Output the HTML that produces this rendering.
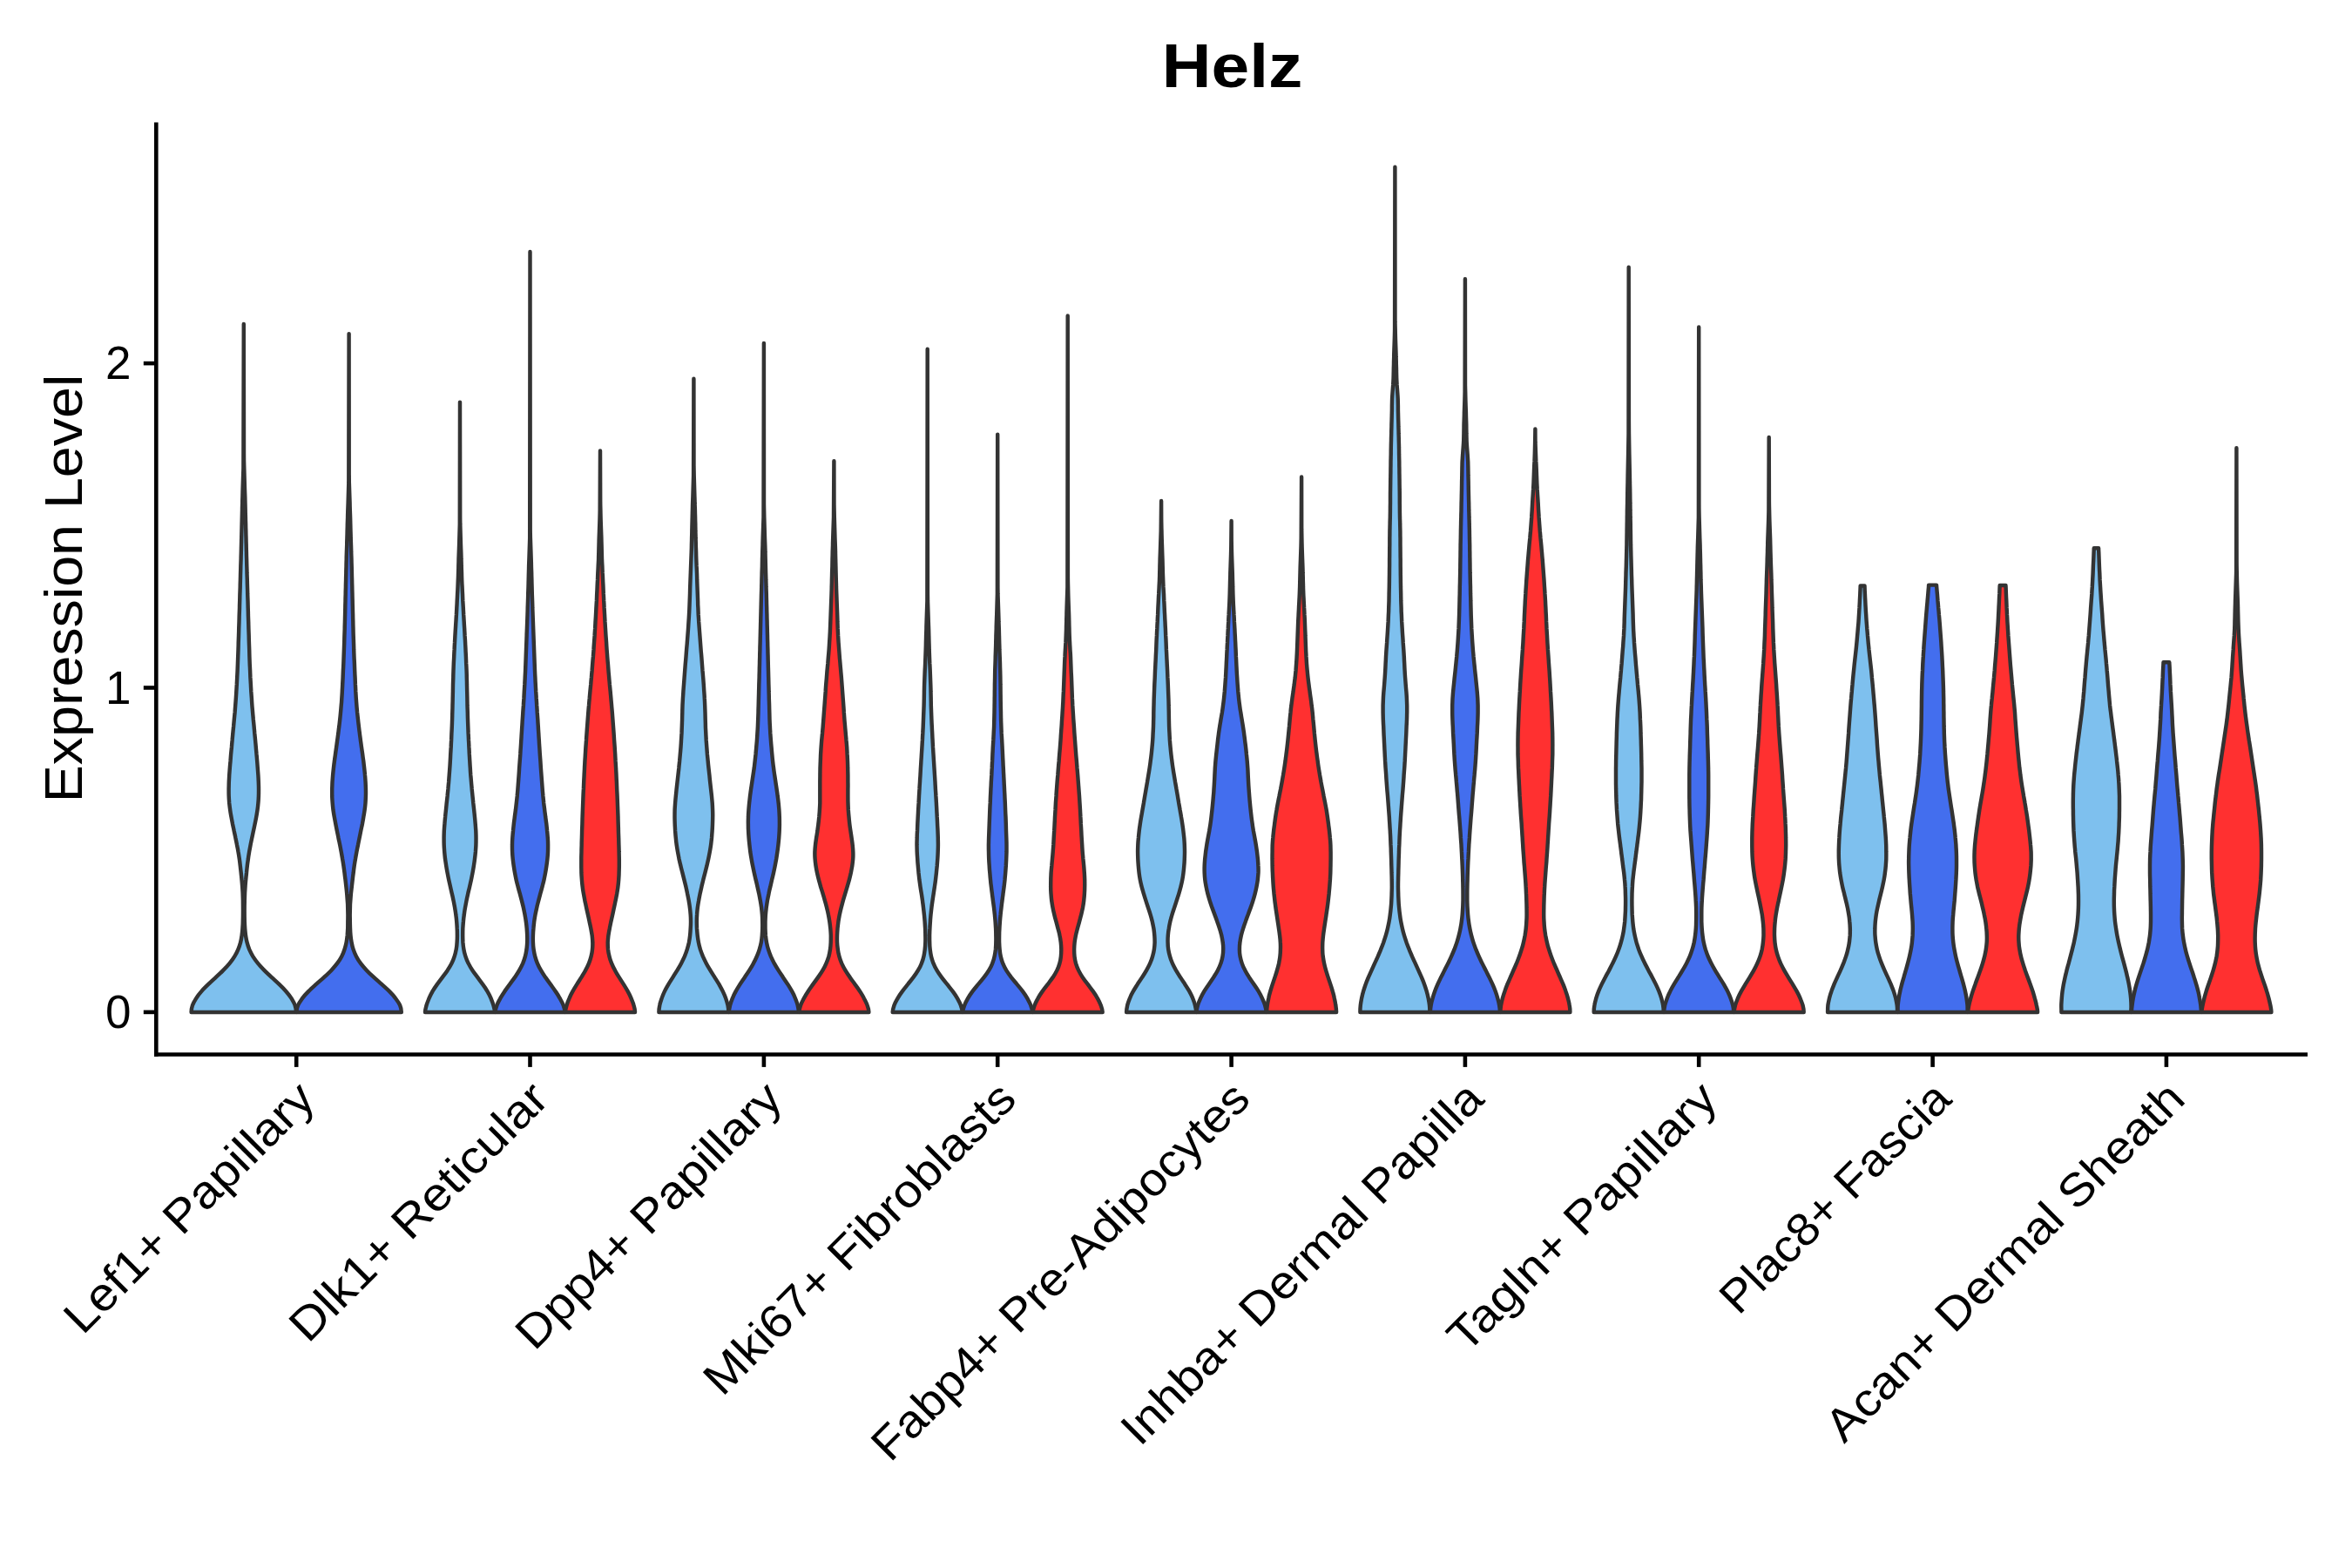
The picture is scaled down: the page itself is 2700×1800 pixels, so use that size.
<!DOCTYPE html>
<html><head><meta charset="utf-8"><title>Helz</title>
<style>
html,body{margin:0;padding:0;background:#fff;}
body{width:2700px;height:1800px;overflow:hidden;}
svg{display:block;}
text{font-family:"Liberation Sans",sans-serif;fill:#000;}
.v{stroke:#333333;stroke-width:4.45;stroke-linejoin:round;stroke-linecap:round;}
.ax{stroke:#000;stroke-width:4.6;fill:none;stroke-linecap:butt;}
</style></head><body>
<svg xmlns="http://www.w3.org/2000/svg" width="2700" height="1800" viewBox="0 0 2700 1800">
<rect width="2700" height="1800" fill="#ffffff"/>

<g>
<path class="v" fill="#7EC0EE" d="M340 1161.9C340 1159.2 339.6 1156.6 338.6 1153.9C337.7 1151.2 336 1148.6 334.4 1145.9C332.7 1143.2 330.7 1140.6 328.3 1137.9C325.9 1135.2 323.3 1132.6 320.5 1129.9C317.7 1127.2 314.7 1124.6 311.8 1121.9C308.9 1119.2 306.1 1116.6 303.4 1113.9C300.8 1111.2 298.3 1108.6 296.1 1105.9C293.9 1103.2 292 1100.6 290.3 1097.9C288.7 1095.2 287.4 1092.6 286.2 1089.9C285.1 1087.2 284.3 1084.6 283.6 1081.9C282.9 1079.2 282.4 1076.6 282 1073.9C281.7 1071.2 281.4 1068.6 281.2 1065.9C281 1063.2 280.9 1060.6 280.8 1057.9C280.6 1049.9 280.6 1041.9 280.8 1033.9C280.9 1025.9 281.4 1017.9 282.2 1009.9C282.4 1007.2 282.7 1004.6 283 1001.9C283.2 999.2 283.5 996.6 283.8 993.9C284.1 991.2 284.5 988.6 284.9 985.9C285.2 983.2 285.7 980.6 286.1 977.9C286.6 975.2 287.1 972.6 287.6 969.9C288.1 967.2 288.7 964.6 289.2 961.9C289.8 959.2 290.4 956.6 290.9 953.9C291.5 951.2 292.1 948.6 292.6 945.9C293.2 943.2 293.7 940.6 294.2 937.9C294.7 935.2 295.1 932.6 295.5 929.9C295.9 927.2 296.2 924.6 296.4 921.9C296.7 919.2 296.8 916.6 296.9 913.9C297 911.2 297 908.6 297 905.9C297 903.2 296.9 900.6 296.8 897.9C296.7 895.2 296.6 892.6 296.4 889.9C296.2 887.2 296 884.6 295.8 881.9C295.6 879.2 295.4 876.6 295.2 873.9C295 871.2 294.8 868.6 294.5 865.9C294.3 863.2 294 860.6 293.8 857.9C293.6 855.2 293.3 852.6 293.1 849.9C292.8 847.2 292.6 844.6 292.3 841.9C292.1 839.2 291.8 836.6 291.6 833.9C291.3 831.2 291.1 828.6 290.8 825.9C290.6 823.2 290.3 820.6 290.1 817.9C289.9 815.2 289.6 812.6 289.4 809.9C289.2 807.2 289 804.6 288.9 801.9C288.7 799.2 288.5 796.6 288.3 793.9C288.2 791.2 288 788.6 287.9 785.9C287.7 783.2 287.6 780.6 287.4 777.9C287.3 775.2 287.2 772.6 287.1 769.9C287 767.2 286.8 764.6 286.7 761.9C286.6 759.2 286.5 756.6 286.4 753.9C286.3 751.2 286.3 748.6 286.2 745.9C286.1 743.2 286 740.6 285.9 737.9C285.8 735.2 285.7 732.6 285.7 729.9C285.6 727.2 285.5 724.6 285.4 721.9C285.3 719.2 285.3 716.6 285.2 713.9C285.1 711.2 285 708.6 284.9 705.9C284.9 703.2 284.8 700.6 284.7 697.9C284.6 695.2 284.6 692.6 284.5 689.9C284.4 687.2 284.3 684.6 284.2 681.9C284.2 679.2 284.1 676.6 284 673.9C283.9 671.2 283.8 668.6 283.8 665.9C283.7 663.2 283.6 660.6 283.5 657.9C283.5 655.2 283.4 652.6 283.3 649.9C283.2 647.2 283.2 644.6 283.1 641.9C283 639.2 282.9 636.6 282.9 633.9C282.8 631.2 282.7 628.6 282.7 625.9C282.6 623.2 282.5 620.6 282.5 617.9C282.4 615.2 282.3 612.6 282.3 609.9C282.2 607.2 282.1 604.6 282.1 601.9C282 599.2 281.9 596.6 281.9 593.9C281.8 591.2 281.7 588.6 281.7 585.9C281.6 583.2 281.6 580.6 281.5 577.9C281.4 575.2 281.4 572.6 281.3 569.9C281.2 567.2 281.1 564.6 281 561.9C280.8 553.9 280.5 545.9 280.3 537.9C280.1 532 280 526.2 280 520.3L279.8 372C279.6 526.2 279.5 532 279.4 537.9C279.2 545.9 278.9 553.9 278.6 561.9C278.5 564.6 278.5 567.2 278.4 569.9C278.3 572.6 278.2 575.2 278.2 577.9C278.1 580.6 278 583.2 278 585.9C277.9 588.6 277.9 591.2 277.8 593.9C277.7 596.6 277.7 599.2 277.6 601.9C277.5 604.6 277.5 607.2 277.4 609.9C277.3 612.6 277.3 615.2 277.2 617.9C277.1 620.6 277.1 623.2 277 625.9C276.9 628.6 276.9 631.2 276.8 633.9C276.7 636.6 276.6 639.2 276.6 641.9C276.5 644.6 276.4 647.2 276.3 649.9C276.3 652.6 276.2 655.2 276.1 657.9C276 660.6 276 663.2 275.9 665.9C275.8 668.6 275.7 671.2 275.7 673.9C275.6 676.6 275.5 679.2 275.4 681.9C275.3 684.6 275.3 687.2 275.2 689.9C275.1 692.6 275 695.2 275 697.9C274.9 700.6 274.8 703.2 274.7 705.9C274.6 708.6 274.6 711.2 274.5 713.9C274.4 716.6 274.3 719.2 274.2 721.9C274.2 724.6 274.1 727.2 274 729.9C273.9 732.6 273.8 735.2 273.7 737.9C273.7 740.6 273.6 743.2 273.5 745.9C273.4 748.6 273.3 751.2 273.2 753.9C273.1 756.6 273 759.2 272.9 761.9C272.8 764.6 272.7 767.2 272.6 769.9C272.5 772.6 272.3 775.2 272.2 777.9C272.1 780.6 271.9 783.2 271.8 785.9C271.6 788.6 271.5 791.2 271.3 793.9C271.2 796.6 271 799.2 270.8 801.9C270.6 804.6 270.4 807.2 270.2 809.9C270 812.6 269.8 815.2 269.6 817.9C269.3 820.6 269.1 823.2 268.8 825.9C268.6 828.6 268.3 831.2 268.1 833.9C267.8 836.6 267.6 839.2 267.3 841.9C267.1 844.6 266.8 847.2 266.6 849.9C266.3 852.6 266.1 855.2 265.9 857.9C265.6 860.6 265.4 863.2 265.1 865.9C264.9 868.6 264.7 871.2 264.5 873.9C264.2 876.6 264 879.2 263.8 881.9C263.6 884.6 263.4 887.2 263.2 889.9C263.1 892.6 262.9 895.2 262.8 897.9C262.7 900.6 262.7 903.2 262.6 905.9C262.6 908.6 262.6 911.2 262.7 913.9C262.8 916.6 263 919.2 263.2 921.9C263.5 924.6 263.8 927.2 264.2 929.9C264.5 932.6 265 935.2 265.5 937.9C266 940.6 266.5 943.2 267 945.9C267.6 948.6 268.2 951.2 268.7 953.9C269.3 956.6 269.9 959.2 270.4 961.9C271 964.6 271.5 967.2 272 969.9C272.6 972.6 273.1 975.2 273.5 977.9C274 980.6 274.4 983.2 274.8 985.9C275.2 988.6 275.5 991.2 275.8 993.9C276.1 996.6 276.4 999.2 276.7 1001.9C277 1004.6 277.2 1007.2 277.5 1009.9C278.3 1017.9 278.8 1025.9 278.9 1033.9C279 1041.9 279.1 1049.9 278.8 1057.9C278.8 1060.6 278.6 1063.2 278.4 1065.9C278.3 1068.6 278 1071.2 277.6 1073.9C277.2 1076.6 276.8 1079.2 276.1 1081.9C275.4 1084.6 274.5 1087.2 273.4 1089.9C272.3 1092.6 271 1095.2 269.3 1097.9C267.7 1100.6 265.8 1103.2 263.6 1105.9C261.4 1108.6 258.9 1111.2 256.2 1113.9C253.6 1116.6 250.7 1119.2 247.8 1121.9C244.9 1124.6 242 1127.2 239.2 1129.9C236.4 1132.6 233.7 1135.2 231.4 1137.9C229 1140.6 226.9 1143.2 225.3 1145.9C223.6 1148.6 222 1151.2 221 1153.9C220.1 1156.6 219.6 1159.2 219.6 1161.9Z"/>
<path class="v" fill="#436EEE" d="M460.8 1161.9C460.8 1159.2 460.3 1156.6 459.1 1153.9C457.9 1151.2 455.9 1148.6 453.9 1145.9C452 1143.2 449.6 1140.6 446.9 1137.9C444.2 1135.2 441.2 1132.6 438.2 1129.9C435.2 1127.2 432.1 1124.6 429.2 1121.9C426.2 1119.2 423.4 1116.6 420.9 1113.9C418.3 1111.2 416 1108.6 414 1105.9C412 1103.2 410.4 1100.6 409 1097.9C407.6 1095.2 406.5 1092.6 405.6 1089.9C404.7 1087.2 404.1 1084.6 403.6 1081.9C403.1 1079.2 402.7 1076.6 402.5 1073.9C402.2 1071.2 402.1 1068.6 402 1065.9C401.9 1063.2 401.8 1060.6 401.8 1057.9C401.8 1055.2 401.7 1052.6 401.7 1049.9C401.7 1041.9 402.1 1033.9 402.9 1025.9C403.2 1023.2 403.5 1020.6 403.8 1017.9C404.1 1015.2 404.4 1012.6 404.7 1009.9C405 1007.2 405.3 1004.6 405.7 1001.9C406 999.2 406.3 996.6 406.7 993.9C407.1 991.2 407.5 988.6 408 985.9C408.4 983.2 408.9 980.6 409.4 977.9C409.9 975.2 410.4 972.6 411 969.9C411.5 967.2 412.1 964.6 412.6 961.9C413.2 959.2 413.7 956.6 414.2 953.9C414.8 951.2 415.3 948.6 415.9 945.9C416.4 943.2 416.9 940.6 417.3 937.9C417.8 935.2 418.2 932.6 418.6 929.9C419 927.2 419.3 924.6 419.5 921.9C419.7 919.2 419.8 916.6 419.9 913.9C420 911.2 420 908.6 419.9 905.9C419.9 903.2 419.7 900.6 419.6 897.9C419.4 895.2 419.3 892.6 419 889.9C418.8 887.2 418.5 884.6 418.2 881.9C417.9 879.2 417.6 876.6 417.3 873.9C416.9 871.2 416.5 868.6 416.2 865.9C415.8 863.2 415.4 860.6 415 857.9C414.7 855.2 414.3 852.6 413.9 849.9C413.6 847.2 413.2 844.6 412.9 841.9C412.5 839.2 412.2 836.6 411.9 833.9C411.6 831.2 411.2 828.6 411 825.9C410.7 823.2 410.4 820.6 410.1 817.9C409.9 815.2 409.6 812.6 409.4 809.9C409.2 807.2 409 804.6 408.8 801.9C408.6 799.2 408.5 796.6 408.3 793.9C408.2 791.2 408.1 788.6 407.9 785.9C407.8 783.2 407.7 780.6 407.6 777.9C407.4 775.2 407.3 772.6 407.2 769.9C407.1 767.2 407 764.6 406.9 761.9C406.8 759.2 406.6 756.6 406.5 753.9C406.4 751.2 406.3 748.6 406.2 745.9C406.2 743.2 406.1 740.6 406 737.9C405.9 735.2 405.8 732.6 405.7 729.9C405.6 727.2 405.5 724.6 405.5 721.9C405.4 719.2 405.3 716.6 405.3 713.9C405.2 711.2 405.1 708.6 405.1 705.9C405 703.2 404.9 700.6 404.9 697.9C404.8 695.2 404.7 692.6 404.7 689.9C404.6 687.2 404.5 684.6 404.5 681.9C404.4 679.2 404.3 676.6 404.3 673.9C404.2 671.2 404.1 668.6 404.1 665.9C404 663.2 403.9 660.6 403.9 657.9C403.8 655.2 403.8 652.6 403.7 649.9C403.6 647.2 403.5 644.6 403.5 641.9C403.4 639.2 403.3 636.6 403.2 633.9C403.2 631.2 403.1 628.6 403 625.9C402.9 623.2 402.8 620.6 402.7 617.9C402.7 615.2 402.6 612.6 402.5 609.9C402.4 607.2 402.4 604.6 402.3 601.9C402.2 599.2 402.2 596.6 402.1 593.9C402 591.2 401.9 588.6 401.8 585.9C401.7 583.2 401.6 580.6 401.6 577.9C401.3 569.9 401 561.9 400.8 553.9C400.8 551.3 400.8 548.8 400.7 546.2L400.6 383.1C400.4 548.8 400.3 551.3 400.3 553.9C400.1 561.9 399.9 569.9 399.6 577.9C399.5 580.6 399.4 583.2 399.3 585.9C399.2 588.6 399.1 591.2 399.1 593.9C399 596.6 398.9 599.2 398.8 601.9C398.8 604.6 398.7 607.2 398.6 609.9C398.6 612.6 398.5 615.2 398.4 617.9C398.3 620.6 398.2 623.2 398.2 625.9C398.1 628.6 398 631.2 397.9 633.9C397.8 636.6 397.7 639.2 397.7 641.9C397.6 644.6 397.5 647.2 397.5 649.9C397.4 652.6 397.3 655.2 397.3 657.9C397.2 660.6 397.1 663.2 397.1 665.9C397 668.6 396.9 671.2 396.9 673.9C396.8 676.6 396.7 679.2 396.7 681.9C396.6 684.6 396.5 687.2 396.5 689.9C396.4 692.6 396.3 695.2 396.3 697.9C396.2 700.6 396.2 703.2 396.1 705.9C396 708.6 396 711.2 395.9 713.9C395.8 716.6 395.7 719.2 395.7 721.9C395.6 724.6 395.5 727.2 395.4 729.9C395.3 732.6 395.3 735.2 395.2 737.9C395.1 740.6 395 743.2 394.9 745.9C394.8 748.6 394.7 751.2 394.6 753.9C394.5 756.6 394.4 759.2 394.3 761.9C394.2 764.6 394.1 767.2 393.9 769.9C393.8 772.6 393.7 775.2 393.6 777.9C393.5 780.6 393.3 783.2 393.2 785.9C393.1 788.6 392.9 791.2 392.8 793.9C392.7 796.6 392.5 799.2 392.3 801.9C392.2 804.6 392 807.2 391.7 809.9C391.5 812.6 391.3 815.2 391 817.9C390.8 820.6 390.5 823.2 390.2 825.9C389.9 828.6 389.6 831.2 389.3 833.9C388.9 836.6 388.6 839.2 388.3 841.9C387.9 844.6 387.6 847.2 387.2 849.9C386.8 852.6 386.5 855.2 386.1 857.9C385.7 860.6 385.3 863.2 385 865.9C384.6 868.6 384.2 871.2 383.9 873.9C383.5 876.6 383.2 879.2 382.9 881.9C382.6 884.6 382.3 887.2 382.1 889.9C381.9 892.6 381.7 895.2 381.5 897.9C381.4 900.6 381.3 903.2 381.2 905.9C381.2 908.6 381.2 911.2 381.2 913.9C381.3 916.6 381.5 919.2 381.7 921.9C381.9 924.6 382.2 927.2 382.5 929.9C382.9 932.6 383.3 935.2 383.8 937.9C384.3 940.6 384.8 943.2 385.3 945.9C385.8 948.6 386.3 951.2 386.9 953.9C387.4 956.6 388 959.2 388.5 961.9C389.1 964.6 389.6 967.2 390.2 969.9C390.7 972.6 391.2 975.2 391.7 977.9C392.2 980.6 392.7 983.2 393.1 985.9C393.6 988.6 394 991.2 394.4 993.9C394.8 996.6 395.1 999.2 395.5 1001.9C395.8 1004.6 396.1 1007.2 396.5 1009.9C396.8 1012.6 397.1 1015.2 397.4 1017.9C397.7 1020.6 398 1023.2 398.2 1025.9C399 1033.9 399.4 1041.9 399.4 1049.9C399.4 1052.6 399.4 1055.2 399.3 1057.9C399.3 1060.6 399.3 1063.2 399.2 1065.9C399.1 1068.6 398.9 1071.2 398.7 1073.9C398.4 1076.6 398.1 1079.2 397.6 1081.9C397.1 1084.6 396.4 1087.2 395.5 1089.9C394.7 1092.6 393.6 1095.2 392.2 1097.9C390.8 1100.6 389.1 1103.2 387.1 1105.9C385.1 1108.6 382.8 1111.2 380.3 1113.9C377.7 1116.6 374.9 1119.2 372 1121.9C369 1124.6 365.9 1127.2 362.9 1129.9C359.9 1132.6 356.9 1135.2 354.3 1137.9C351.6 1140.6 349.2 1143.2 347.2 1145.9C345.3 1148.6 343.3 1151.2 342.1 1153.9C340.9 1156.6 340.4 1159.2 340.4 1161.9Z"/>
<path class="v" fill="#7EC0EE" d="M568 1161.9C568 1159.2 567.2 1156.6 566.4 1153.9C565.7 1151.2 564.6 1148.6 563.5 1145.9C562.4 1143.2 561 1140.6 559.4 1137.9C557.9 1135.2 556.1 1132.6 554.1 1129.9C552.2 1127.2 550.2 1124.6 548.2 1121.9C546.2 1119.2 544.2 1116.6 542.4 1113.9C540.6 1111.2 539 1108.6 537.7 1105.9C536.3 1103.2 535.2 1100.6 534.4 1097.9C533.5 1095.2 532.8 1092.6 532.4 1089.9C531.9 1087.2 531.6 1084.6 531.4 1081.9C531.3 1079.2 531.2 1076.6 531.2 1073.9C531.2 1071.2 531.2 1068.6 531.3 1065.9C531.5 1063.2 531.6 1060.6 531.9 1057.9C532.1 1055.2 532.4 1052.6 532.8 1049.9C533.1 1047.2 533.5 1044.6 534 1041.9C534.5 1039.2 535 1036.6 535.5 1033.9C536 1031.2 536.6 1028.6 537.2 1025.9C537.8 1023.2 538.5 1020.6 539.1 1017.9C539.7 1015.2 540.3 1012.6 540.9 1009.9C541.5 1007.2 542 1004.6 542.5 1001.9C543 999.2 543.5 996.6 543.9 993.9C544.3 991.2 544.7 988.6 545 985.9C545.4 983.2 545.6 980.6 545.9 977.9C546.1 975.2 546.3 972.6 546.4 969.9C546.5 967.2 546.5 964.6 546.5 961.9C546.5 959.2 546.4 956.6 546.3 953.9C546.1 951.2 545.9 948.6 545.7 945.9C545.5 943.2 545.3 940.6 545 937.9C544.7 935.2 544.5 932.6 544.2 929.9C543.9 927.2 543.6 924.6 543.3 921.9C543.1 919.2 542.8 916.6 542.5 913.9C542.2 911.2 542 908.6 541.7 905.9C541.5 903.2 541.2 900.6 541 897.9C540.8 895.2 540.6 892.6 540.3 889.9C540.1 887.2 539.9 884.6 539.8 881.9C539.6 879.2 539.4 876.6 539.3 873.9C539.1 871.2 539 868.6 538.8 865.9C538.7 863.2 538.6 860.6 538.4 857.9C538.3 855.2 538.2 852.6 538 849.9C537.9 847.2 537.8 844.6 537.6 841.9C537.5 839.2 537.4 836.6 537.3 833.9C537.2 831.2 537.1 828.6 537 825.9C536.9 823.2 536.8 820.6 536.8 817.9C536.7 815.2 536.6 812.6 536.5 809.9C536.5 807.2 536.4 804.6 536.4 801.9C536.3 799.2 536.3 796.6 536.2 793.9C536.1 791.2 536.1 788.6 536 785.9C536 783.2 535.9 780.6 535.8 777.9C535.8 775.2 535.7 772.6 535.6 769.9C535.5 767.2 535.4 764.6 535.2 761.9C535.1 759.2 535 756.6 534.9 753.9C534.8 751.2 534.6 748.6 534.5 745.9C534.4 743.2 534.2 740.6 534.1 737.9C534 735.2 533.8 732.6 533.6 729.9C533.5 727.2 533.3 724.6 533.2 721.9C533 719.2 532.8 716.6 532.7 713.9C532.5 711.2 532.4 708.6 532.2 705.9C532.1 703.2 531.9 700.6 531.8 697.9C531.6 695.2 531.5 692.6 531.3 689.9C531.2 687.2 531.1 684.6 531 681.9C530.8 679.2 530.7 676.6 530.6 673.9C530.4 671.2 530.3 668.6 530.2 665.9C530.1 663.2 530 660.6 530 657.9C529.9 655.2 529.8 652.6 529.7 649.9C529.7 647.2 529.6 644.6 529.5 641.9C529.5 639.2 529.4 636.6 529.3 633.9C529.2 631.2 529.1 628.6 529 625.9C528.7 617.9 528.5 609.9 528.3 601.9C528.3 599.4 528.2 596.9 528.2 594.4L528 461.6C527.9 596.9 527.8 599.4 527.8 601.9C527.6 609.9 527.4 617.9 527.1 625.9C527 628.6 526.9 631.2 526.8 633.9C526.7 636.6 526.6 639.2 526.5 641.9C526.5 644.6 526.4 647.2 526.3 649.9C526.3 652.6 526.2 655.2 526.1 657.9C526 660.6 526 663.2 525.8 665.9C525.7 668.6 525.6 671.2 525.5 673.9C525.4 676.6 525.3 679.2 525.1 681.9C525 684.6 524.9 687.2 524.7 689.9C524.6 692.6 524.5 695.2 524.3 697.9C524.2 700.6 524 703.2 523.9 705.9C523.7 708.6 523.6 711.2 523.4 713.9C523.2 716.6 523.1 719.2 522.9 721.9C522.7 724.6 522.6 727.2 522.4 729.9C522.3 732.6 522.1 735.2 522 737.9C521.8 740.6 521.7 743.2 521.6 745.9C521.4 748.6 521.3 751.2 521.2 753.9C521.1 756.6 520.9 759.2 520.8 761.9C520.7 764.6 520.6 767.2 520.5 769.9C520.4 772.6 520.3 775.2 520.3 777.9C520.2 780.6 520.1 783.2 520 785.9C520 788.6 519.9 791.2 519.9 793.9C519.8 796.6 519.8 799.2 519.7 801.9C519.7 804.6 519.6 807.2 519.5 809.9C519.5 812.6 519.4 815.2 519.3 817.9C519.2 820.6 519.2 823.2 519.1 825.9C519 828.6 518.9 831.2 518.8 833.9C518.7 836.6 518.6 839.2 518.4 841.9C518.3 844.6 518.2 847.2 518.1 849.9C517.9 852.6 517.8 855.2 517.7 857.9C517.5 860.6 517.4 863.2 517.2 865.9C517.1 868.6 517 871.2 516.8 873.9C516.7 876.6 516.5 879.2 516.3 881.9C516.1 884.6 515.9 887.2 515.7 889.9C515.5 892.6 515.3 895.2 515.1 897.9C514.8 900.6 514.6 903.2 514.4 905.9C514.1 908.6 513.8 911.2 513.6 913.9C513.3 916.6 513 919.2 512.7 921.9C512.5 924.6 512.2 927.2 511.9 929.9C511.6 932.6 511.3 935.2 511.1 937.9C510.8 940.6 510.6 943.2 510.4 945.9C510.1 948.6 510 951.2 509.8 953.9C509.7 956.6 509.6 959.2 509.6 961.9C509.6 964.6 509.6 967.2 509.7 969.9C509.8 972.6 510 975.2 510.2 977.9C510.4 980.6 510.7 983.2 511 985.9C511.4 988.6 511.8 991.2 512.2 993.9C512.6 996.6 513.1 999.2 513.6 1001.9C514.1 1004.6 514.6 1007.2 515.2 1009.9C515.8 1012.6 516.4 1015.2 517 1017.9C517.6 1020.6 518.2 1023.2 518.8 1025.9C519.5 1028.6 520 1031.2 520.6 1033.9C521.1 1036.6 521.6 1039.2 522.1 1041.9C522.5 1044.6 523 1047.2 523.3 1049.9C523.7 1052.6 524 1055.2 524.2 1057.9C524.4 1060.6 524.6 1063.2 524.7 1065.9C524.9 1068.6 524.9 1071.2 524.9 1073.9C524.9 1076.6 524.8 1079.2 524.6 1081.9C524.5 1084.6 524.2 1087.2 523.7 1089.9C523.2 1092.6 522.6 1095.2 521.7 1097.9C520.9 1100.6 519.8 1103.2 518.4 1105.9C517 1108.6 515.4 1111.2 513.7 1113.9C511.9 1116.6 509.9 1119.2 507.9 1121.9C505.9 1124.6 503.9 1127.2 501.9 1129.9C500 1132.6 498.2 1135.2 496.6 1137.9C495.1 1140.6 493.7 1143.2 492.6 1145.9C491.5 1148.6 490.4 1151.2 489.6 1153.9C488.9 1156.6 488 1159.2 488 1161.9Z"/>
<path class="v" fill="#436EEE" d="M648.5 1161.9C648.5 1159.2 647.7 1156.6 646.7 1153.9C645.6 1151.2 644.1 1148.6 642.6 1145.9C641.2 1143.2 639.5 1140.6 637.6 1137.9C635.8 1135.2 633.8 1132.6 631.9 1129.9C629.9 1127.2 628 1124.6 626.1 1121.9C624.3 1119.2 622.5 1116.6 621 1113.9C619.4 1111.2 618 1108.6 616.9 1105.9C615.8 1103.2 614.9 1100.6 614.2 1097.9C613.5 1095.2 613 1092.6 612.6 1089.9C612.2 1087.2 612 1084.6 611.9 1081.9C611.8 1079.2 611.8 1076.6 611.9 1073.9C612 1071.2 612.1 1068.6 612.4 1065.9C612.6 1063.2 612.9 1060.6 613.2 1057.9C613.6 1055.2 614 1052.6 614.5 1049.9C615 1047.2 615.6 1044.6 616.2 1041.9C616.8 1039.2 617.5 1036.6 618.2 1033.9C618.9 1031.2 619.6 1028.6 620.3 1025.9C621.1 1023.2 621.8 1020.6 622.5 1017.9C623.2 1015.2 623.9 1012.6 624.5 1009.9C625.1 1007.2 625.6 1004.6 626.1 1001.9C626.6 999.2 627 996.6 627.4 993.9C627.8 991.2 628.1 988.6 628.4 985.9C628.7 983.2 628.9 980.6 629 977.9C629.1 975.2 629.1 972.6 629.1 969.9C629.1 967.2 629 964.6 628.8 961.9C628.6 959.2 628.4 956.6 628.1 953.9C627.9 951.2 627.6 948.6 627.3 945.9C626.9 943.2 626.6 940.6 626.2 937.9C625.9 935.2 625.5 932.6 625.2 929.9C624.9 927.2 624.5 924.6 624.2 921.9C624 919.2 623.7 916.6 623.4 913.9C623.2 911.2 622.9 908.6 622.7 905.9C622.5 903.2 622.3 900.6 622.1 897.9C621.9 895.2 621.7 892.6 621.5 889.9C621.3 887.2 621.1 884.6 620.9 881.9C620.7 879.2 620.6 876.6 620.4 873.9C620.2 871.2 620 868.6 619.8 865.9C619.6 863.2 619.5 860.6 619.3 857.9C619.1 855.2 618.9 852.6 618.8 849.9C618.6 847.2 618.4 844.6 618.3 841.9C618.1 839.2 617.9 836.6 617.8 833.9C617.6 831.2 617.4 828.6 617.3 825.9C617.1 823.2 616.9 820.6 616.7 817.9C616.6 815.2 616.4 812.6 616.2 809.9C616.1 807.2 615.9 804.6 615.7 801.9C615.6 799.2 615.4 796.6 615.2 793.9C615.1 791.2 614.9 788.6 614.8 785.9C614.6 783.2 614.5 780.6 614.4 777.9C614.2 775.2 614.1 772.6 614 769.9C613.9 767.2 613.8 764.6 613.7 761.9C613.6 759.2 613.5 756.6 613.4 753.9C613.3 751.2 613.2 748.6 613.1 745.9C613 743.2 612.9 740.6 612.8 737.9C612.7 735.2 612.6 732.6 612.5 729.9C612.4 727.2 612.3 724.6 612.2 721.9C612.1 719.2 612 716.6 611.9 713.9C611.8 711.2 611.7 708.6 611.6 705.9C611.5 703.2 611.4 700.6 611.3 697.9C611.3 695.2 611.2 692.6 611.1 689.9C611 687.2 610.9 684.6 610.8 681.9C610.7 679.2 610.7 676.6 610.6 673.9C610.5 671.2 610.4 668.6 610.4 665.9C610.3 663.2 610.2 660.6 610.2 657.9C610.1 655.2 610 652.6 609.9 649.9C609.9 647.2 609.8 644.6 609.7 641.9C609.4 633.9 609.1 625.9 608.9 617.9C608.8 613.9 608.7 609.9 608.7 605.9L608.5 288.9C608.3 609.9 608.3 613.9 608.2 617.9C608 625.9 607.7 633.9 607.4 641.9C607.3 644.6 607.2 647.2 607.1 649.9C607.1 652.6 607 655.2 606.9 657.9C606.8 660.6 606.8 663.2 606.7 665.9C606.6 668.6 606.6 671.2 606.5 673.9C606.4 676.6 606.3 679.2 606.2 681.9C606.2 684.6 606.1 687.2 606 689.9C605.9 692.6 605.8 695.2 605.7 697.9C605.7 700.6 605.6 703.2 605.5 705.9C605.4 708.6 605.3 711.2 605.2 713.9C605.1 716.6 605 719.2 604.9 721.9C604.8 724.6 604.6 727.2 604.6 729.9C604.5 732.6 604.4 735.2 604.3 737.9C604.2 740.6 604.1 743.2 604 745.9C603.9 748.6 603.8 751.2 603.7 753.9C603.6 756.6 603.5 759.2 603.4 761.9C603.3 764.6 603.2 767.2 603.1 769.9C603 772.6 602.8 775.2 602.7 777.9C602.6 780.6 602.4 783.2 602.3 785.9C602.1 788.6 602 791.2 601.8 793.9C601.7 796.6 601.5 799.2 601.4 801.9C601.2 804.6 601 807.2 600.9 809.9C600.7 812.6 600.5 815.2 600.3 817.9C600.2 820.6 600 823.2 599.8 825.9C599.6 828.6 599.5 831.2 599.3 833.9C599.1 836.6 599 839.2 598.8 841.9C598.6 844.6 598.5 847.2 598.3 849.9C598.1 852.6 598 855.2 597.8 857.9C597.6 860.6 597.4 863.2 597.3 865.9C597.1 868.6 596.9 871.2 596.7 873.9C596.5 876.6 596.3 879.2 596.1 881.9C596 884.6 595.8 887.2 595.6 889.9C595.4 892.6 595.2 895.2 595 897.9C594.8 900.6 594.6 903.2 594.4 905.9C594.2 908.6 593.9 911.2 593.7 913.9C593.4 916.6 593.1 919.2 592.8 921.9C592.5 924.6 592.2 927.2 591.9 929.9C591.5 932.6 591.2 935.2 590.8 937.9C590.5 940.6 590.1 943.2 589.8 945.9C589.5 948.6 589.2 951.2 589 953.9C588.7 956.6 588.5 959.2 588.3 961.9C588.1 964.6 588 967.2 588 969.9C587.9 972.6 588 975.2 588.1 977.9C588.2 980.6 588.4 983.2 588.7 985.9C589 988.6 589.3 991.2 589.7 993.9C590.1 996.6 590.5 999.2 591 1001.9C591.5 1004.6 592 1007.2 592.6 1009.9C593.2 1012.6 593.9 1015.2 594.6 1017.9C595.3 1020.6 596 1023.2 596.8 1025.9C597.5 1028.6 598.2 1031.2 598.9 1033.9C599.6 1036.6 600.2 1039.2 600.9 1041.9C601.5 1044.6 602 1047.2 602.5 1049.9C603 1052.6 603.5 1055.2 603.8 1057.9C604.2 1060.6 604.5 1063.2 604.7 1065.9C604.9 1068.6 605.1 1071.2 605.2 1073.9C605.3 1076.6 605.3 1079.2 605.2 1081.9C605.1 1084.6 604.8 1087.2 604.5 1089.9C604.1 1092.6 603.6 1095.2 602.9 1097.9C602.2 1100.6 601.3 1103.2 600.2 1105.9C599 1108.6 597.7 1111.2 596.1 1113.9C594.6 1116.6 592.8 1119.2 591 1121.9C589.1 1124.6 587.1 1127.2 585.2 1129.9C583.2 1132.6 581.3 1135.2 579.4 1137.9C577.6 1140.6 575.9 1143.2 574.4 1145.9C573 1148.6 571.4 1151.2 570.4 1153.9C569.4 1156.6 568.5 1159.2 568.5 1161.9Z"/>
<path class="v" fill="#FF3030" d="M729 1161.9C729 1159.2 728.3 1156.6 727.5 1153.9C726.8 1151.2 725.6 1148.6 724.5 1145.9C723.4 1143.2 722.1 1140.6 720.6 1137.9C719.1 1135.2 717.5 1132.6 715.8 1129.9C714.1 1127.2 712.4 1124.6 710.7 1121.9C709 1119.2 707.4 1116.6 706 1113.9C704.5 1111.2 703.2 1108.6 702.1 1105.9C701 1103.2 700.1 1100.6 699.5 1097.9C698.8 1095.2 698.3 1092.6 698 1089.9C697.8 1087.2 697.7 1084.6 697.7 1081.9C697.8 1079.2 698.1 1076.6 698.4 1073.9C698.8 1071.2 699.2 1068.6 699.8 1065.9C700.3 1063.2 700.9 1060.6 701.4 1057.9C702 1055.2 702.6 1052.6 703.2 1049.9C703.8 1047.2 704.4 1044.6 704.9 1041.9C705.5 1039.2 706.1 1036.6 706.6 1033.9C707.2 1031.2 707.7 1028.6 708.2 1025.9C708.6 1023.2 709.1 1020.6 709.4 1017.9C709.8 1015.2 710 1012.6 710.2 1009.9C710.4 1007.2 710.6 1004.6 710.6 1001.9C710.7 999.2 710.8 996.6 710.8 993.9C710.8 991.2 710.8 988.6 710.8 985.9C710.7 983.2 710.7 980.6 710.6 977.9C710.6 975.2 710.5 972.6 710.4 969.9C710.3 967.2 710.3 964.6 710.2 961.9C710.1 959.2 710 956.6 709.9 953.9C709.9 951.2 709.8 948.6 709.7 945.9C709.6 943.2 709.5 940.6 709.5 937.9C709.4 935.2 709.3 932.6 709.2 929.9C709.1 927.2 709 924.6 708.9 921.9C708.8 919.2 708.7 916.6 708.6 913.9C708.5 911.2 708.3 908.6 708.2 905.9C708.1 903.2 708 900.6 707.9 897.9C707.7 895.2 707.6 892.6 707.5 889.9C707.4 887.2 707.2 884.6 707.1 881.9C706.9 879.2 706.8 876.6 706.6 873.9C706.5 871.2 706.3 868.6 706.2 865.9C706 863.2 705.8 860.6 705.7 857.9C705.5 855.2 705.3 852.6 705.1 849.9C704.9 847.2 704.8 844.6 704.6 841.9C704.4 839.2 704.2 836.6 704 833.9C703.8 831.2 703.6 828.6 703.4 825.9C703.2 823.2 703 820.6 702.8 817.9C702.6 815.2 702.3 812.6 702.1 809.9C701.9 807.2 701.6 804.6 701.4 801.9C701.2 799.2 700.9 796.6 700.7 793.9C700.4 791.2 700.2 788.6 699.9 785.9C699.7 783.2 699.4 780.6 699.2 777.9C699 775.2 698.7 772.6 698.5 769.9C698.3 767.2 698.1 764.6 697.9 761.9C697.6 759.2 697.4 756.6 697.2 753.9C697 751.2 696.8 748.6 696.6 745.9C696.4 743.2 696.2 740.6 696.1 737.9C695.9 735.2 695.7 732.6 695.5 729.9C695.3 727.2 695.2 724.6 695 721.9C694.8 719.2 694.7 716.6 694.5 713.9C694.4 711.2 694.2 708.6 694.1 705.9C693.9 703.2 693.8 700.6 693.6 697.9C693.5 695.2 693.4 692.6 693.2 689.9C693.1 687.2 693 684.6 692.8 681.9C692.7 679.2 692.6 676.6 692.5 673.9C692.4 671.2 692.2 668.6 692.1 665.9C692 663.2 691.9 660.6 691.7 657.9C691.6 655.2 691.5 652.6 691.4 649.9C691.2 647.2 691.1 644.6 691 641.9C690.9 639.2 690.9 636.6 690.8 633.9C690.7 631.2 690.7 628.6 690.6 625.9C690.5 623.2 690.4 620.6 690.4 617.9C690.3 615.2 690.2 612.6 690.1 609.9C689.8 601.9 689.5 593.9 689.4 585.9C689.3 582.6 689.2 579.4 689.2 576.1L689 517.4C688.8 579.4 688.8 582.6 688.7 585.9C688.6 593.9 688.3 601.9 688 609.9C687.9 612.6 687.8 615.2 687.7 617.9C687.6 620.6 687.6 623.2 687.5 625.9C687.4 628.6 687.4 631.2 687.3 633.9C687.2 636.6 687.1 639.2 687.1 641.9C687 644.6 686.8 647.2 686.7 649.9C686.6 652.6 686.5 655.2 686.3 657.9C686.2 660.6 686.1 663.2 686 665.9C685.8 668.6 685.7 671.2 685.6 673.9C685.5 676.6 685.4 679.2 685.2 681.9C685.1 684.6 685 687.2 684.9 689.9C684.7 692.6 684.6 695.2 684.4 697.9C684.3 700.6 684.2 703.2 684 705.9C683.9 708.6 683.7 711.2 683.5 713.9C683.4 716.6 683.2 719.2 683.1 721.9C682.9 724.6 682.7 727.2 682.6 729.9C682.4 732.6 682.2 735.2 682 737.9C681.8 740.6 681.6 743.2 681.5 745.9C681.3 748.6 681.1 751.2 680.9 753.9C680.6 756.6 680.4 759.2 680.2 761.9C680 764.6 679.8 767.2 679.6 769.9C679.3 772.6 679.1 775.2 678.9 777.9C678.6 780.6 678.4 783.2 678.2 785.9C677.9 788.6 677.7 791.2 677.4 793.9C677.2 796.6 676.9 799.2 676.7 801.9C676.4 804.6 676.2 807.2 676 809.9C675.7 812.6 675.5 815.2 675.3 817.9C675.1 820.6 674.9 823.2 674.7 825.9C674.5 828.6 674.3 831.2 674.1 833.9C673.9 836.6 673.7 839.2 673.5 841.9C673.3 844.6 673.1 847.2 673 849.9C672.8 852.6 672.6 855.2 672.4 857.9C672.2 860.6 672.1 863.2 671.9 865.9C671.8 868.6 671.6 871.2 671.4 873.9C671.3 876.6 671.1 879.2 671 881.9C670.9 884.6 670.7 887.2 670.6 889.9C670.5 892.6 670.3 895.2 670.2 897.9C670.1 900.6 670 903.2 669.9 905.9C669.7 908.6 669.6 911.2 669.5 913.9C669.4 916.6 669.3 919.2 669.2 921.9C669.1 924.6 669 927.2 668.9 929.9C668.8 932.6 668.7 935.2 668.6 937.9C668.5 940.6 668.5 943.2 668.4 945.9C668.3 948.6 668.2 951.2 668.1 953.9C668.1 956.6 668 959.2 667.9 961.9C667.8 964.6 667.7 967.2 667.7 969.9C667.6 972.6 667.5 975.2 667.5 977.9C667.4 980.6 667.3 983.2 667.3 985.9C667.3 988.6 667.3 991.2 667.3 993.9C667.3 996.6 667.4 999.2 667.4 1001.9C667.5 1004.6 667.7 1007.2 667.9 1009.9C668.1 1012.6 668.3 1015.2 668.7 1017.9C669 1020.6 669.4 1023.2 669.9 1025.9C670.4 1028.6 670.9 1031.2 671.4 1033.9C672 1036.6 672.5 1039.2 673.1 1041.9C673.7 1044.6 674.3 1047.2 674.9 1049.9C675.5 1052.6 676.1 1055.2 676.6 1057.9C677.2 1060.6 677.8 1063.2 678.3 1065.9C678.8 1068.6 679.3 1071.2 679.7 1073.9C680 1076.6 680.3 1079.2 680.3 1081.9C680.4 1084.6 680.3 1087.2 680 1089.9C679.8 1092.6 679.3 1095.2 678.6 1097.9C677.9 1100.6 677.1 1103.2 676 1105.9C674.9 1108.6 673.6 1111.2 672.1 1113.9C670.7 1116.6 669 1119.2 667.4 1121.9C665.7 1124.6 663.9 1127.2 662.3 1129.9C660.6 1132.6 658.9 1135.2 657.5 1137.9C656 1140.6 654.7 1143.2 653.6 1145.9C652.4 1148.6 651.3 1151.2 650.6 1153.9C649.8 1156.6 649 1159.2 649 1161.9Z"/>
<path class="v" fill="#7EC0EE" d="M836.4 1161.9C836.4 1159.2 836 1156.6 835.5 1153.9C834.9 1151.2 834 1148.6 833.1 1145.9C832.2 1143.2 831 1140.6 829.7 1137.9C828.4 1135.2 826.9 1132.6 825.4 1129.9C823.8 1127.2 822.1 1124.6 820.4 1121.9C818.7 1119.2 817 1116.6 815.4 1113.9C813.8 1111.2 812.2 1108.6 810.8 1105.9C809.4 1103.2 808.1 1100.6 806.9 1097.9C805.8 1095.2 804.8 1092.6 803.9 1089.9C803.1 1087.2 802.4 1084.6 801.9 1081.9C801.4 1079.2 801 1076.6 800.7 1073.9C800.4 1071.2 800.2 1068.6 800 1065.9C799.9 1063.2 799.8 1060.6 799.8 1057.9C799.8 1055.2 799.9 1052.6 800.1 1049.9C800.2 1047.2 800.5 1044.6 800.8 1041.9C801.2 1039.2 801.6 1036.6 802.1 1033.9C802.5 1031.2 803.1 1028.6 803.6 1025.9C804.2 1023.2 804.8 1020.6 805.4 1017.9C806 1015.2 806.7 1012.6 807.3 1009.9C808 1007.2 808.7 1004.6 809.4 1001.9C810.1 999.2 810.7 996.6 811.4 993.9C812 991.2 812.6 988.6 813.2 985.9C813.8 983.2 814.3 980.6 814.8 977.9C815.3 975.2 815.7 972.6 816.1 969.9C816.4 967.2 816.7 964.6 817 961.9C817.2 959.2 817.4 956.6 817.6 953.9C817.8 951.2 817.9 948.6 818 945.9C818.1 943.2 818.2 940.6 818.2 937.9C818.3 935.2 818.2 932.6 818.1 929.9C818 927.2 817.9 924.6 817.7 921.9C817.5 919.2 817.2 916.6 817 913.9C816.7 911.2 816.4 908.6 816.1 905.9C815.8 903.2 815.5 900.6 815.2 897.9C814.9 895.2 814.6 892.6 814.4 889.9C814.1 887.2 813.8 884.6 813.5 881.9C813.2 879.2 812.9 876.6 812.7 873.9C812.4 871.2 812.2 868.6 811.9 865.9C811.7 863.2 811.5 860.6 811.3 857.9C811.1 855.2 810.9 852.6 810.7 849.9C810.6 847.2 810.4 844.6 810.3 841.9C810.2 839.2 810 836.6 809.9 833.9C809.9 831.2 809.8 828.6 809.7 825.9C809.6 823.2 809.6 820.6 809.5 817.9C809.4 815.2 809.3 812.6 809.2 809.9C809.1 807.2 809 804.6 808.8 801.9C808.7 799.2 808.5 796.6 808.3 793.9C808.1 791.2 808 788.6 807.8 785.9C807.6 783.2 807.4 780.6 807.2 777.9C807 775.2 806.8 772.6 806.5 769.9C806.3 767.2 806.1 764.6 805.9 761.9C805.7 759.2 805.5 756.6 805.3 753.9C805.1 751.2 804.8 748.6 804.6 745.9C804.4 743.2 804.2 740.6 804 737.9C803.8 735.2 803.6 732.6 803.4 729.9C803.2 727.2 803 724.6 802.8 721.9C802.6 719.2 802.4 716.6 802.2 713.9C802.1 711.2 801.9 708.6 801.7 705.9C801.6 703.2 801.5 700.6 801.4 697.9C801.2 695.2 801.1 692.6 801.1 689.9C801 687.2 800.9 684.6 800.8 681.9C800.7 679.2 800.6 676.6 800.5 673.9C800.4 671.2 800.3 668.6 800.2 665.9C800.2 663.2 800.1 660.6 800 657.9C799.9 655.2 799.8 652.6 799.6 649.9C799.5 647.2 799.4 644.6 799.3 641.9C799.2 639.2 799.1 636.6 799.1 633.9C799 631.2 798.9 628.6 798.8 625.9C798.8 623.2 798.7 620.6 798.6 617.9C798.6 615.2 798.5 612.6 798.4 609.9C798.4 607.2 798.3 604.6 798.3 601.9C798.2 599.2 798.1 596.6 798.1 593.9C798 591.2 797.9 588.6 797.9 585.9C797.8 583.2 797.7 580.6 797.6 577.9C797.6 575.2 797.5 572.6 797.4 569.9C797.1 561.9 796.9 553.9 796.7 545.9C796.6 542.2 796.6 538.4 796.5 534.7L796.4 434.7C796.2 538.4 796.1 542.2 796.1 545.9C795.9 553.9 795.7 561.9 795.4 569.9C795.3 572.6 795.2 575.2 795.1 577.9C795 580.6 795 583.2 794.9 585.9C794.8 588.6 794.8 591.2 794.7 593.9C794.6 596.6 794.6 599.2 794.5 601.9C794.4 604.6 794.4 607.2 794.3 609.9C794.3 612.6 794.2 615.2 794.1 617.9C794.1 620.6 794 623.2 793.9 625.9C793.9 628.6 793.8 631.2 793.7 633.9C793.6 636.6 793.5 639.2 793.4 641.9C793.3 644.6 793.2 647.2 793.1 649.9C793 652.6 792.9 655.2 792.8 657.9C792.7 660.6 792.6 663.2 792.5 665.9C792.4 668.6 792.3 671.2 792.2 673.9C792.1 676.6 792.1 679.2 792 681.9C791.9 684.6 791.8 687.2 791.7 689.9C791.6 692.6 791.5 695.2 791.4 697.9C791.3 700.6 791.2 703.2 791 705.9C790.9 708.6 790.7 711.2 790.5 713.9C790.3 716.6 790.2 719.2 790 721.9C789.8 724.6 789.6 727.2 789.4 729.9C789.2 732.6 789 735.2 788.8 737.9C788.6 740.6 788.3 743.2 788.1 745.9C787.9 748.6 787.7 751.2 787.5 753.9C787.3 756.6 787.1 759.2 786.8 761.9C786.6 764.6 786.4 767.2 786.2 769.9C786 772.6 785.8 775.2 785.6 777.9C785.4 780.6 785.2 783.2 785 785.9C784.8 788.6 784.6 791.2 784.4 793.9C784.3 796.6 784.1 799.2 783.9 801.9C783.8 804.6 783.6 807.2 783.5 809.9C783.4 812.6 783.3 815.2 783.3 817.9C783.2 820.6 783.1 823.2 783.1 825.9C783 828.6 782.9 831.2 782.8 833.9C782.7 836.6 782.6 839.2 782.5 841.9C782.3 844.6 782.2 847.2 782 849.9C781.9 852.6 781.7 855.2 781.5 857.9C781.3 860.6 781.1 863.2 780.8 865.9C780.6 868.6 780.3 871.2 780.1 873.9C779.8 876.6 779.5 879.2 779.3 881.9C779 884.6 778.7 887.2 778.4 889.9C778.1 892.6 777.8 895.2 777.5 897.9C777.2 900.6 776.9 903.2 776.6 905.9C776.4 908.6 776.1 911.2 775.8 913.9C775.5 916.6 775.3 919.2 775.1 921.9C774.9 924.6 774.7 927.2 774.6 929.9C774.5 932.6 774.5 935.2 774.5 937.9C774.5 940.6 774.6 943.2 774.7 945.9C774.8 948.6 775 951.2 775.1 953.9C775.3 956.6 775.5 959.2 775.8 961.9C776 964.6 776.3 967.2 776.7 969.9C777.1 972.6 777.5 975.2 778 977.9C778.5 980.6 779 983.2 779.5 985.9C780.1 988.6 780.7 991.2 781.4 993.9C782 996.6 782.7 999.2 783.4 1001.9C784.1 1004.6 784.7 1007.2 785.4 1009.9C786.1 1012.6 786.7 1015.2 787.4 1017.9C788 1020.6 788.6 1023.2 789.1 1025.9C789.7 1028.6 790.2 1031.2 790.7 1033.9C791.1 1036.6 791.6 1039.2 791.9 1041.9C792.3 1044.6 792.5 1047.2 792.7 1049.9C792.9 1052.6 793 1055.2 793 1057.9C793 1060.6 792.9 1063.2 792.7 1065.9C792.6 1068.6 792.4 1071.2 792.1 1073.9C791.8 1076.6 791.4 1079.2 790.9 1081.9C790.3 1084.6 789.6 1087.2 788.8 1089.9C788 1092.6 787 1095.2 785.9 1097.9C784.7 1100.6 783.4 1103.2 782 1105.9C780.6 1108.6 779 1111.2 777.4 1113.9C775.7 1116.6 774 1119.2 772.4 1121.9C770.7 1124.6 769 1127.2 767.4 1129.9C765.8 1132.6 764.3 1135.2 763 1137.9C761.7 1140.6 760.6 1143.2 759.7 1145.9C758.8 1148.6 757.8 1151.2 757.3 1153.9C756.7 1156.6 756.4 1159.2 756.4 1161.9Z"/>
<path class="v" fill="#436EEE" d="M916.9 1161.9C916.9 1159.2 916.3 1156.6 915.7 1153.9C915 1151.2 913.9 1148.6 912.9 1145.9C911.9 1143.2 910.6 1140.6 909.1 1137.9C907.6 1135.2 906 1132.6 904.3 1129.9C902.5 1127.2 900.7 1124.6 898.9 1121.9C897.1 1119.2 895.3 1116.6 893.6 1113.9C891.9 1111.2 890.3 1108.6 888.8 1105.9C887.4 1103.2 886.1 1100.6 884.9 1097.9C883.8 1095.2 882.8 1092.6 882 1089.9C881.1 1087.2 880.5 1084.6 880 1081.9C879.5 1079.2 879.2 1076.6 878.9 1073.9C878.7 1071.2 878.6 1068.6 878.5 1065.9C878.5 1063.2 878.5 1060.6 878.5 1057.9C878.6 1055.2 878.7 1052.6 878.9 1049.9C879.1 1047.2 879.4 1044.6 879.7 1041.9C880.1 1039.2 880.5 1036.6 880.9 1033.9C881.4 1031.2 881.9 1028.6 882.5 1025.9C883 1023.2 883.6 1020.6 884.3 1017.9C884.9 1015.2 885.5 1012.6 886.1 1009.9C886.8 1007.2 887.4 1004.6 888 1001.9C888.6 999.2 889.2 996.6 889.7 993.9C890.2 991.2 890.7 988.6 891.2 985.9C891.6 983.2 892 980.6 892.4 977.9C892.8 975.2 893.1 972.6 893.4 969.9C893.7 967.2 894 964.6 894.2 961.9C894.4 959.2 894.6 956.6 894.7 953.9C894.8 951.2 894.9 948.6 894.9 945.9C894.9 943.2 894.9 940.6 894.8 937.9C894.7 935.2 894.6 932.6 894.4 929.9C894.2 927.2 894 924.6 893.7 921.9C893.4 919.2 893.1 916.6 892.7 913.9C892.4 911.2 892 908.6 891.6 905.9C891.2 903.2 890.8 900.6 890.4 897.9C890 895.2 889.6 892.6 889.2 889.9C888.8 887.2 888.4 884.6 888.1 881.9C887.7 879.2 887.4 876.6 887.1 873.9C886.8 871.2 886.5 868.6 886.3 865.9C886 863.2 885.8 860.6 885.6 857.9C885.3 855.2 885.1 852.6 884.9 849.9C884.7 847.2 884.5 844.6 884.3 841.9C884.2 839.2 884 836.6 883.9 833.9C883.7 831.2 883.6 828.6 883.5 825.9C883.4 823.2 883.4 820.6 883.3 817.9C883.2 815.2 883.1 812.6 883.1 809.9C883 807.2 882.9 804.6 882.8 801.9C882.8 799.2 882.7 796.6 882.6 793.9C882.6 791.2 882.5 788.6 882.4 785.9C882.3 783.2 882.3 780.6 882.2 777.9C882.1 775.2 882.1 772.6 882 769.9C881.9 767.2 881.8 764.6 881.8 761.9C881.7 759.2 881.6 756.6 881.6 753.9C881.5 751.2 881.4 748.6 881.4 745.9C881.3 743.2 881.2 740.6 881.2 737.9C881.1 735.2 881 732.6 881 729.9C880.9 727.2 880.8 724.6 880.8 721.9C880.7 719.2 880.6 716.6 880.6 713.9C880.5 711.2 880.4 708.6 880.4 705.9C880.3 703.2 880.2 700.6 880.2 697.9C880.1 695.2 880 692.6 880 689.9C879.9 687.2 879.8 684.6 879.8 681.9C879.7 679.2 879.6 676.6 879.5 673.9C879.5 671.2 879.4 668.6 879.3 665.9C879.3 663.2 879.2 660.6 879.1 657.9C879 655.2 879 652.6 878.9 649.9C878.8 647.2 878.8 644.6 878.7 641.9C878.6 639.2 878.6 636.6 878.5 633.9C878.5 631.2 878.4 628.6 878.3 625.9C878.2 623.2 878.1 620.6 878 617.9C877.8 609.9 877.5 601.9 877.3 593.9C877.2 588.9 877.1 584 877 579L876.9 393.9C876.7 584 876.6 588.9 876.5 593.9C876.3 601.9 876 609.9 875.7 617.9C875.6 620.6 875.5 623.2 875.5 625.9C875.4 628.6 875.3 631.2 875.2 633.9C875.2 636.6 875.1 639.2 875 641.9C875 644.6 874.9 647.2 874.9 649.9C874.8 652.6 874.7 655.2 874.6 657.9C874.6 660.6 874.5 663.2 874.4 665.9C874.4 668.6 874.3 671.2 874.2 673.9C874.2 676.6 874.1 679.2 874 681.9C873.9 684.6 873.9 687.2 873.8 689.9C873.7 692.6 873.7 695.2 873.6 697.9C873.5 700.6 873.5 703.2 873.4 705.9C873.3 708.6 873.3 711.2 873.2 713.9C873.1 716.6 873.1 719.2 873 721.9C872.9 724.6 872.9 727.2 872.8 729.9C872.7 732.6 872.7 735.2 872.6 737.9C872.5 740.6 872.4 743.2 872.4 745.9C872.3 748.6 872.2 751.2 872.2 753.9C872.1 756.6 872 759.2 872 761.9C871.9 764.6 871.8 767.2 871.8 769.9C871.7 772.6 871.6 775.2 871.6 777.9C871.5 780.6 871.4 783.2 871.3 785.9C871.3 788.6 871.2 791.2 871.1 793.9C871.1 796.6 871 799.2 870.9 801.9C870.8 804.6 870.8 807.2 870.7 809.9C870.6 812.6 870.5 815.2 870.5 817.9C870.4 820.6 870.3 823.2 870.2 825.9C870.1 828.6 870 831.2 869.9 833.9C869.8 836.6 869.6 839.2 869.4 841.9C869.3 844.6 869.1 847.2 868.9 849.9C868.7 852.6 868.4 855.2 868.2 857.9C868 860.6 867.7 863.2 867.5 865.9C867.2 868.6 866.9 871.2 866.6 873.9C866.3 876.6 866 879.2 865.7 881.9C865.3 884.6 864.9 887.2 864.5 889.9C864.1 892.6 863.7 895.2 863.3 897.9C862.9 900.6 862.5 903.2 862.1 905.9C861.7 908.6 861.4 911.2 861 913.9C860.7 916.6 860.4 919.2 860.1 921.9C859.8 924.6 859.6 927.2 859.4 929.9C859.2 932.6 859 935.2 859 937.9C858.9 940.6 858.8 943.2 858.9 945.9C858.9 948.6 858.9 951.2 859.1 953.9C859.2 956.6 859.4 959.2 859.6 961.9C859.8 964.6 860.1 967.2 860.4 969.9C860.7 972.6 861 975.2 861.3 977.9C861.7 980.6 862.1 983.2 862.6 985.9C863 988.6 863.5 991.2 864.1 993.9C864.6 996.6 865.2 999.2 865.8 1001.9C866.4 1004.6 867 1007.2 867.6 1009.9C868.3 1012.6 868.9 1015.2 869.5 1017.9C870.1 1020.6 870.7 1023.2 871.3 1025.9C871.8 1028.6 872.3 1031.2 872.8 1033.9C873.3 1036.6 873.7 1039.2 874.1 1041.9C874.4 1044.6 874.7 1047.2 874.9 1049.9C875.1 1052.6 875.2 1055.2 875.2 1057.9C875.3 1060.6 875.3 1063.2 875.2 1065.9C875.2 1068.6 875 1071.2 874.8 1073.9C874.6 1076.6 874.3 1079.2 873.8 1081.9C873.3 1084.6 872.6 1087.2 871.8 1089.9C871 1092.6 870 1095.2 868.8 1097.9C867.7 1100.6 866.4 1103.2 864.9 1105.9C863.5 1108.6 861.9 1111.2 860.2 1113.9C858.5 1116.6 856.7 1119.2 854.9 1121.9C853.1 1124.6 851.2 1127.2 849.5 1129.9C847.8 1132.6 846.1 1135.2 844.7 1137.9C843.2 1140.6 841.9 1143.2 840.9 1145.9C839.8 1148.6 838.8 1151.2 838.1 1153.9C837.4 1156.6 836.9 1159.2 836.9 1161.9Z"/>
<path class="v" fill="#FF3030" d="M997.4 1161.9C997.4 1159.2 996.6 1156.6 995.6 1153.9C994.7 1151.2 993.2 1148.6 991.8 1145.9C990.5 1143.2 988.8 1140.6 987.1 1137.9C985.3 1135.2 983.4 1132.6 981.4 1129.9C979.5 1127.2 977.5 1124.6 975.7 1121.9C973.8 1119.2 972 1116.6 970.4 1113.9C968.8 1111.2 967.4 1108.6 966.2 1105.9C965.1 1103.2 964.1 1100.6 963.4 1097.9C962.7 1095.2 962.1 1092.6 961.8 1089.9C961.4 1087.2 961.1 1084.6 961 1081.9C960.9 1079.2 960.9 1076.6 961 1073.9C961.1 1071.2 961.3 1068.6 961.5 1065.9C961.7 1063.2 962.1 1060.6 962.4 1057.9C962.8 1055.2 963.3 1052.6 963.8 1049.9C964.4 1047.2 965 1044.6 965.7 1041.9C966.4 1039.2 967.1 1036.6 967.8 1033.9C968.6 1031.2 969.4 1028.6 970.2 1025.9C971 1023.2 971.8 1020.6 972.6 1017.9C973.4 1015.2 974.2 1012.6 974.9 1009.9C975.6 1007.2 976.2 1004.6 976.8 1001.9C977.3 999.2 977.9 996.6 978.3 993.9C978.7 991.2 979 988.6 979.2 985.9C979.4 983.2 979.4 980.6 979.3 977.9C979.2 975.2 979 972.6 978.7 969.9C978.4 967.2 978 964.6 977.6 961.9C977.2 959.2 976.8 956.6 976.4 953.9C976 951.2 975.6 948.6 975.3 945.9C975 943.2 974.7 940.6 974.5 937.9C974.2 935.2 974 932.6 973.8 929.9C973.7 927.2 973.6 924.6 973.5 921.9C973.4 919.2 973.4 916.6 973.4 913.9C973.4 911.2 973.4 908.6 973.4 905.9C973.5 903.2 973.5 900.6 973.4 897.9C973.4 895.2 973.4 892.6 973.4 889.9C973.3 887.2 973.3 884.6 973.2 881.9C973.2 879.2 973.1 876.6 973 873.9C972.9 871.2 972.8 868.6 972.6 865.9C972.5 863.2 972.3 860.6 972.2 857.9C972 855.2 971.8 852.6 971.5 849.9C971.3 847.2 971 844.6 970.8 841.9C970.6 839.2 970.3 836.6 970.1 833.9C969.9 831.2 969.6 828.6 969.4 825.9C969.2 823.2 969 820.6 968.8 817.9C968.7 815.2 968.5 812.6 968.3 809.9C968.1 807.2 967.9 804.6 967.7 801.9C967.5 799.2 967.3 796.6 967.1 793.9C966.9 791.2 966.7 788.6 966.5 785.9C966.3 783.2 966.1 780.6 965.9 777.9C965.7 775.2 965.4 772.6 965.2 769.9C965 767.2 964.7 764.6 964.5 761.9C964.3 759.2 964 756.6 963.8 753.9C963.6 751.2 963.4 748.6 963.2 745.9C963 743.2 962.8 740.6 962.6 737.9C962.4 735.2 962.3 732.6 962.1 729.9C962 727.2 961.9 724.6 961.7 721.9C961.6 719.2 961.5 716.6 961.4 713.9C961.4 711.2 961.3 708.6 961.2 705.9C961.1 703.2 961 700.6 960.9 697.9C960.8 695.2 960.7 692.6 960.6 689.9C960.5 687.2 960.4 684.6 960.3 681.9C960.2 679.2 960.1 676.6 960 673.9C960 671.2 959.9 668.6 959.8 665.9C959.7 663.2 959.7 660.6 959.6 657.9C959.5 655.2 959.5 652.6 959.4 649.9C959.3 647.2 959.3 644.6 959.2 641.9C959.1 639.2 959.1 636.6 959 633.9C959 631.2 958.9 628.6 958.8 625.9C958.7 623.2 958.6 620.6 958.5 617.9C958.3 609.9 958 601.9 957.8 593.9C957.7 588.9 957.6 584 957.5 579L957.4 529.3C957.2 584 957.1 588.9 957 593.9C956.8 601.9 956.5 609.9 956.2 617.9C956.1 620.6 956 623.2 956 625.9C955.9 628.6 955.8 631.2 955.7 633.9C955.7 636.6 955.6 639.2 955.5 641.9C955.5 644.6 955.4 647.2 955.4 649.9C955.3 652.6 955.2 655.2 955.1 657.9C955.1 660.6 955 663.2 954.9 665.9C954.9 668.6 954.8 671.2 954.7 673.9C954.7 676.6 954.6 679.2 954.5 681.9C954.4 684.6 954.3 687.2 954.2 689.9C954.1 692.6 954 695.2 953.9 697.9C953.8 700.6 953.7 703.2 953.6 705.9C953.5 708.6 953.4 711.2 953.3 713.9C953.2 716.6 953.1 719.2 953 721.9C952.9 724.6 952.8 727.2 952.6 729.9C952.5 732.6 952.3 735.2 952.1 737.9C952 740.6 951.8 743.2 951.6 745.9C951.4 748.6 951.2 751.2 950.9 753.9C950.7 756.6 950.5 759.2 950.3 761.9C950 764.6 949.8 767.2 949.5 769.9C949.3 772.6 949.1 775.2 948.9 777.9C948.7 780.6 948.4 783.2 948.2 785.9C948 788.6 947.8 791.2 947.7 793.9C947.5 796.6 947.3 799.2 947.1 801.9C946.9 804.6 946.7 807.2 946.5 809.9C946.3 812.6 946.1 815.2 945.9 817.9C945.7 820.6 945.5 823.2 945.3 825.9C945.1 828.6 944.9 831.2 944.7 833.9C944.5 836.6 944.2 839.2 944 841.9C943.7 844.6 943.5 847.2 943.2 849.9C943 852.6 942.8 855.2 942.6 857.9C942.4 860.6 942.3 863.2 942.1 865.9C942 868.6 941.9 871.2 941.8 873.9C941.7 876.6 941.6 879.2 941.5 881.9C941.5 884.6 941.4 887.2 941.4 889.9C941.4 892.6 941.3 895.2 941.3 897.9C941.3 900.6 941.3 903.2 941.3 905.9C941.3 908.6 941.3 911.2 941.3 913.9C941.3 916.6 941.3 919.2 941.3 921.9C941.2 924.6 941.1 927.2 940.9 929.9C940.8 932.6 940.5 935.2 940.3 937.9C940 940.6 939.8 943.2 939.4 945.9C939.1 948.6 938.7 951.2 938.4 953.9C938 956.6 937.5 959.2 937.1 961.9C936.7 964.6 936.3 967.2 936 969.9C935.7 972.6 935.5 975.2 935.4 977.9C935.3 980.6 935.4 983.2 935.6 985.9C935.8 988.6 936.1 991.2 936.5 993.9C936.9 996.6 937.4 999.2 938 1001.9C938.6 1004.6 939.2 1007.2 939.9 1009.9C940.6 1012.6 941.4 1015.2 942.1 1017.9C942.9 1020.6 943.8 1023.2 944.6 1025.9C945.4 1028.6 946.2 1031.2 946.9 1033.9C947.7 1036.6 948.4 1039.2 949.1 1041.9C949.7 1044.6 950.4 1047.2 950.9 1049.9C951.5 1052.6 951.9 1055.2 952.3 1057.9C952.7 1060.6 953 1063.2 953.3 1065.9C953.5 1068.6 953.7 1071.2 953.8 1073.9C953.8 1076.6 953.8 1079.2 953.7 1081.9C953.6 1084.6 953.4 1087.2 953 1089.9C952.6 1092.6 952.1 1095.2 951.4 1097.9C950.6 1100.6 949.7 1103.2 948.5 1105.9C947.4 1108.6 946 1111.2 944.4 1113.9C942.8 1116.6 941 1119.2 939.1 1121.9C937.2 1124.6 935.3 1127.2 933.3 1129.9C931.4 1132.6 929.5 1135.2 927.7 1137.9C925.9 1140.6 924.3 1143.2 922.9 1145.9C921.5 1148.6 920.1 1151.2 919.1 1153.9C918.2 1156.6 917.4 1159.2 917.4 1161.9Z"/>
<path class="v" fill="#7EC0EE" d="M1104.7 1161.9C1104.7 1159.2 1103.9 1156.6 1102.9 1153.9C1101.9 1151.2 1100.4 1148.6 1098.9 1145.9C1097.4 1143.2 1095.6 1140.6 1093.6 1137.9C1091.6 1135.2 1089.4 1132.6 1087.3 1129.9C1085.1 1127.2 1082.9 1124.6 1080.9 1121.9C1078.9 1119.2 1077.1 1116.6 1075.5 1113.9C1073.9 1111.2 1072.6 1108.6 1071.5 1105.9C1070.5 1103.2 1069.6 1100.6 1069 1097.9C1068.4 1095.2 1068 1092.6 1067.7 1089.9C1067.4 1087.2 1067.2 1084.6 1067.2 1081.9C1067.1 1079.2 1067.1 1076.6 1067.1 1073.9C1067.2 1071.2 1067.2 1068.6 1067.4 1065.9C1067.5 1063.2 1067.7 1060.6 1067.9 1057.9C1068 1055.2 1068.3 1052.6 1068.5 1049.9C1068.8 1047.2 1069.1 1044.6 1069.4 1041.9C1069.7 1039.2 1070.1 1036.6 1070.5 1033.9C1070.9 1031.2 1071.3 1028.6 1071.7 1025.9C1072.1 1023.2 1072.5 1020.6 1072.9 1017.9C1073.3 1015.2 1073.7 1012.6 1074 1009.9C1074.3 1007.2 1074.6 1004.6 1074.9 1001.9C1075.2 999.2 1075.4 996.6 1075.7 993.9C1075.9 991.2 1076.1 988.6 1076.3 985.9C1076.5 983.2 1076.6 980.6 1076.7 977.9C1076.8 975.2 1076.9 972.6 1076.9 969.9C1076.9 967.2 1076.8 964.6 1076.8 961.9C1076.7 959.2 1076.6 956.6 1076.5 953.9C1076.4 951.2 1076.2 948.6 1076.1 945.9C1076 943.2 1075.9 940.6 1075.7 937.9C1075.6 935.2 1075.4 932.6 1075.3 929.9C1075.2 927.2 1075 924.6 1074.9 921.9C1074.7 919.2 1074.6 916.6 1074.4 913.9C1074.3 911.2 1074.1 908.6 1073.9 905.9C1073.8 903.2 1073.6 900.6 1073.5 897.9C1073.3 895.2 1073.2 892.6 1073 889.9C1072.8 887.2 1072.7 884.6 1072.5 881.9C1072.3 879.2 1072.2 876.6 1072 873.9C1071.8 871.2 1071.7 868.6 1071.5 865.9C1071.3 863.2 1071.2 860.6 1071 857.9C1070.9 855.2 1070.7 852.6 1070.6 849.9C1070.4 847.2 1070.3 844.6 1070.2 841.9C1070 839.2 1069.9 836.6 1069.8 833.9C1069.6 831.2 1069.5 828.6 1069.4 825.9C1069.3 823.2 1069.2 820.6 1069.1 817.9C1069 815.2 1068.9 812.6 1068.8 809.9C1068.8 807.2 1068.7 804.6 1068.7 801.9C1068.6 799.2 1068.6 796.6 1068.5 793.9C1068.5 791.2 1068.4 788.6 1068.3 785.9C1068.2 783.2 1068.1 780.6 1068 777.9C1067.9 775.2 1067.8 772.6 1067.7 769.9C1067.6 767.2 1067.5 764.6 1067.3 761.9C1067.2 759.2 1067.1 756.6 1067 753.9C1066.9 751.2 1066.8 748.6 1066.7 745.9C1066.7 743.2 1066.6 740.6 1066.5 737.9C1066.4 735.2 1066.4 732.6 1066.3 729.9C1066.2 727.2 1066.2 724.6 1066.1 721.9C1066 719.2 1065.9 716.6 1065.8 713.9C1065.5 705.9 1065.2 697.9 1065 689.9C1065 686.4 1064.9 682.9 1064.9 679.4L1064.7 400.7C1064.5 682.9 1064.5 686.4 1064.4 689.9C1064.2 697.9 1063.9 705.9 1063.6 713.9C1063.5 716.6 1063.4 719.2 1063.4 721.9C1063.3 724.6 1063.2 727.2 1063.1 729.9C1063.1 732.6 1063 735.2 1062.9 737.9C1062.9 740.6 1062.8 743.2 1062.7 745.9C1062.6 748.6 1062.5 751.2 1062.4 753.9C1062.3 756.6 1062.2 759.2 1062.1 761.9C1062 764.6 1061.9 767.2 1061.7 769.9C1061.6 772.6 1061.5 775.2 1061.4 777.9C1061.3 780.6 1061.2 783.2 1061.1 785.9C1061 788.6 1061 791.2 1060.9 793.9C1060.9 796.6 1060.8 799.2 1060.8 801.9C1060.7 804.6 1060.7 807.2 1060.6 809.9C1060.5 812.6 1060.4 815.2 1060.3 817.9C1060.2 820.6 1060.1 823.2 1060 825.9C1059.9 828.6 1059.8 831.2 1059.7 833.9C1059.6 836.6 1059.4 839.2 1059.3 841.9C1059.1 844.6 1059 847.2 1058.9 849.9C1058.7 852.6 1058.6 855.2 1058.4 857.9C1058.3 860.6 1058.1 863.2 1057.9 865.9C1057.8 868.6 1057.6 871.2 1057.4 873.9C1057.3 876.6 1057.1 879.2 1056.9 881.9C1056.8 884.6 1056.6 887.2 1056.5 889.9C1056.3 892.6 1056.1 895.2 1056 897.9C1055.8 900.6 1055.6 903.2 1055.5 905.9C1055.3 908.6 1055.2 911.2 1055 913.9C1054.9 916.6 1054.7 919.2 1054.6 921.9C1054.4 924.6 1054.3 927.2 1054.1 929.9C1054 932.6 1053.9 935.2 1053.7 937.9C1053.6 940.6 1053.4 943.2 1053.3 945.9C1053.2 948.6 1053.1 951.2 1053 953.9C1052.8 956.6 1052.7 959.2 1052.7 961.9C1052.6 964.6 1052.5 967.2 1052.5 969.9C1052.6 972.6 1052.6 975.2 1052.7 977.9C1052.8 980.6 1053 983.2 1053.2 985.9C1053.3 988.6 1053.5 991.2 1053.8 993.9C1054 996.6 1054.3 999.2 1054.5 1001.9C1054.8 1004.6 1055.1 1007.2 1055.4 1009.9C1055.8 1012.6 1056.1 1015.2 1056.5 1017.9C1056.9 1020.6 1057.3 1023.2 1057.8 1025.9C1058.2 1028.6 1058.6 1031.2 1059 1033.9C1059.3 1036.6 1059.7 1039.2 1060 1041.9C1060.3 1044.6 1060.6 1047.2 1060.9 1049.9C1061.2 1052.6 1061.4 1055.2 1061.6 1057.9C1061.8 1060.6 1061.9 1063.2 1062.1 1065.9C1062.2 1068.6 1062.3 1071.2 1062.3 1073.9C1062.4 1076.6 1062.4 1079.2 1062.3 1081.9C1062.2 1084.6 1062 1087.2 1061.7 1089.9C1061.4 1092.6 1061 1095.2 1060.4 1097.9C1059.8 1100.6 1059 1103.2 1057.9 1105.9C1056.9 1108.6 1055.5 1111.2 1053.9 1113.9C1052.4 1116.6 1050.5 1119.2 1048.5 1121.9C1046.5 1124.6 1044.3 1127.2 1042.2 1129.9C1040 1132.6 1037.8 1135.2 1035.9 1137.9C1033.9 1140.6 1032.1 1143.2 1030.6 1145.9C1029.1 1148.6 1027.5 1151.2 1026.5 1153.9C1025.6 1156.6 1024.7 1159.2 1024.7 1161.9Z"/>
<path class="v" fill="#436EEE" d="M1185.2 1161.9C1185.2 1159.2 1184.2 1156.6 1183.2 1153.9C1182.3 1151.2 1180.7 1148.6 1179.2 1145.9C1177.7 1143.2 1175.9 1140.6 1173.9 1137.9C1171.9 1135.2 1169.7 1132.6 1167.4 1129.9C1165.2 1127.2 1162.9 1124.6 1160.8 1121.9C1158.8 1119.2 1156.9 1116.6 1155.2 1113.9C1153.6 1111.2 1152.3 1108.6 1151.2 1105.9C1150.2 1103.2 1149.4 1100.6 1148.8 1097.9C1148.2 1095.2 1147.8 1092.6 1147.6 1089.9C1147.3 1087.2 1147.2 1084.6 1147.1 1081.9C1147 1079.2 1147.1 1076.6 1147.1 1073.9C1147.1 1071.2 1147.2 1068.6 1147.4 1065.9C1147.5 1063.2 1147.7 1060.6 1147.9 1057.9C1148.1 1055.2 1148.3 1052.6 1148.6 1049.9C1148.8 1047.2 1149.2 1044.6 1149.5 1041.9C1149.8 1039.2 1150.1 1036.6 1150.5 1033.9C1150.8 1031.2 1151.2 1028.6 1151.5 1025.9C1151.9 1023.2 1152.2 1020.6 1152.6 1017.9C1152.9 1015.2 1153.2 1012.6 1153.5 1009.9C1153.7 1007.2 1154 1004.6 1154.2 1001.9C1154.4 999.2 1154.6 996.6 1154.8 993.9C1154.9 991.2 1155.1 988.6 1155.2 985.9C1155.3 983.2 1155.4 980.6 1155.5 977.9C1155.5 975.2 1155.5 972.6 1155.5 969.9C1155.5 967.2 1155.4 964.6 1155.3 961.9C1155.2 959.2 1155.1 956.6 1155 953.9C1154.9 951.2 1154.9 948.6 1154.8 945.9C1154.7 943.2 1154.6 940.6 1154.5 937.9C1154.3 935.2 1154.2 932.6 1154.1 929.9C1154 927.2 1153.9 924.6 1153.8 921.9C1153.7 919.2 1153.5 916.6 1153.4 913.9C1153.3 911.2 1153.1 908.6 1153 905.9C1152.9 903.2 1152.7 900.6 1152.6 897.9C1152.5 895.2 1152.3 892.6 1152.2 889.9C1152 887.2 1151.9 884.6 1151.8 881.9C1151.6 879.2 1151.5 876.6 1151.4 873.9C1151.2 871.2 1151.1 868.6 1151 865.9C1150.9 863.2 1150.7 860.6 1150.6 857.9C1150.5 855.2 1150.3 852.6 1150.2 849.9C1150 847.2 1149.9 844.6 1149.7 841.9C1149.6 839.2 1149.5 836.6 1149.4 833.9C1149.3 831.2 1149.2 828.6 1149.1 825.9C1149.1 823.2 1149 820.6 1149 817.9C1148.9 815.2 1148.9 812.6 1148.8 809.9C1148.8 807.2 1148.7 804.6 1148.7 801.9C1148.7 799.2 1148.6 796.6 1148.6 793.9C1148.6 791.2 1148.6 788.6 1148.5 785.9C1148.5 783.2 1148.4 780.6 1148.4 777.9C1148.3 775.2 1148.3 772.6 1148.2 769.9C1148.1 767.2 1148 764.6 1148 761.9C1147.9 759.2 1147.8 756.6 1147.7 753.9C1147.6 751.2 1147.5 748.6 1147.4 745.9C1147.4 743.2 1147.3 740.6 1147.2 737.9C1147.1 735.2 1147.1 732.6 1147 729.9C1146.9 727.2 1146.9 724.6 1146.8 721.9C1146.7 719.2 1146.6 716.6 1146.5 713.9C1146.5 711.2 1146.4 708.6 1146.3 705.9C1146 697.9 1145.7 689.9 1145.5 681.9C1145.5 678.8 1145.4 675.6 1145.4 672.5L1145.2 498.6C1145 675.6 1145 678.8 1144.9 681.9C1144.7 689.9 1144.5 697.9 1144.2 705.9C1144.1 708.6 1144 711.2 1143.9 713.9C1143.8 716.6 1143.7 719.2 1143.7 721.9C1143.6 724.6 1143.5 727.2 1143.4 729.9C1143.4 732.6 1143.3 735.2 1143.2 737.9C1143.2 740.6 1143.1 743.2 1143 745.9C1142.9 748.6 1142.8 751.2 1142.7 753.9C1142.7 756.6 1142.6 759.2 1142.5 761.9C1142.4 764.6 1142.3 767.2 1142.2 769.9C1142.2 772.6 1142.1 775.2 1142.1 777.9C1142 780.6 1142 783.2 1141.9 785.9C1141.9 788.6 1141.9 791.2 1141.8 793.9C1141.8 796.6 1141.8 799.2 1141.7 801.9C1141.7 804.6 1141.7 807.2 1141.6 809.9C1141.6 812.6 1141.5 815.2 1141.5 817.9C1141.4 820.6 1141.4 823.2 1141.3 825.9C1141.2 828.6 1141.2 831.2 1141.1 833.9C1141 836.6 1140.8 839.2 1140.7 841.9C1140.6 844.6 1140.4 847.2 1140.3 849.9C1140.1 852.6 1140 855.2 1139.8 857.9C1139.7 860.6 1139.6 863.2 1139.4 865.9C1139.3 868.6 1139.2 871.2 1139.1 873.9C1138.9 876.6 1138.8 879.2 1138.7 881.9C1138.5 884.6 1138.4 887.2 1138.3 889.9C1138.1 892.6 1138 895.2 1137.8 897.9C1137.7 900.6 1137.6 903.2 1137.4 905.9C1137.3 908.6 1137.2 911.2 1137 913.9C1136.9 916.6 1136.8 919.2 1136.7 921.9C1136.5 924.6 1136.4 927.2 1136.3 929.9C1136.2 932.6 1136.1 935.2 1136 937.9C1135.9 940.6 1135.8 943.2 1135.7 945.9C1135.6 948.6 1135.5 951.2 1135.4 953.9C1135.3 956.6 1135.2 959.2 1135.1 961.9C1135 964.6 1135 967.2 1134.9 969.9C1134.9 972.6 1134.9 975.2 1135 977.9C1135 980.6 1135.1 983.2 1135.2 985.9C1135.3 988.6 1135.5 991.2 1135.7 993.9C1135.8 996.6 1136 999.2 1136.3 1001.9C1136.5 1004.6 1136.7 1007.2 1137 1009.9C1137.2 1012.6 1137.5 1015.2 1137.9 1017.9C1138.2 1020.6 1138.5 1023.2 1138.9 1025.9C1139.2 1028.6 1139.6 1031.2 1139.9 1033.9C1140.3 1036.6 1140.6 1039.2 1141 1041.9C1141.3 1044.6 1141.6 1047.2 1141.9 1049.9C1142.1 1052.6 1142.4 1055.2 1142.6 1057.9C1142.8 1060.6 1142.9 1063.2 1143.1 1065.9C1143.2 1068.6 1143.3 1071.2 1143.3 1073.9C1143.4 1076.6 1143.4 1079.2 1143.3 1081.9C1143.3 1084.6 1143.1 1087.2 1142.9 1089.9C1142.6 1092.6 1142.2 1095.2 1141.6 1097.9C1141.1 1100.6 1140.3 1103.2 1139.2 1105.9C1138.2 1108.6 1136.8 1111.2 1135.2 1113.9C1133.6 1116.6 1131.7 1119.2 1129.6 1121.9C1127.5 1124.6 1125.3 1127.2 1123 1129.9C1120.8 1132.6 1118.5 1135.2 1116.5 1137.9C1114.5 1140.6 1112.7 1143.2 1111.2 1145.9C1109.7 1148.6 1108.2 1151.2 1107.2 1153.9C1106.2 1156.6 1105.2 1159.2 1105.2 1161.9Z"/>
<path class="v" fill="#FF3030" d="M1265.7 1161.9C1265.7 1159.2 1264.7 1156.6 1263.7 1153.9C1262.7 1151.2 1261.3 1148.6 1259.8 1145.9C1258.4 1143.2 1256.6 1140.6 1254.7 1137.9C1252.8 1135.2 1250.7 1132.6 1248.7 1129.9C1246.6 1127.2 1244.6 1124.6 1242.8 1121.9C1241 1119.2 1239.4 1116.6 1238.1 1113.9C1236.8 1111.2 1235.8 1108.6 1235 1105.9C1234.3 1103.2 1233.8 1100.6 1233.5 1097.9C1233.2 1095.2 1233.1 1092.6 1233.1 1089.9C1233.2 1087.2 1233.3 1084.6 1233.6 1081.9C1233.9 1079.2 1234.4 1076.6 1234.9 1073.9C1235.5 1071.2 1236.2 1068.6 1236.9 1065.9C1237.6 1063.2 1238.4 1060.6 1239.1 1057.9C1239.8 1055.2 1240.5 1052.6 1241.2 1049.9C1241.8 1047.2 1242.4 1044.6 1243 1041.9C1243.5 1039.2 1243.9 1036.6 1244.2 1033.9C1244.5 1031.2 1244.8 1028.6 1244.9 1025.9C1245.1 1023.2 1245.2 1020.6 1245.2 1017.9C1245.3 1015.2 1245.2 1012.6 1245.2 1009.9C1245.1 1007.2 1245 1004.6 1244.8 1001.9C1244.6 999.2 1244.4 996.6 1244.2 993.9C1243.9 991.2 1243.7 988.6 1243.4 985.9C1243.2 983.2 1242.9 980.6 1242.7 977.9C1242.5 975.2 1242.3 972.6 1242.2 969.9C1242 967.2 1241.9 964.6 1241.7 961.9C1241.5 959.2 1241.4 956.6 1241.3 953.9C1241.1 951.2 1241 948.6 1240.8 945.9C1240.7 943.2 1240.6 940.6 1240.4 937.9C1240.3 935.2 1240.1 932.6 1240 929.9C1239.8 927.2 1239.7 924.6 1239.5 921.9C1239.3 919.2 1239.2 916.6 1239 913.9C1238.8 911.2 1238.6 908.6 1238.4 905.9C1238.2 903.2 1238 900.6 1237.8 897.9C1237.6 895.2 1237.4 892.6 1237.2 889.9C1237 887.2 1236.8 884.6 1236.5 881.9C1236.3 879.2 1236.1 876.6 1235.9 873.9C1235.7 871.2 1235.4 868.6 1235.2 865.9C1235 863.2 1234.8 860.6 1234.6 857.9C1234.4 855.2 1234.2 852.6 1234 849.9C1233.8 847.2 1233.6 844.6 1233.4 841.9C1233.2 839.2 1233.1 836.6 1232.9 833.9C1232.7 831.2 1232.5 828.6 1232.3 825.9C1232.1 823.2 1232 820.6 1231.8 817.9C1231.6 815.2 1231.5 812.6 1231.3 809.9C1231.2 807.2 1231.1 804.6 1230.9 801.9C1230.8 799.2 1230.7 796.6 1230.6 793.9C1230.5 791.2 1230.4 788.6 1230.3 785.9C1230.2 783.2 1230.1 780.6 1230 777.9C1229.9 775.2 1229.7 772.6 1229.6 769.9C1229.5 767.2 1229.4 764.6 1229.3 761.9C1229.2 759.2 1229.1 756.6 1229 753.9C1228.9 751.2 1228.7 748.6 1228.5 745.9C1228.4 743.2 1228.2 740.6 1228.1 737.9C1227.9 735.2 1227.8 732.6 1227.7 729.9C1227.6 727.2 1227.5 724.6 1227.5 721.9C1227.4 719.2 1227.3 716.6 1227.3 713.9C1227.2 711.2 1227.2 708.6 1227.1 705.9C1227 703.2 1226.9 700.6 1226.8 697.9C1226.5 689.9 1226.2 681.9 1226.1 673.9C1226 670.3 1225.9 666.6 1225.9 663L1225.7 362.4C1225.5 666.6 1225.5 670.3 1225.4 673.9C1225.2 681.9 1224.9 689.9 1224.6 697.9C1224.5 700.6 1224.4 703.2 1224.4 705.9C1224.3 708.6 1224.2 711.2 1224.2 713.9C1224.1 716.6 1224 719.2 1224 721.9C1223.9 724.6 1223.8 727.2 1223.7 729.9C1223.6 732.6 1223.5 735.2 1223.4 737.9C1223.2 740.6 1223.1 743.2 1222.9 745.9C1222.7 748.6 1222.6 751.2 1222.5 753.9C1222.3 756.6 1222.2 759.2 1222.1 761.9C1222 764.6 1221.9 767.2 1221.8 769.9C1221.7 772.6 1221.6 775.2 1221.5 777.9C1221.4 780.6 1221.3 783.2 1221.2 785.9C1221.1 788.6 1221 791.2 1220.9 793.9C1220.7 796.6 1220.6 799.2 1220.5 801.9C1220.4 804.6 1220.3 807.2 1220.1 809.9C1220 812.6 1219.8 815.2 1219.6 817.9C1219.5 820.6 1219.3 823.2 1219.1 825.9C1218.9 828.6 1218.8 831.2 1218.6 833.9C1218.4 836.6 1218.2 839.2 1218 841.9C1217.8 844.6 1217.7 847.2 1217.5 849.9C1217.3 852.6 1217.1 855.2 1216.9 857.9C1216.7 860.6 1216.4 863.2 1216.2 865.9C1216 868.6 1215.8 871.2 1215.6 873.9C1215.3 876.6 1215.1 879.2 1214.9 881.9C1214.7 884.6 1214.5 887.2 1214.3 889.9C1214 892.6 1213.8 895.2 1213.6 897.9C1213.4 900.6 1213.2 903.2 1213 905.9C1212.8 908.6 1212.6 911.2 1212.5 913.9C1212.3 916.6 1212.1 919.2 1211.9 921.9C1211.8 924.6 1211.6 927.2 1211.5 929.9C1211.3 932.6 1211.2 935.2 1211 937.9C1210.9 940.6 1210.8 943.2 1210.6 945.9C1210.5 948.6 1210.3 951.2 1210.2 953.9C1210 956.6 1209.9 959.2 1209.7 961.9C1209.6 964.6 1209.4 967.2 1209.3 969.9C1209.1 972.6 1208.9 975.2 1208.7 977.9C1208.5 980.6 1208.3 983.2 1208 985.9C1207.8 988.6 1207.5 991.2 1207.3 993.9C1207 996.6 1206.8 999.2 1206.6 1001.9C1206.5 1004.6 1206.3 1007.2 1206.3 1009.9C1206.2 1012.6 1206.2 1015.2 1206.2 1017.9C1206.2 1020.6 1206.3 1023.2 1206.5 1025.9C1206.7 1028.6 1206.9 1031.2 1207.2 1033.9C1207.6 1036.6 1208 1039.2 1208.5 1041.9C1209 1044.6 1209.6 1047.2 1210.3 1049.9C1210.9 1052.6 1211.6 1055.2 1212.4 1057.9C1213.1 1060.6 1213.8 1063.2 1214.5 1065.9C1215.3 1068.6 1216 1071.2 1216.5 1073.9C1217.1 1076.6 1217.5 1079.2 1217.8 1081.9C1218.1 1084.6 1218.3 1087.2 1218.3 1089.9C1218.3 1092.6 1218.2 1095.2 1217.9 1097.9C1217.6 1100.6 1217.2 1103.2 1216.4 1105.9C1215.7 1108.6 1214.7 1111.2 1213.4 1113.9C1212.1 1116.6 1210.5 1119.2 1208.7 1121.9C1206.8 1124.6 1204.8 1127.2 1202.8 1129.9C1200.7 1132.6 1198.6 1135.2 1196.7 1137.9C1194.8 1140.6 1193.1 1143.2 1191.6 1145.9C1190.2 1148.6 1188.7 1151.2 1187.7 1153.9C1186.7 1156.6 1185.7 1159.2 1185.7 1161.9Z"/>
<path class="v" fill="#7EC0EE" d="M1373.1 1161.9C1373.1 1159.2 1372.6 1156.6 1371.9 1153.9C1371.3 1151.2 1370.2 1148.6 1369.2 1145.9C1368.1 1143.2 1366.8 1140.6 1365.3 1137.9C1363.8 1135.2 1362.1 1132.6 1360.3 1129.9C1358.5 1127.2 1356.7 1124.6 1355 1121.9C1353.2 1119.2 1351.6 1116.6 1350 1113.9C1348.5 1111.2 1347.1 1108.6 1345.9 1105.9C1344.7 1103.2 1343.7 1100.6 1343 1097.9C1342.2 1095.2 1341.6 1092.6 1341.2 1089.9C1340.8 1087.2 1340.6 1084.6 1340.6 1081.9C1340.5 1079.2 1340.6 1076.6 1340.8 1073.9C1341 1071.2 1341.3 1068.6 1341.8 1065.9C1342.2 1063.2 1342.7 1060.6 1343.3 1057.9C1344 1055.2 1344.7 1052.6 1345.5 1049.9C1346.3 1047.2 1347.2 1044.6 1348.1 1041.9C1349 1039.2 1349.9 1036.6 1350.7 1033.9C1351.6 1031.2 1352.5 1028.6 1353.3 1025.9C1354.1 1023.2 1354.8 1020.6 1355.5 1017.9C1356.2 1015.2 1356.8 1012.6 1357.3 1009.9C1357.8 1007.2 1358.2 1004.6 1358.5 1001.9C1358.9 999.2 1359.1 996.6 1359.3 993.9C1359.6 991.2 1359.7 988.6 1359.8 985.9C1359.9 983.2 1360 980.6 1360 977.9C1360 975.2 1359.9 972.6 1359.8 969.9C1359.7 967.2 1359.5 964.6 1359.3 961.9C1359 959.2 1358.7 956.6 1358.4 953.9C1358.1 951.2 1357.7 948.6 1357.3 945.9C1356.9 943.2 1356.5 940.6 1356 937.9C1355.6 935.2 1355.1 932.6 1354.6 929.9C1354.2 927.2 1353.7 924.6 1353.2 921.9C1352.8 919.2 1352.3 916.6 1351.9 913.9C1351.4 911.2 1351 908.6 1350.5 905.9C1350.1 903.2 1349.6 900.6 1349.1 897.9C1348.7 895.2 1348.2 892.6 1347.8 889.9C1347.3 887.2 1346.9 884.6 1346.5 881.9C1346.1 879.2 1345.7 876.6 1345.4 873.9C1345 871.2 1344.7 868.6 1344.4 865.9C1344.1 863.2 1343.8 860.6 1343.6 857.9C1343.3 855.2 1343.1 852.6 1342.9 849.9C1342.8 847.2 1342.6 844.6 1342.5 841.9C1342.3 839.2 1342.2 836.6 1342.1 833.9C1342 831.2 1342 828.6 1341.9 825.9C1341.9 823.2 1341.8 820.6 1341.8 817.9C1341.7 815.2 1341.7 812.6 1341.6 809.9C1341.6 807.2 1341.5 804.6 1341.4 801.9C1341.3 799.2 1341.2 796.6 1341.1 793.9C1341 791.2 1340.9 788.6 1340.8 785.9C1340.7 783.2 1340.6 780.6 1340.4 777.9C1340.3 775.2 1340.2 772.6 1340.1 769.9C1340 767.2 1339.8 764.6 1339.7 761.9C1339.6 759.2 1339.4 756.6 1339.3 753.9C1339.2 751.2 1339.1 748.6 1338.9 745.9C1338.8 743.2 1338.7 740.6 1338.6 737.9C1338.5 735.2 1338.4 732.6 1338.2 729.9C1338.1 727.2 1338 724.6 1337.9 721.9C1337.7 719.2 1337.6 716.6 1337.5 713.9C1337.3 711.2 1337.2 708.6 1337.1 705.9C1336.9 703.2 1336.8 700.6 1336.7 697.9C1336.6 695.2 1336.5 692.6 1336.3 689.9C1336.2 687.2 1336.1 684.6 1336 681.9C1335.8 679.2 1335.7 676.6 1335.5 673.9C1335.4 671.2 1335.3 668.6 1335.2 665.9C1335.1 663.2 1335 660.6 1334.9 657.9C1334.8 655.2 1334.8 652.6 1334.7 649.9C1334.6 647.2 1334.6 644.6 1334.5 641.9C1334.4 639.2 1334.3 636.6 1334.2 633.9C1334 625.9 1333.6 617.9 1333.5 609.9C1333.3 605.4 1333.3 600.9 1333.2 596.4L1333.1 575C1332.9 600.9 1332.8 605.4 1332.7 609.9C1332.5 617.9 1332.2 625.9 1331.9 633.9C1331.8 636.6 1331.7 639.2 1331.6 641.9C1331.6 644.6 1331.5 647.2 1331.4 649.9C1331.4 652.6 1331.3 655.2 1331.2 657.9C1331.2 660.6 1331.1 663.2 1331 665.9C1330.9 668.6 1330.7 671.2 1330.6 673.9C1330.5 676.6 1330.3 679.2 1330.2 681.9C1330 684.6 1329.9 687.2 1329.8 689.9C1329.7 692.6 1329.5 695.2 1329.4 697.9C1329.3 700.6 1329.2 703.2 1329.1 705.9C1328.9 708.6 1328.8 711.2 1328.7 713.9C1328.5 716.6 1328.4 719.2 1328.3 721.9C1328.1 724.6 1328 727.2 1327.9 729.9C1327.7 732.6 1327.6 735.2 1327.5 737.9C1327.4 740.6 1327.3 743.2 1327.2 745.9C1327.1 748.6 1326.9 751.2 1326.8 753.9C1326.7 756.6 1326.6 759.2 1326.4 761.9C1326.3 764.6 1326.2 767.2 1326 769.9C1325.9 772.6 1325.8 775.2 1325.7 777.9C1325.6 780.6 1325.4 783.2 1325.3 785.9C1325.2 788.6 1325.1 791.2 1325 793.9C1324.9 796.6 1324.8 799.2 1324.7 801.9C1324.6 804.6 1324.6 807.2 1324.5 809.9C1324.4 812.6 1324.4 815.2 1324.3 817.9C1324.3 820.6 1324.3 823.2 1324.2 825.9C1324.1 828.6 1324.1 831.2 1324 833.9C1323.9 836.6 1323.8 839.2 1323.6 841.9C1323.5 844.6 1323.4 847.2 1323.2 849.9C1323 852.6 1322.8 855.2 1322.5 857.9C1322.3 860.6 1322 863.2 1321.7 865.9C1321.4 868.6 1321.1 871.2 1320.7 873.9C1320.4 876.6 1320 879.2 1319.6 881.9C1319.2 884.6 1318.8 887.2 1318.3 889.9C1317.9 892.6 1317.4 895.2 1317 897.9C1316.5 900.6 1316.1 903.2 1315.6 905.9C1315.2 908.6 1314.7 911.2 1314.2 913.9C1313.8 916.6 1313.3 919.2 1312.9 921.9C1312.4 924.6 1312 927.2 1311.5 929.9C1311 932.6 1310.6 935.2 1310.1 937.9C1309.6 940.6 1309.2 943.2 1308.8 945.9C1308.4 948.6 1308 951.2 1307.7 953.9C1307.4 956.6 1307.1 959.2 1306.9 961.9C1306.6 964.6 1306.4 967.2 1306.3 969.9C1306.2 972.6 1306.1 975.2 1306.1 977.9C1306.1 980.6 1306.2 983.2 1306.3 985.9C1306.4 988.6 1306.6 991.2 1306.8 993.9C1307 996.6 1307.3 999.2 1307.6 1001.9C1307.9 1004.6 1308.3 1007.2 1308.8 1009.9C1309.3 1012.6 1309.9 1015.2 1310.6 1017.9C1311.3 1020.6 1312.1 1023.2 1312.9 1025.9C1313.7 1028.6 1314.5 1031.2 1315.4 1033.9C1316.2 1036.6 1317.1 1039.2 1318 1041.9C1318.9 1044.6 1319.8 1047.2 1320.6 1049.9C1321.4 1052.6 1322.1 1055.2 1322.8 1057.9C1323.4 1060.6 1323.9 1063.2 1324.4 1065.9C1324.8 1068.6 1325.1 1071.2 1325.3 1073.9C1325.5 1076.6 1325.6 1079.2 1325.6 1081.9C1325.5 1084.6 1325.3 1087.2 1324.9 1089.9C1324.5 1092.6 1323.9 1095.2 1323.1 1097.9C1322.4 1100.6 1321.4 1103.2 1320.2 1105.9C1319 1108.6 1317.6 1111.2 1316.1 1113.9C1314.6 1116.6 1312.9 1119.2 1311.1 1121.9C1309.4 1124.6 1307.6 1127.2 1305.8 1129.9C1304.1 1132.6 1302.4 1135.2 1300.9 1137.9C1299.3 1140.6 1298 1143.2 1297 1145.9C1295.9 1148.6 1294.9 1151.2 1294.2 1153.9C1293.6 1156.6 1293.1 1159.2 1293.1 1161.9Z"/>
<path class="v" fill="#436EEE" d="M1453.6 1161.9C1453.6 1159.2 1452.9 1156.6 1452.1 1153.9C1451.3 1151.2 1450.1 1148.6 1448.9 1145.9C1447.7 1143.2 1446.3 1140.6 1444.7 1137.9C1443.1 1135.2 1441.3 1132.6 1439.4 1129.9C1437.6 1127.2 1435.8 1124.6 1434 1121.9C1432.3 1119.2 1430.7 1116.6 1429.3 1113.9C1427.8 1111.2 1426.6 1108.6 1425.7 1105.9C1424.8 1103.2 1424.1 1100.6 1423.6 1097.9C1423.1 1095.2 1422.9 1092.6 1422.9 1089.9C1422.9 1087.2 1423 1084.6 1423.4 1081.9C1423.7 1079.2 1424.2 1076.6 1424.8 1073.9C1425.5 1071.2 1426.2 1068.6 1427.1 1065.9C1427.9 1063.2 1428.8 1060.6 1429.8 1057.9C1430.7 1055.2 1431.7 1052.6 1432.7 1049.9C1433.7 1047.2 1434.7 1044.6 1435.7 1041.9C1436.7 1039.2 1437.6 1036.6 1438.4 1033.9C1439.3 1031.2 1440 1028.6 1440.7 1025.9C1441.4 1023.2 1442 1020.6 1442.5 1017.9C1443 1015.2 1443.5 1012.6 1443.8 1009.9C1444.1 1007.2 1444.3 1004.6 1444.5 1001.9C1444.6 999.2 1444.6 996.6 1444.4 993.9C1444.3 991.2 1444.1 988.6 1443.9 985.9C1443.6 983.2 1443.3 980.6 1443 977.9C1442.6 975.2 1442.2 972.6 1441.8 969.9C1441.4 967.2 1440.9 964.6 1440.4 961.9C1439.9 959.2 1439.4 956.6 1438.9 953.9C1438.5 951.2 1438 948.6 1437.7 945.9C1437.3 943.2 1436.9 940.6 1436.6 937.9C1436.3 935.2 1436 932.6 1435.7 929.9C1435.4 927.2 1435.1 924.6 1434.9 921.9C1434.6 919.2 1434.4 916.6 1434.2 913.9C1434 911.2 1433.8 908.6 1433.6 905.9C1433.4 903.2 1433.2 900.6 1433.1 897.9C1433 895.2 1432.8 892.6 1432.7 889.9C1432.6 887.2 1432.5 884.6 1432.3 881.9C1432.1 879.2 1431.9 876.6 1431.7 873.9C1431.5 871.2 1431.2 868.6 1430.9 865.9C1430.7 863.2 1430.4 860.6 1430.1 857.9C1429.8 855.2 1429.4 852.6 1429.1 849.9C1428.8 847.2 1428.4 844.6 1428.1 841.9C1427.7 839.2 1427.3 836.6 1426.9 833.9C1426.5 831.2 1426 828.6 1425.6 825.9C1425.1 823.2 1424.7 820.6 1424.3 817.9C1423.8 815.2 1423.4 812.6 1423.1 809.9C1422.7 807.2 1422.4 804.6 1422.1 801.9C1421.8 799.2 1421.6 796.6 1421.3 793.9C1421.1 791.2 1420.9 788.6 1420.7 785.9C1420.5 783.2 1420.3 780.6 1420.2 777.9C1420 775.2 1419.8 772.6 1419.7 769.9C1419.6 767.2 1419.4 764.6 1419.3 761.9C1419.2 759.2 1419.1 756.6 1418.9 753.9C1418.8 751.2 1418.7 748.6 1418.6 745.9C1418.4 743.2 1418.3 740.6 1418.2 737.9C1418 735.2 1417.9 732.6 1417.8 729.9C1417.6 727.2 1417.5 724.6 1417.4 721.9C1417.2 719.2 1417.1 716.6 1416.9 713.9C1416.8 711.2 1416.7 708.6 1416.5 705.9C1416.4 703.2 1416.2 700.6 1416.1 697.9C1415.9 695.2 1415.8 692.6 1415.7 689.9C1415.6 687.2 1415.5 684.6 1415.4 681.9C1415.3 679.2 1415.3 676.6 1415.2 673.9C1415.2 671.2 1415.1 668.6 1415 665.9C1414.9 663.2 1414.9 660.6 1414.8 657.9C1414.7 655.2 1414.6 652.6 1414.5 649.9C1414.2 641.9 1413.9 633.9 1413.8 625.9C1413.8 623.7 1413.7 621.6 1413.7 619.4L1413.6 598C1413.4 621.6 1413.4 623.7 1413.3 625.9C1413.2 633.9 1412.9 641.9 1412.6 649.9C1412.5 652.6 1412.4 655.2 1412.3 657.9C1412.3 660.6 1412.2 663.2 1412.1 665.9C1412 668.6 1412 671.2 1411.9 673.9C1411.8 676.6 1411.8 679.2 1411.7 681.9C1411.6 684.6 1411.5 687.2 1411.4 689.9C1411.3 692.6 1411.2 695.2 1411 697.9C1410.9 700.6 1410.7 703.2 1410.6 705.9C1410.4 708.6 1410.3 711.2 1410.2 713.9C1410 716.6 1409.9 719.2 1409.8 721.9C1409.6 724.6 1409.5 727.2 1409.4 729.9C1409.2 732.6 1409.1 735.2 1409 737.9C1408.8 740.6 1408.7 743.2 1408.6 745.9C1408.4 748.6 1408.3 751.2 1408.2 753.9C1408.1 756.6 1407.9 759.2 1407.8 761.9C1407.7 764.6 1407.6 767.2 1407.4 769.9C1407.3 772.6 1407.1 775.2 1407 777.9C1406.8 780.6 1406.6 783.2 1406.4 785.9C1406.2 788.6 1406 791.2 1405.8 793.9C1405.5 796.6 1405.3 799.2 1405 801.9C1404.7 804.6 1404.4 807.2 1404 809.9C1403.7 812.6 1403.3 815.2 1402.9 817.9C1402.4 820.6 1402 823.2 1401.5 825.9C1401.1 828.6 1400.6 831.2 1400.2 833.9C1399.8 836.6 1399.4 839.2 1399 841.9C1398.7 844.6 1398.3 847.2 1398 849.9C1397.7 852.6 1397.4 855.2 1397.1 857.9C1396.8 860.6 1396.5 863.2 1396.2 865.9C1395.9 868.6 1395.7 871.2 1395.4 873.9C1395.2 876.6 1395 879.2 1394.8 881.9C1394.7 884.6 1394.5 887.2 1394.4 889.9C1394.3 892.6 1394.2 895.2 1394 897.9C1393.9 900.6 1393.7 903.2 1393.5 905.9C1393.4 908.6 1393.2 911.2 1392.9 913.9C1392.7 916.6 1392.5 919.2 1392.2 921.9C1392 924.6 1391.7 927.2 1391.4 929.9C1391.1 932.6 1390.8 935.2 1390.5 937.9C1390.2 940.6 1389.9 943.2 1389.5 945.9C1389.1 948.6 1388.6 951.2 1388.2 953.9C1387.7 956.6 1387.2 959.2 1386.7 961.9C1386.2 964.6 1385.7 967.2 1385.3 969.9C1384.9 972.6 1384.5 975.2 1384.1 977.9C1383.8 980.6 1383.5 983.2 1383.2 985.9C1383 988.6 1382.8 991.2 1382.7 993.9C1382.6 996.6 1382.6 999.2 1382.7 1001.9C1382.8 1004.6 1383 1007.2 1383.3 1009.9C1383.6 1012.6 1384.1 1015.2 1384.6 1017.9C1385.1 1020.6 1385.7 1023.2 1386.4 1025.9C1387.1 1028.6 1387.9 1031.2 1388.7 1033.9C1389.5 1036.6 1390.5 1039.2 1391.4 1041.9C1392.4 1044.6 1393.4 1047.2 1394.4 1049.9C1395.4 1052.6 1396.4 1055.2 1397.3 1057.9C1398.3 1060.6 1399.2 1063.2 1400 1065.9C1400.9 1068.6 1401.6 1071.2 1402.3 1073.9C1402.9 1076.6 1403.4 1079.2 1403.7 1081.9C1404.1 1084.6 1404.3 1087.2 1404.2 1089.9C1404.2 1092.6 1404 1095.2 1403.5 1097.9C1403.1 1100.6 1402.4 1103.2 1401.4 1105.9C1400.5 1108.6 1399.3 1111.2 1397.9 1113.9C1396.5 1116.6 1394.8 1119.2 1393.1 1121.9C1391.3 1124.6 1389.5 1127.2 1387.7 1129.9C1385.9 1132.6 1384.1 1135.2 1382.4 1137.9C1380.8 1140.6 1379.4 1143.2 1378.2 1145.9C1377 1148.6 1375.8 1151.2 1375 1153.9C1374.2 1156.6 1373.6 1159.2 1373.6 1161.9Z"/>
<path class="v" fill="#FF3030" d="M1534.1 1161.9C1534.1 1159.2 1533.7 1156.6 1533.3 1153.9C1533 1151.2 1532.4 1148.6 1531.8 1145.9C1531.3 1143.2 1530.6 1140.6 1529.8 1137.9C1529.1 1135.2 1528.2 1132.6 1527.3 1129.9C1526.4 1127.2 1525.5 1124.6 1524.6 1121.9C1523.7 1119.2 1522.9 1116.6 1522.1 1113.9C1521.3 1111.2 1520.6 1108.6 1520.1 1105.9C1519.5 1103.2 1519.1 1100.6 1518.7 1097.9C1518.4 1095.2 1518.2 1092.6 1518.2 1089.9C1518.1 1087.2 1518.2 1084.6 1518.3 1081.9C1518.5 1079.2 1518.7 1076.6 1519 1073.9C1519.3 1071.2 1519.7 1068.6 1520.1 1065.9C1520.5 1063.2 1520.9 1060.6 1521.3 1057.9C1521.7 1055.2 1522.2 1052.6 1522.5 1049.9C1522.9 1047.2 1523.3 1044.6 1523.7 1041.9C1524.1 1039.2 1524.4 1036.6 1524.7 1033.9C1525 1031.2 1525.3 1028.6 1525.6 1025.9C1525.8 1023.2 1526.1 1020.6 1526.3 1017.9C1526.5 1015.2 1526.7 1012.6 1526.9 1009.9C1527 1007.2 1527.2 1004.6 1527.3 1001.9C1527.4 999.2 1527.4 996.6 1527.5 993.9C1527.5 991.2 1527.6 988.6 1527.6 985.9C1527.6 983.2 1527.6 980.6 1527.6 977.9C1527.5 975.2 1527.5 972.6 1527.4 969.9C1527.3 967.2 1527.1 964.6 1526.8 961.9C1526.6 959.2 1526.3 956.6 1526 953.9C1525.7 951.2 1525.3 948.6 1525 945.9C1524.6 943.2 1524.3 940.6 1523.9 937.9C1523.5 935.2 1523.1 932.6 1522.7 929.9C1522.2 927.2 1521.7 924.6 1521.2 921.9C1520.7 919.2 1520.2 916.6 1519.6 913.9C1519.1 911.2 1518.6 908.6 1518.1 905.9C1517.5 903.2 1517 900.6 1516.5 897.9C1516.1 895.2 1515.6 892.6 1515.1 889.9C1514.7 887.2 1514.2 884.6 1513.8 881.9C1513.4 879.2 1513 876.6 1512.7 873.9C1512.3 871.2 1511.9 868.6 1511.6 865.9C1511.2 863.2 1510.9 860.6 1510.6 857.9C1510.3 855.2 1510 852.6 1509.7 849.9C1509.4 847.2 1509.2 844.6 1508.9 841.9C1508.7 839.2 1508.4 836.6 1508.2 833.9C1507.9 831.2 1507.7 828.6 1507.4 825.9C1507.2 823.2 1506.9 820.6 1506.7 817.9C1506.4 815.2 1506.1 812.6 1505.7 809.9C1505.4 807.2 1505.1 804.6 1504.7 801.9C1504.3 799.2 1503.9 796.6 1503.6 793.9C1503.2 791.2 1502.8 788.6 1502.5 785.9C1502.1 783.2 1501.8 780.6 1501.5 777.9C1501.2 775.2 1500.9 772.6 1500.7 769.9C1500.4 767.2 1500.2 764.6 1500 761.9C1499.8 759.2 1499.7 756.6 1499.5 753.9C1499.4 751.2 1499.2 748.6 1499.1 745.9C1499 743.2 1498.9 740.6 1498.8 737.9C1498.7 735.2 1498.6 732.6 1498.5 729.9C1498.5 727.2 1498.3 724.6 1498.2 721.9C1498.1 719.2 1498 716.6 1497.9 713.9C1497.8 711.2 1497.7 708.6 1497.5 705.9C1497.4 703.2 1497.3 700.6 1497.1 697.9C1497 695.2 1496.8 692.6 1496.7 689.9C1496.6 687.2 1496.4 684.6 1496.3 681.9C1496.2 679.2 1496.1 676.6 1496 673.9C1496 671.2 1495.9 668.6 1495.8 665.9C1495.8 663.2 1495.7 660.6 1495.6 657.9C1495.6 655.2 1495.5 652.6 1495.4 649.9C1495.3 647.2 1495.2 644.6 1495.1 641.9C1494.8 633.9 1494.5 625.9 1494.4 617.9C1494.3 614.6 1494.3 611.2 1494.2 607.9L1494.1 547.5C1493.9 611.2 1493.8 614.6 1493.7 617.9C1493.6 625.9 1493.3 633.9 1493 641.9C1492.9 644.6 1492.8 647.2 1492.7 649.9C1492.6 652.6 1492.6 655.2 1492.5 657.9C1492.4 660.6 1492.4 663.2 1492.3 665.9C1492.2 668.6 1492.2 671.2 1492.1 673.9C1492 676.6 1491.9 679.2 1491.8 681.9C1491.7 684.6 1491.6 687.2 1491.4 689.9C1491.3 692.6 1491.1 695.2 1491 697.9C1490.9 700.6 1490.7 703.2 1490.6 705.9C1490.5 708.6 1490.3 711.2 1490.2 713.9C1490.1 716.6 1490 719.2 1489.9 721.9C1489.8 724.6 1489.7 727.2 1489.6 729.9C1489.5 732.6 1489.4 735.2 1489.3 737.9C1489.2 740.6 1489.1 743.2 1489 745.9C1488.9 748.6 1488.8 751.2 1488.6 753.9C1488.5 756.6 1488.3 759.2 1488.1 761.9C1487.9 764.6 1487.7 767.2 1487.5 769.9C1487.2 772.6 1487 775.2 1486.7 777.9C1486.3 780.6 1486 783.2 1485.7 785.9C1485.3 788.6 1484.9 791.2 1484.6 793.9C1484.2 796.6 1483.8 799.2 1483.4 801.9C1483.1 804.6 1482.7 807.2 1482.4 809.9C1482 812.6 1481.7 815.2 1481.5 817.9C1481.2 820.6 1480.9 823.2 1480.7 825.9C1480.5 828.6 1480.2 831.2 1480 833.9C1479.7 836.6 1479.5 839.2 1479.2 841.9C1478.9 844.6 1478.7 847.2 1478.4 849.9C1478.1 852.6 1477.8 855.2 1477.5 857.9C1477.2 860.6 1476.9 863.2 1476.5 865.9C1476.2 868.6 1475.8 871.2 1475.5 873.9C1475.1 876.6 1474.7 879.2 1474.3 881.9C1473.9 884.6 1473.4 887.2 1473 889.9C1472.5 892.6 1472.1 895.2 1471.6 897.9C1471.1 900.6 1470.6 903.2 1470.1 905.9C1469.5 908.6 1469 911.2 1468.5 913.9C1467.9 916.6 1467.4 919.2 1466.9 921.9C1466.4 924.6 1465.9 927.2 1465.5 929.9C1465 932.6 1464.6 935.2 1464.2 937.9C1463.8 940.6 1463.5 943.2 1463.1 945.9C1462.8 948.6 1462.4 951.2 1462.1 953.9C1461.8 956.6 1461.5 959.2 1461.3 961.9C1461 964.6 1460.9 967.2 1460.7 969.9C1460.6 972.6 1460.6 975.2 1460.6 977.9C1460.5 980.6 1460.5 983.2 1460.5 985.9C1460.6 988.6 1460.6 991.2 1460.6 993.9C1460.7 996.6 1460.7 999.2 1460.9 1001.9C1461 1004.6 1461.1 1007.2 1461.3 1009.9C1461.4 1012.6 1461.6 1015.2 1461.8 1017.9C1462 1020.6 1462.3 1023.2 1462.5 1025.9C1462.8 1028.6 1463.1 1031.2 1463.4 1033.9C1463.7 1036.6 1464.1 1039.2 1464.4 1041.9C1464.8 1044.6 1465.2 1047.2 1465.6 1049.9C1466 1052.6 1466.4 1055.2 1466.8 1057.9C1467.2 1060.6 1467.6 1063.2 1468 1065.9C1468.4 1068.6 1468.8 1071.2 1469.1 1073.9C1469.4 1076.6 1469.7 1079.2 1469.8 1081.9C1470 1084.6 1470 1087.2 1469.9 1089.9C1469.9 1092.6 1469.7 1095.2 1469.4 1097.9C1469.1 1100.6 1468.6 1103.2 1468.1 1105.9C1467.5 1108.6 1466.8 1111.2 1466 1113.9C1465.3 1116.6 1464.4 1119.2 1463.5 1121.9C1462.6 1124.6 1461.7 1127.2 1460.8 1129.9C1459.9 1132.6 1459.1 1135.2 1458.3 1137.9C1457.5 1140.6 1456.8 1143.2 1456.3 1145.9C1455.7 1148.6 1455.2 1151.2 1454.8 1153.9C1454.4 1156.6 1454.1 1159.2 1454.1 1161.9Z"/>
<path class="v" fill="#7EC0EE" d="M1641.4 1161.9C1641.4 1159.2 1641.3 1156.6 1641 1153.9C1640.7 1151.2 1640.2 1148.6 1639.7 1145.9C1639.1 1143.2 1638.5 1140.6 1637.7 1137.9C1636.9 1135.2 1636 1132.6 1635.1 1129.9C1634.1 1127.2 1633 1124.6 1631.9 1121.9C1630.7 1119.2 1629.5 1116.6 1628.3 1113.9C1627.1 1111.2 1625.9 1108.6 1624.7 1105.9C1623.4 1103.2 1622.2 1100.6 1621 1097.9C1619.9 1095.2 1618.7 1092.6 1617.7 1089.9C1616.6 1087.2 1615.6 1084.6 1614.6 1081.9C1613.7 1079.2 1612.8 1076.6 1612 1073.9C1611.2 1071.2 1610.5 1068.6 1609.9 1065.9C1609.3 1063.2 1608.7 1060.6 1608.2 1057.9C1607.7 1055.2 1607.3 1052.6 1607 1049.9C1606.6 1047.2 1606.3 1044.6 1606.1 1041.9C1605.8 1039.2 1605.6 1036.6 1605.5 1033.9C1605.4 1031.2 1605.2 1028.6 1605.2 1025.9C1605.1 1023.2 1605 1020.6 1605 1017.9C1605 1015.2 1605 1012.6 1605.1 1009.9C1605.1 1007.2 1605.2 1004.6 1605.3 1001.9C1605.3 999.2 1605.4 996.6 1605.5 993.9C1605.6 991.2 1605.6 988.6 1605.7 985.9C1605.8 983.2 1605.9 980.6 1606 977.9C1606 975.2 1606.1 972.6 1606.3 969.9C1606.4 967.2 1606.5 964.6 1606.6 961.9C1606.7 959.2 1606.9 956.6 1607 953.9C1607.2 951.2 1607.4 948.6 1607.5 945.9C1607.7 943.2 1607.9 940.6 1608 937.9C1608.2 935.2 1608.4 932.6 1608.6 929.9C1608.8 927.2 1609 924.6 1609.2 921.9C1609.4 919.2 1609.6 916.6 1609.8 913.9C1610 911.2 1610.3 908.6 1610.5 905.9C1610.7 903.2 1610.9 900.6 1611.1 897.9C1611.3 895.2 1611.5 892.6 1611.6 889.9C1611.8 887.2 1612 884.6 1612.2 881.9C1612.4 879.2 1612.5 876.6 1612.7 873.9C1612.8 871.2 1613 868.6 1613.1 865.9C1613.2 863.2 1613.4 860.6 1613.5 857.9C1613.6 855.2 1613.8 852.6 1613.9 849.9C1614 847.2 1614.2 844.6 1614.3 841.9C1614.4 839.2 1614.5 836.6 1614.6 833.9C1614.8 831.2 1614.9 828.6 1615 825.9C1615.1 823.2 1615.1 820.6 1615.2 817.9C1615.2 815.2 1615.2 812.6 1615.2 809.9C1615.1 807.2 1615 804.6 1614.9 801.9C1614.8 799.2 1614.6 796.6 1614.4 793.9C1614.1 791.2 1613.9 788.6 1613.7 785.9C1613.5 783.2 1613.3 780.6 1613.1 777.9C1612.9 775.2 1612.7 772.6 1612.6 769.9C1612.4 767.2 1612.3 764.6 1612.2 761.9C1612 759.2 1611.9 756.6 1611.8 753.9C1611.6 751.2 1611.5 748.6 1611.3 745.9C1611.1 743.2 1610.9 740.6 1610.7 737.9C1610.6 735.2 1610.4 732.6 1610.2 729.9C1610 727.2 1609.8 724.6 1609.7 721.9C1609.5 719.2 1609.4 716.6 1609.2 713.9C1609.1 711.2 1609 708.6 1608.9 705.9C1608.7 703.2 1608.6 700.6 1608.6 697.9C1608.5 695.2 1608.4 692.6 1608.3 689.9C1608.3 687.2 1608.2 684.6 1608.2 681.9C1608.1 679.2 1608.1 676.6 1608 673.9C1608 671.2 1607.9 668.6 1607.9 665.9C1607.9 663.2 1607.8 660.6 1607.8 657.9C1607.8 655.2 1607.8 652.6 1607.7 649.9C1607.7 647.2 1607.7 644.6 1607.7 641.9C1607.6 639.2 1607.6 636.6 1607.6 633.9C1607.6 631.2 1607.6 628.6 1607.5 625.9C1607.5 623.2 1607.5 620.6 1607.5 617.9C1607.4 615.2 1607.4 612.6 1607.4 609.9C1607.3 607.2 1607.3 604.6 1607.2 601.9C1607.2 599.2 1607.1 596.6 1607 593.9C1607 591.2 1606.9 588.6 1606.9 585.9C1606.9 583.2 1606.9 580.6 1606.8 577.9C1606.8 575.2 1606.8 572.6 1606.8 569.9C1606.8 567.2 1606.8 564.6 1606.7 561.9C1606.7 559.2 1606.6 556.6 1606.6 553.9C1606.6 551.2 1606.5 548.6 1606.5 545.9C1606.4 543.2 1606.4 540.6 1606.4 537.9C1606.3 535.2 1606.3 532.6 1606.3 529.9C1606.2 527.2 1606.2 524.6 1606.1 521.9C1606.1 519.2 1606.1 516.6 1606 513.9C1606 511.2 1605.9 508.6 1605.8 505.9C1605.8 503.2 1605.7 500.6 1605.6 497.9C1605.6 495.2 1605.5 492.6 1605.4 489.9C1605.4 487.2 1605.3 484.6 1605.2 481.9C1605.1 479.2 1605.1 476.6 1605 473.9C1604.9 471.2 1604.9 468.6 1604.9 465.9C1604.8 463.2 1604.8 460.6 1604.7 457.9C1604.6 455.2 1604.4 452.6 1604.2 449.9C1604 447.2 1603.8 444.6 1603.6 441.9C1603.5 439.2 1603.3 436.6 1603.2 433.9C1603.1 431.2 1603.1 428.6 1603 425.9C1603 423.2 1602.9 420.6 1602.8 417.9C1602.8 415.2 1602.7 412.6 1602.6 409.9C1602.6 407.2 1602.5 404.6 1602.4 401.9C1602.1 393.9 1601.8 385.9 1601.7 377.9C1601.6 375.2 1601.6 372.6 1601.5 369.9L1601.4 191.7C1601.2 372.6 1601.2 375.2 1601.1 377.9C1601 385.9 1600.7 393.9 1600.4 401.9C1600.3 404.6 1600.2 407.2 1600.2 409.9C1600.1 412.6 1600 415.2 1600 417.9C1599.9 420.6 1599.8 423.2 1599.8 425.9C1599.7 428.6 1599.7 431.2 1599.6 433.9C1599.5 436.6 1599.3 439.2 1599.2 441.9C1599 444.6 1598.8 447.2 1598.6 449.9C1598.4 452.6 1598.2 455.2 1598.1 457.9C1598 460.6 1598 463.2 1597.9 465.9C1597.9 468.6 1597.9 471.2 1597.8 473.9C1597.7 476.6 1597.7 479.2 1597.6 481.9C1597.5 484.6 1597.4 487.2 1597.4 489.9C1597.3 492.6 1597.2 495.2 1597.2 497.9C1597.1 500.6 1597 503.2 1597 505.9C1596.9 508.6 1596.8 511.2 1596.8 513.9C1596.7 516.6 1596.7 519.2 1596.7 521.9C1596.6 524.6 1596.6 527.2 1596.5 529.9C1596.5 532.6 1596.5 535.2 1596.4 537.9C1596.4 540.6 1596.4 543.2 1596.3 545.9C1596.3 548.6 1596.2 551.2 1596.2 553.9C1596.2 556.6 1596.1 559.2 1596.1 561.9C1596 564.6 1596 567.2 1596 569.9C1596 572.6 1596 575.2 1596 577.9C1595.9 580.6 1595.9 583.2 1595.9 585.9C1595.9 588.6 1595.8 591.2 1595.8 593.9C1595.7 596.6 1595.6 599.2 1595.6 601.9C1595.5 604.6 1595.5 607.2 1595.4 609.9C1595.4 612.6 1595.4 615.2 1595.3 617.9C1595.3 620.6 1595.3 623.2 1595.3 625.9C1595.2 628.6 1595.2 631.2 1595.2 633.9C1595.2 636.6 1595.2 639.2 1595.1 641.9C1595.1 644.6 1595.1 647.2 1595.1 649.9C1595 652.6 1595 655.2 1595 657.9C1595 660.6 1594.9 663.2 1594.9 665.9C1594.9 668.6 1594.8 671.2 1594.8 673.9C1594.7 676.6 1594.7 679.2 1594.6 681.9C1594.6 684.6 1594.5 687.2 1594.5 689.9C1594.4 692.6 1594.3 695.2 1594.2 697.9C1594.2 700.6 1594.1 703.2 1593.9 705.9C1593.8 708.6 1593.7 711.2 1593.6 713.9C1593.4 716.6 1593.3 719.2 1593.1 721.9C1593 724.6 1592.8 727.2 1592.6 729.9C1592.4 732.6 1592.2 735.2 1592.1 737.9C1591.9 740.6 1591.7 743.2 1591.5 745.9C1591.3 748.6 1591.2 751.2 1591 753.9C1590.9 756.6 1590.8 759.2 1590.6 761.9C1590.5 764.6 1590.4 767.2 1590.2 769.9C1590.1 772.6 1589.9 775.2 1589.7 777.9C1589.5 780.6 1589.3 783.2 1589.1 785.9C1588.9 788.6 1588.7 791.2 1588.4 793.9C1588.2 796.6 1588 799.2 1587.9 801.9C1587.8 804.6 1587.7 807.2 1587.6 809.9C1587.6 812.6 1587.6 815.2 1587.6 817.9C1587.7 820.6 1587.7 823.2 1587.8 825.9C1587.9 828.6 1588 831.2 1588.2 833.9C1588.3 836.6 1588.4 839.2 1588.5 841.9C1588.6 844.6 1588.8 847.2 1588.9 849.9C1589 852.6 1589.2 855.2 1589.3 857.9C1589.4 860.6 1589.6 863.2 1589.7 865.9C1589.8 868.6 1590 871.2 1590.1 873.9C1590.3 876.6 1590.4 879.2 1590.6 881.9C1590.8 884.6 1591 887.2 1591.2 889.9C1591.3 892.6 1591.5 895.2 1591.7 897.9C1591.9 900.6 1592.1 903.2 1592.3 905.9C1592.5 908.6 1592.8 911.2 1593 913.9C1593.2 916.6 1593.4 919.2 1593.6 921.9C1593.8 924.6 1594 927.2 1594.2 929.9C1594.4 932.6 1594.6 935.2 1594.8 937.9C1594.9 940.6 1595.1 943.2 1595.3 945.9C1595.4 948.6 1595.6 951.2 1595.8 953.9C1595.9 956.6 1596.1 959.2 1596.2 961.9C1596.3 964.6 1596.4 967.2 1596.5 969.9C1596.7 972.6 1596.8 975.2 1596.8 977.9C1596.9 980.6 1597 983.2 1597.1 985.9C1597.2 988.6 1597.2 991.2 1597.3 993.9C1597.4 996.6 1597.5 999.2 1597.5 1001.9C1597.6 1004.6 1597.7 1007.2 1597.7 1009.9C1597.8 1012.6 1597.8 1015.2 1597.8 1017.9C1597.8 1020.6 1597.7 1023.2 1597.6 1025.9C1597.6 1028.6 1597.4 1031.2 1597.3 1033.9C1597.2 1036.6 1597 1039.2 1596.7 1041.9C1596.5 1044.6 1596.2 1047.2 1595.8 1049.9C1595.5 1052.6 1595.1 1055.2 1594.6 1057.9C1594.1 1060.6 1593.5 1063.2 1592.9 1065.9C1592.3 1068.6 1591.6 1071.2 1590.8 1073.9C1590 1076.6 1589.1 1079.2 1588.2 1081.9C1587.2 1084.6 1586.2 1087.2 1585.1 1089.9C1584.1 1092.6 1582.9 1095.2 1581.8 1097.9C1580.6 1100.6 1579.4 1103.2 1578.1 1105.9C1576.9 1108.6 1575.7 1111.2 1574.5 1113.9C1573.3 1116.6 1572.1 1119.2 1570.9 1121.9C1569.8 1124.6 1568.7 1127.2 1567.7 1129.9C1566.8 1132.6 1565.9 1135.2 1565.1 1137.9C1564.3 1140.6 1563.7 1143.2 1563.1 1145.9C1562.6 1148.6 1562.1 1151.2 1561.8 1153.9C1561.5 1156.6 1561.4 1159.2 1561.4 1161.9Z"/>
<path class="v" fill="#436EEE" d="M1721.9 1161.9C1721.9 1159.2 1721.6 1156.6 1721.1 1153.9C1720.7 1151.2 1720 1148.6 1719.2 1145.9C1718.5 1143.2 1717.7 1140.6 1716.7 1137.9C1715.7 1135.2 1714.6 1132.6 1713.4 1129.9C1712.2 1127.2 1710.9 1124.6 1709.6 1121.9C1708.3 1119.2 1706.9 1116.6 1705.6 1113.9C1704.2 1111.2 1702.8 1108.6 1701.5 1105.9C1700.2 1103.2 1698.9 1100.6 1697.7 1097.9C1696.5 1095.2 1695.4 1092.6 1694.3 1089.9C1693.3 1087.2 1692.3 1084.6 1691.4 1081.9C1690.5 1079.2 1689.8 1076.6 1689.1 1073.9C1688.4 1071.2 1687.8 1068.6 1687.3 1065.9C1686.8 1063.2 1686.3 1060.6 1686 1057.9C1685.6 1055.2 1685.3 1052.6 1685.1 1049.9C1684.9 1047.2 1684.7 1044.6 1684.6 1041.9C1684.4 1039.2 1684.4 1036.6 1684.3 1033.9C1684.3 1031.2 1684.3 1028.6 1684.3 1025.9C1684.3 1023.2 1684.3 1020.6 1684.4 1017.9C1684.4 1015.2 1684.5 1012.6 1684.6 1009.9C1684.6 1007.2 1684.7 1004.6 1684.8 1001.9C1684.9 999.2 1685 996.6 1685.1 993.9C1685.2 991.2 1685.3 988.6 1685.5 985.9C1685.6 983.2 1685.7 980.6 1685.9 977.9C1686 975.2 1686.2 972.6 1686.3 969.9C1686.5 967.2 1686.7 964.6 1686.9 961.9C1687 959.2 1687.2 956.6 1687.4 953.9C1687.6 951.2 1687.8 948.6 1688 945.9C1688.2 943.2 1688.4 940.6 1688.6 937.9C1688.9 935.2 1689.1 932.6 1689.3 929.9C1689.5 927.2 1689.7 924.6 1689.9 921.9C1690.1 919.2 1690.3 916.6 1690.5 913.9C1690.7 911.2 1691 908.6 1691.2 905.9C1691.4 903.2 1691.6 900.6 1691.9 897.9C1692.1 895.2 1692.3 892.6 1692.6 889.9C1692.8 887.2 1693.1 884.6 1693.3 881.9C1693.5 879.2 1693.7 876.6 1693.9 873.9C1694.1 871.2 1694.2 868.6 1694.4 865.9C1694.5 863.2 1694.7 860.6 1694.8 857.9C1694.9 855.2 1695.1 852.6 1695.2 849.9C1695.4 847.2 1695.5 844.6 1695.7 841.9C1695.8 839.2 1695.9 836.6 1696 833.9C1696.2 831.2 1696.3 828.6 1696.4 825.9C1696.5 823.2 1696.6 820.6 1696.6 817.9C1696.6 815.2 1696.6 812.6 1696.6 809.9C1696.5 807.2 1696.4 804.6 1696.3 801.9C1696.1 799.2 1695.9 796.6 1695.7 793.9C1695.4 791.2 1695.2 788.6 1694.9 785.9C1694.6 783.2 1694.3 780.6 1694.1 777.9C1693.8 775.2 1693.5 772.6 1693.2 769.9C1692.9 767.2 1692.7 764.6 1692.4 761.9C1692.1 759.2 1691.9 756.6 1691.6 753.9C1691.4 751.2 1691.1 748.6 1690.9 745.9C1690.7 743.2 1690.5 740.6 1690.3 737.9C1690.1 735.2 1689.9 732.6 1689.8 729.9C1689.6 727.2 1689.5 724.6 1689.3 721.9C1689.2 719.2 1689.1 716.6 1689 713.9C1688.9 711.2 1688.8 708.6 1688.7 705.9C1688.6 703.2 1688.6 700.6 1688.5 697.9C1688.4 695.2 1688.4 692.6 1688.3 689.9C1688.3 687.2 1688.2 684.6 1688.1 681.9C1688.1 679.2 1688 676.6 1688 673.9C1687.9 671.2 1687.8 668.6 1687.8 665.9C1687.7 663.2 1687.7 660.6 1687.6 657.9C1687.6 655.2 1687.5 652.6 1687.5 649.9C1687.5 647.2 1687.4 644.6 1687.4 641.9C1687.3 639.2 1687.3 636.6 1687.3 633.9C1687.2 631.2 1687.2 628.6 1687.2 625.9C1687.1 623.2 1687.1 620.6 1687 617.9C1687 615.2 1686.9 612.6 1686.9 609.9C1686.8 607.2 1686.8 604.6 1686.7 601.9C1686.7 599.2 1686.6 596.6 1686.5 593.9C1686.5 591.2 1686.4 588.6 1686.3 585.9C1686.3 583.2 1686.2 580.6 1686.2 577.9C1686.1 575.2 1686 572.6 1686 569.9C1685.9 567.2 1685.9 564.6 1685.8 561.9C1685.8 559.2 1685.7 556.6 1685.7 553.9C1685.6 551.2 1685.6 548.6 1685.5 545.9C1685.5 543.2 1685.4 540.6 1685.4 537.9C1685.3 535.2 1685.3 532.6 1685.2 529.9C1685 527.2 1684.9 524.6 1684.7 521.9C1684.5 519.2 1684.3 516.6 1684.1 513.9C1683.9 511.2 1683.7 508.6 1683.6 505.9C1683.5 503.2 1683.5 500.6 1683.4 497.9C1683.4 495.2 1683.3 492.6 1683.3 489.9C1683.3 487.2 1683.2 484.6 1683.1 481.9C1683 479.2 1682.9 476.6 1682.9 473.9C1682.6 465.9 1682.3 457.9 1682.2 449.9C1682.1 447.5 1682.1 445 1682 442.6L1681.9 320.3C1681.7 445 1681.7 447.5 1681.6 449.9C1681.5 457.9 1681.2 465.9 1680.9 473.9C1680.9 476.6 1680.8 479.2 1680.7 481.9C1680.6 484.6 1680.5 487.2 1680.5 489.9C1680.5 492.6 1680.4 495.2 1680.4 497.9C1680.3 500.6 1680.3 503.2 1680.2 505.9C1680.1 508.6 1679.9 511.2 1679.7 513.9C1679.5 516.6 1679.3 519.2 1679.1 521.9C1678.9 524.6 1678.8 527.2 1678.6 529.9C1678.5 532.6 1678.5 535.2 1678.4 537.9C1678.4 540.6 1678.3 543.2 1678.3 545.9C1678.2 548.6 1678.2 551.2 1678.1 553.9C1678.1 556.6 1678 559.2 1678 561.9C1677.9 564.6 1677.9 567.2 1677.8 569.9C1677.8 572.6 1677.7 575.2 1677.6 577.9C1677.6 580.6 1677.5 583.2 1677.5 585.9C1677.4 588.6 1677.3 591.2 1677.3 593.9C1677.2 596.6 1677.1 599.2 1677.1 601.9C1677 604.6 1677 607.2 1676.9 609.9C1676.9 612.6 1676.8 615.2 1676.8 617.9C1676.7 620.6 1676.7 623.2 1676.6 625.9C1676.6 628.6 1676.6 631.2 1676.5 633.9C1676.5 636.6 1676.5 639.2 1676.4 641.9C1676.4 644.6 1676.3 647.2 1676.3 649.9C1676.3 652.6 1676.2 655.2 1676.2 657.9C1676.1 660.6 1676.1 663.2 1676 665.9C1676 668.6 1675.9 671.2 1675.8 673.9C1675.8 676.6 1675.7 679.2 1675.7 681.9C1675.6 684.6 1675.5 687.2 1675.5 689.9C1675.4 692.6 1675.4 695.2 1675.3 697.9C1675.2 700.6 1675.2 703.2 1675.1 705.9C1675 708.6 1674.9 711.2 1674.8 713.9C1674.7 716.6 1674.6 719.2 1674.5 721.9C1674.3 724.6 1674.2 727.2 1674 729.9C1673.9 732.6 1673.7 735.2 1673.5 737.9C1673.3 740.6 1673.1 743.2 1672.9 745.9C1672.7 748.6 1672.4 751.2 1672.2 753.9C1671.9 756.6 1671.7 759.2 1671.4 761.9C1671.1 764.6 1670.9 767.2 1670.6 769.9C1670.3 772.6 1670 775.2 1669.7 777.9C1669.5 780.6 1669.2 783.2 1668.9 785.9C1668.6 788.6 1668.4 791.2 1668.1 793.9C1667.9 796.6 1667.7 799.2 1667.5 801.9C1667.4 804.6 1667.3 807.2 1667.2 809.9C1667.2 812.6 1667.2 815.2 1667.2 817.9C1667.2 820.6 1667.3 823.2 1667.4 825.9C1667.5 828.6 1667.6 831.2 1667.8 833.9C1667.9 836.6 1668 839.2 1668.1 841.9C1668.3 844.6 1668.4 847.2 1668.6 849.9C1668.7 852.6 1668.9 855.2 1669 857.9C1669.1 860.6 1669.3 863.2 1669.4 865.9C1669.6 868.6 1669.7 871.2 1669.9 873.9C1670.1 876.6 1670.3 879.2 1670.5 881.9C1670.7 884.6 1671 887.2 1671.2 889.9C1671.5 892.6 1671.7 895.2 1671.9 897.9C1672.2 900.6 1672.4 903.2 1672.6 905.9C1672.8 908.6 1673.1 911.2 1673.3 913.9C1673.5 916.6 1673.7 919.2 1673.9 921.9C1674.1 924.6 1674.3 927.2 1674.5 929.9C1674.7 932.6 1674.9 935.2 1675.2 937.9C1675.4 940.6 1675.6 943.2 1675.8 945.9C1676 948.6 1676.2 951.2 1676.4 953.9C1676.6 956.6 1676.8 959.2 1676.9 961.9C1677.1 964.6 1677.3 967.2 1677.5 969.9C1677.6 972.6 1677.8 975.2 1677.9 977.9C1678.1 980.6 1678.2 983.2 1678.3 985.9C1678.5 988.6 1678.6 991.2 1678.7 993.9C1678.8 996.6 1678.9 999.2 1679 1001.9C1679.1 1004.6 1679.2 1007.2 1679.2 1009.9C1679.3 1012.6 1679.4 1015.2 1679.4 1017.9C1679.5 1020.6 1679.5 1023.2 1679.5 1025.9C1679.5 1028.6 1679.5 1031.2 1679.5 1033.9C1679.4 1036.6 1679.4 1039.2 1679.2 1041.9C1679.1 1044.6 1678.9 1047.2 1678.7 1049.9C1678.5 1052.6 1678.2 1055.2 1677.8 1057.9C1677.5 1060.6 1677 1063.2 1676.5 1065.9C1676 1068.6 1675.4 1071.2 1674.7 1073.9C1674 1076.6 1673.3 1079.2 1672.4 1081.9C1671.5 1084.6 1670.5 1087.2 1669.5 1089.9C1668.4 1092.6 1667.3 1095.2 1666.1 1097.9C1664.9 1100.6 1663.6 1103.2 1662.3 1105.9C1661 1108.6 1659.6 1111.2 1658.2 1113.9C1656.9 1116.6 1655.5 1119.2 1654.2 1121.9C1652.9 1124.6 1651.6 1127.2 1650.4 1129.9C1649.2 1132.6 1648.1 1135.2 1647.1 1137.9C1646.1 1140.6 1645.3 1143.2 1644.6 1145.9C1643.8 1148.6 1643.1 1151.2 1642.7 1153.9C1642.2 1156.6 1641.9 1159.2 1641.9 1161.9Z"/>
<path class="v" fill="#FF3030" d="M1802.4 1161.9C1802.4 1159.2 1802.2 1156.6 1801.7 1153.9C1801.3 1151.2 1800.6 1148.6 1799.9 1145.9C1799.2 1143.2 1798.4 1140.6 1797.4 1137.9C1796.5 1135.2 1795.5 1132.6 1794.4 1129.9C1793.3 1127.2 1792.1 1124.6 1790.9 1121.9C1789.7 1119.2 1788.5 1116.6 1787.4 1113.9C1786.2 1111.2 1785 1108.6 1783.9 1105.9C1782.8 1103.2 1781.7 1100.6 1780.8 1097.9C1779.8 1095.2 1778.9 1092.6 1778.1 1089.9C1777.2 1087.2 1776.5 1084.6 1775.9 1081.9C1775.2 1079.2 1774.7 1076.6 1774.2 1073.9C1773.8 1071.2 1773.4 1068.6 1773.1 1065.9C1772.8 1063.2 1772.6 1060.6 1772.5 1057.9C1772.3 1055.2 1772.2 1052.6 1772.2 1049.9C1772.2 1047.2 1772.2 1044.6 1772.3 1041.9C1772.3 1039.2 1772.4 1036.6 1772.5 1033.9C1772.6 1031.2 1772.6 1028.6 1772.8 1025.9C1772.9 1023.2 1773 1020.6 1773.2 1017.9C1773.3 1015.2 1773.5 1012.6 1773.7 1009.9C1773.9 1007.2 1774.1 1004.6 1774.3 1001.9C1774.5 999.2 1774.7 996.6 1774.9 993.9C1775.2 991.2 1775.4 988.6 1775.5 985.9C1775.7 983.2 1775.9 980.6 1776.1 977.9C1776.3 975.2 1776.5 972.6 1776.6 969.9C1776.8 967.2 1777 964.6 1777.1 961.9C1777.3 959.2 1777.5 956.6 1777.6 953.9C1777.8 951.2 1778 948.6 1778.1 945.9C1778.3 943.2 1778.5 940.6 1778.7 937.9C1778.9 935.2 1779.1 932.6 1779.2 929.9C1779.4 927.2 1779.6 924.6 1779.7 921.9C1779.9 919.2 1780 916.6 1780.2 913.9C1780.3 911.2 1780.5 908.6 1780.6 905.9C1780.7 903.2 1780.9 900.6 1781 897.9C1781.1 895.2 1781.3 892.6 1781.4 889.9C1781.5 887.2 1781.6 884.6 1781.8 881.9C1781.9 879.2 1782 876.6 1782 873.9C1782.1 871.2 1782.2 868.6 1782.3 865.9C1782.3 863.2 1782.3 860.6 1782.3 857.9C1782.4 855.2 1782.3 852.6 1782.3 849.9C1782.3 847.2 1782.2 844.6 1782.2 841.9C1782.1 839.2 1782 836.6 1781.9 833.9C1781.8 831.2 1781.7 828.6 1781.6 825.9C1781.5 823.2 1781.4 820.6 1781.3 817.9C1781.1 815.2 1781 812.6 1780.9 809.9C1780.8 807.2 1780.6 804.6 1780.5 801.9C1780.3 799.2 1780.2 796.6 1780 793.9C1779.9 791.2 1779.7 788.6 1779.6 785.9C1779.4 783.2 1779.3 780.6 1779.1 777.9C1778.9 775.2 1778.8 772.6 1778.6 769.9C1778.4 767.2 1778.2 764.6 1778 761.9C1777.8 759.2 1777.7 756.6 1777.5 753.9C1777.3 751.2 1777.1 748.6 1776.9 745.9C1776.8 743.2 1776.6 740.6 1776.4 737.9C1776.3 735.2 1776.1 732.6 1776 729.9C1775.8 727.2 1775.7 724.6 1775.5 721.9C1775.4 719.2 1775.3 716.6 1775.1 713.9C1775 711.2 1774.9 708.6 1774.8 705.9C1774.6 703.2 1774.5 700.6 1774.4 697.9C1774.2 695.2 1774.1 692.6 1774 689.9C1773.8 687.2 1773.7 684.6 1773.5 681.9C1773.4 679.2 1773.2 676.6 1773 673.9C1772.8 671.2 1772.7 668.6 1772.5 665.9C1772.3 663.2 1772.1 660.6 1771.9 657.9C1771.7 655.2 1771.5 652.6 1771.3 649.9C1771.1 647.2 1770.9 644.6 1770.7 641.9C1770.4 639.2 1770.2 636.6 1770 633.9C1769.7 631.2 1769.5 628.6 1769.3 625.9C1769 623.2 1768.8 620.6 1768.5 617.9C1768.3 615.2 1768.1 612.6 1767.8 609.9C1767.6 607.2 1767.4 604.6 1767.2 601.9C1767 599.2 1766.8 596.6 1766.6 593.9C1766.5 591.2 1766.3 588.6 1766.1 585.9C1766 583.2 1765.8 580.6 1765.7 577.9C1765.5 575.2 1765.4 572.6 1765.2 569.9C1765 567.2 1764.9 564.6 1764.7 561.9C1764.6 559.2 1764.4 556.6 1764.3 553.9C1764.2 551.2 1764.1 548.6 1764 545.9C1763.9 543.2 1763.8 540.6 1763.7 537.9C1763.6 535.2 1763.5 532.6 1763.3 529.9C1763 522.4 1762.7 514.9 1762.5 507.4L1762.4 492.4C1762.1 514.9 1761.8 522.4 1761.5 529.9C1761.3 532.6 1761.2 535.2 1761.1 537.9C1761 540.6 1760.9 543.2 1760.8 545.9C1760.7 548.6 1760.6 551.2 1760.5 553.9C1760.4 556.6 1760.2 559.2 1760.1 561.9C1759.9 564.6 1759.8 567.2 1759.6 569.9C1759.4 572.6 1759.3 575.2 1759.1 577.9C1759 580.6 1758.8 583.2 1758.7 585.9C1758.5 588.6 1758.3 591.2 1758.2 593.9C1758 596.6 1757.8 599.2 1757.6 601.9C1757.4 604.6 1757.2 607.2 1757 609.9C1756.7 612.6 1756.5 615.2 1756.3 617.9C1756 620.6 1755.8 623.2 1755.5 625.9C1755.3 628.6 1755.1 631.2 1754.8 633.9C1754.6 636.6 1754.4 639.2 1754.1 641.9C1753.9 644.6 1753.7 647.2 1753.5 649.9C1753.3 652.6 1753.1 655.2 1752.9 657.9C1752.7 660.6 1752.5 663.2 1752.3 665.9C1752.1 668.6 1752 671.2 1751.8 673.9C1751.6 676.6 1751.4 679.2 1751.3 681.9C1751.1 684.6 1751 687.2 1750.8 689.9C1750.7 692.6 1750.6 695.2 1750.4 697.9C1750.3 700.6 1750.2 703.2 1750 705.9C1749.9 708.6 1749.8 711.2 1749.7 713.9C1749.5 716.6 1749.4 719.2 1749.3 721.9C1749.1 724.6 1749 727.2 1748.8 729.9C1748.7 732.6 1748.5 735.2 1748.4 737.9C1748.2 740.6 1748 743.2 1747.9 745.9C1747.7 748.6 1747.5 751.2 1747.3 753.9C1747.1 756.6 1747 759.2 1746.8 761.9C1746.6 764.6 1746.4 767.2 1746.2 769.9C1746 772.6 1745.9 775.2 1745.7 777.9C1745.5 780.6 1745.4 783.2 1745.2 785.9C1745.1 788.6 1744.9 791.2 1744.8 793.9C1744.6 796.6 1744.5 799.2 1744.3 801.9C1744.2 804.6 1744 807.2 1743.9 809.9C1743.8 812.6 1743.7 815.2 1743.5 817.9C1743.4 820.6 1743.3 823.2 1743.2 825.9C1743.1 828.6 1743 831.2 1742.9 833.9C1742.8 836.6 1742.7 839.2 1742.6 841.9C1742.6 844.6 1742.5 847.2 1742.5 849.9C1742.5 852.6 1742.4 855.2 1742.5 857.9C1742.5 860.6 1742.5 863.2 1742.5 865.9C1742.6 868.6 1742.7 871.2 1742.8 873.9C1742.8 876.6 1742.9 879.2 1743 881.9C1743.2 884.6 1743.3 887.2 1743.4 889.9C1743.5 892.6 1743.7 895.2 1743.8 897.9C1743.9 900.6 1744.1 903.2 1744.2 905.9C1744.3 908.6 1744.5 911.2 1744.6 913.9C1744.8 916.6 1744.9 919.2 1745.1 921.9C1745.2 924.6 1745.4 927.2 1745.6 929.9C1745.7 932.6 1745.9 935.2 1746.1 937.9C1746.3 940.6 1746.5 943.2 1746.7 945.9C1746.8 948.6 1747 951.2 1747.2 953.9C1747.3 956.6 1747.5 959.2 1747.7 961.9C1747.8 964.6 1748 967.2 1748.2 969.9C1748.3 972.6 1748.5 975.2 1748.7 977.9C1748.9 980.6 1749.1 983.2 1749.3 985.9C1749.4 988.6 1749.6 991.2 1749.9 993.9C1750.1 996.6 1750.3 999.2 1750.5 1001.9C1750.7 1004.6 1750.9 1007.2 1751.1 1009.9C1751.3 1012.6 1751.5 1015.2 1751.6 1017.9C1751.8 1020.6 1751.9 1023.2 1752 1025.9C1752.2 1028.6 1752.2 1031.2 1752.3 1033.9C1752.4 1036.6 1752.5 1039.2 1752.5 1041.9C1752.6 1044.6 1752.6 1047.2 1752.6 1049.9C1752.6 1052.6 1752.5 1055.2 1752.3 1057.9C1752.2 1060.6 1752 1063.2 1751.7 1065.9C1751.4 1068.6 1751 1071.2 1750.6 1073.9C1750.1 1076.6 1749.6 1079.2 1748.9 1081.9C1748.3 1084.6 1747.6 1087.2 1746.7 1089.9C1745.9 1092.6 1745 1095.2 1744 1097.9C1743.1 1100.6 1742 1103.2 1740.9 1105.9C1739.8 1108.6 1738.6 1111.2 1737.4 1113.9C1736.3 1116.6 1735.1 1119.2 1733.9 1121.9C1732.7 1124.6 1731.5 1127.2 1730.4 1129.9C1729.3 1132.6 1728.3 1135.2 1727.4 1137.9C1726.4 1140.6 1725.6 1143.2 1724.9 1145.9C1724.2 1148.6 1723.5 1151.2 1723.1 1153.9C1722.6 1156.6 1722.4 1159.2 1722.4 1161.9Z"/>
<path class="v" fill="#7EC0EE" d="M1909.7 1161.9C1909.7 1159.2 1909.6 1156.6 1909.1 1153.9C1908.7 1151.2 1907.9 1148.6 1907.2 1145.9C1906.4 1143.2 1905.5 1140.6 1904.4 1137.9C1903.3 1135.2 1902.1 1132.6 1900.8 1129.9C1899.5 1127.2 1898.1 1124.6 1896.7 1121.9C1895.3 1119.2 1893.8 1116.6 1892.4 1113.9C1891 1111.2 1889.6 1108.6 1888.2 1105.9C1886.9 1103.2 1885.6 1100.6 1884.5 1097.9C1883.3 1095.2 1882.2 1092.6 1881.2 1089.9C1880.3 1087.2 1879.4 1084.6 1878.6 1081.9C1877.9 1079.2 1877.2 1076.6 1876.7 1073.9C1876.1 1071.2 1875.6 1068.6 1875.2 1065.9C1874.9 1063.2 1874.5 1060.6 1874.3 1057.9C1874.1 1055.2 1873.9 1052.6 1873.7 1049.9C1873.6 1047.2 1873.5 1044.6 1873.5 1041.9C1873.4 1039.2 1873.4 1036.6 1873.4 1033.9C1873.4 1031.2 1873.5 1028.6 1873.5 1025.9C1873.6 1023.2 1873.7 1020.6 1873.9 1017.9C1874 1015.2 1874.2 1012.6 1874.4 1009.9C1874.7 1007.2 1875 1004.6 1875.3 1001.9C1875.6 999.2 1876 996.6 1876.3 993.9C1876.7 991.2 1877 988.6 1877.4 985.9C1877.7 983.2 1878 980.6 1878.4 977.9C1878.7 975.2 1879.1 972.6 1879.4 969.9C1879.8 967.2 1880.1 964.6 1880.4 961.9C1880.8 959.2 1881.1 956.6 1881.4 953.9C1881.7 951.2 1882 948.6 1882.2 945.9C1882.5 943.2 1882.7 940.6 1882.9 937.9C1883.1 935.2 1883.3 932.6 1883.4 929.9C1883.6 927.2 1883.7 924.6 1883.8 921.9C1884 919.2 1884.1 916.6 1884.1 913.9C1884.2 911.2 1884.3 908.6 1884.3 905.9C1884.4 903.2 1884.4 900.6 1884.5 897.9C1884.5 895.2 1884.5 892.6 1884.5 889.9C1884.5 887.2 1884.5 884.6 1884.5 881.9C1884.4 879.2 1884.4 876.6 1884.3 873.9C1884.3 871.2 1884.2 868.6 1884.2 865.9C1884.1 863.2 1884.1 860.6 1884 857.9C1883.9 855.2 1883.8 852.6 1883.8 849.9C1883.7 847.2 1883.6 844.6 1883.5 841.9C1883.5 839.2 1883.4 836.6 1883.3 833.9C1883.2 831.2 1883.1 828.6 1882.9 825.9C1882.8 823.2 1882.7 820.6 1882.6 817.9C1882.4 815.2 1882.3 812.6 1882.1 809.9C1881.9 807.2 1881.7 804.6 1881.5 801.9C1881.3 799.2 1881 796.6 1880.8 793.9C1880.5 791.2 1880.3 788.6 1880 785.9C1879.8 783.2 1879.6 780.6 1879.3 777.9C1879.1 775.2 1878.8 772.6 1878.6 769.9C1878.4 767.2 1878.1 764.6 1877.9 761.9C1877.7 759.2 1877.5 756.6 1877.3 753.9C1877 751.2 1876.8 748.6 1876.6 745.9C1876.4 743.2 1876.2 740.6 1876 737.9C1875.9 735.2 1875.7 732.6 1875.5 729.9C1875.4 727.2 1875.2 724.6 1875.1 721.9C1875 719.2 1874.9 716.6 1874.8 713.9C1874.7 711.2 1874.6 708.6 1874.6 705.9C1874.5 703.2 1874.4 700.6 1874.3 697.9C1874.2 695.2 1874.1 692.6 1874 689.9C1873.9 687.2 1873.8 684.6 1873.7 681.9C1873.6 679.2 1873.5 676.6 1873.4 673.9C1873.3 671.2 1873.2 668.6 1873.2 665.9C1873.1 663.2 1873 660.6 1872.9 657.9C1872.9 655.2 1872.8 652.6 1872.7 649.9C1872.6 647.2 1872.6 644.6 1872.5 641.9C1872.4 639.2 1872.3 636.6 1872.3 633.9C1872.2 631.2 1872.2 628.6 1872.1 625.9C1872.1 623.2 1872 620.6 1872 617.9C1872 615.2 1871.9 612.6 1871.9 609.9C1871.8 607.2 1871.8 604.6 1871.8 601.9C1871.7 599.2 1871.7 596.6 1871.6 593.9C1871.6 591.2 1871.6 588.6 1871.5 585.9C1871.5 583.2 1871.5 580.6 1871.4 577.9C1871.4 575.2 1871.3 572.6 1871.3 569.9C1871.3 567.2 1871.2 564.6 1871.2 561.9C1871.1 559.2 1871.1 556.6 1871 553.9C1871 551.2 1870.9 548.6 1870.9 545.9C1870.7 537.9 1870.5 529.9 1870.4 521.9C1870.2 513.9 1870.1 505.9 1870 497.9C1870 493.4 1869.9 488.9 1869.9 484.5L1869.7 306.8C1869.6 488.9 1869.5 493.4 1869.5 497.9C1869.4 505.9 1869.3 513.9 1869.1 521.9C1869 529.9 1868.8 537.9 1868.6 545.9C1868.6 548.6 1868.5 551.2 1868.5 553.9C1868.4 556.6 1868.4 559.2 1868.3 561.9C1868.3 564.6 1868.2 567.2 1868.2 569.9C1868.1 572.6 1868.1 575.2 1868.1 577.9C1868 580.6 1868 583.2 1867.9 585.9C1867.9 588.6 1867.9 591.2 1867.8 593.9C1867.8 596.6 1867.8 599.2 1867.7 601.9C1867.7 604.6 1867.6 607.2 1867.6 609.9C1867.6 612.6 1867.5 615.2 1867.5 617.9C1867.4 620.6 1867.4 623.2 1867.4 625.9C1867.3 628.6 1867.3 631.2 1867.2 633.9C1867.1 636.6 1867.1 639.2 1867 641.9C1866.9 644.6 1866.9 647.2 1866.8 649.9C1866.7 652.6 1866.6 655.2 1866.5 657.9C1866.5 660.6 1866.4 663.2 1866.3 665.9C1866.2 668.6 1866.2 671.2 1866.1 673.9C1866 676.6 1865.9 679.2 1865.8 681.9C1865.7 684.6 1865.6 687.2 1865.5 689.9C1865.4 692.6 1865.3 695.2 1865.2 697.9C1865.1 700.6 1865 703.2 1864.9 705.9C1864.8 708.6 1864.7 711.2 1864.7 713.9C1864.6 716.6 1864.5 719.2 1864.4 721.9C1864.2 724.6 1864.1 727.2 1864 729.9C1863.8 732.6 1863.6 735.2 1863.4 737.9C1863.3 740.6 1863.1 743.2 1862.8 745.9C1862.6 748.6 1862.4 751.2 1862.2 753.9C1862 756.6 1861.8 759.2 1861.6 761.9C1861.3 764.6 1861.1 767.2 1860.9 769.9C1860.6 772.6 1860.4 775.2 1860.2 777.9C1859.9 780.6 1859.7 783.2 1859.4 785.9C1859.2 788.6 1858.9 791.2 1858.7 793.9C1858.5 796.6 1858.2 799.2 1858 801.9C1857.8 804.6 1857.6 807.2 1857.4 809.9C1857.2 812.6 1857.1 815.2 1856.9 817.9C1856.8 820.6 1856.7 823.2 1856.5 825.9C1856.4 828.6 1856.3 831.2 1856.2 833.9C1856.1 836.6 1856 839.2 1855.9 841.9C1855.9 844.6 1855.8 847.2 1855.7 849.9C1855.6 852.6 1855.6 855.2 1855.5 857.9C1855.4 860.6 1855.4 863.2 1855.3 865.9C1855.2 868.6 1855.2 871.2 1855.1 873.9C1855.1 876.6 1855.1 879.2 1855 881.9C1855 884.6 1855 887.2 1855 889.9C1855 892.6 1855 895.2 1855 897.9C1855 900.6 1855.1 903.2 1855.1 905.9C1855.2 908.6 1855.3 911.2 1855.3 913.9C1855.4 916.6 1855.5 919.2 1855.6 921.9C1855.8 924.6 1855.9 927.2 1856 929.9C1856.2 932.6 1856.4 935.2 1856.6 937.9C1856.8 940.6 1857 943.2 1857.2 945.9C1857.5 948.6 1857.8 951.2 1858.1 953.9C1858.4 956.6 1858.7 959.2 1859 961.9C1859.4 964.6 1859.7 967.2 1860.1 969.9C1860.4 972.6 1860.8 975.2 1861.1 977.9C1861.4 980.6 1861.8 983.2 1862.1 985.9C1862.5 988.6 1862.8 991.2 1863.1 993.9C1863.5 996.6 1863.8 999.2 1864.2 1001.9C1864.5 1004.6 1864.8 1007.2 1865 1009.9C1865.3 1012.6 1865.5 1015.2 1865.6 1017.9C1865.8 1020.6 1865.9 1023.2 1865.9 1025.9C1866 1028.6 1866.1 1031.2 1866.1 1033.9C1866.1 1036.6 1866.1 1039.2 1866 1041.9C1866 1044.6 1865.9 1047.2 1865.7 1049.9C1865.6 1052.6 1865.4 1055.2 1865.2 1057.9C1864.9 1060.6 1864.6 1063.2 1864.2 1065.9C1863.9 1068.6 1863.4 1071.2 1862.8 1073.9C1862.3 1076.6 1861.6 1079.2 1860.8 1081.9C1860.1 1084.6 1859.2 1087.2 1858.2 1089.9C1857.3 1092.6 1856.2 1095.2 1855 1097.9C1853.8 1100.6 1852.6 1103.2 1851.2 1105.9C1849.9 1108.6 1848.5 1111.2 1847.1 1113.9C1845.7 1116.6 1844.2 1119.2 1842.8 1121.9C1841.4 1124.6 1840 1127.2 1838.7 1129.9C1837.4 1132.6 1836.2 1135.2 1835.1 1137.9C1834 1140.6 1833.1 1143.2 1832.3 1145.9C1831.6 1148.6 1830.8 1151.2 1830.4 1153.9C1829.9 1156.6 1829.7 1159.2 1829.7 1161.9Z"/>
<path class="v" fill="#436EEE" d="M1990.2 1161.9C1990.2 1159.2 1989.9 1156.6 1989.2 1153.9C1988.6 1151.2 1987.7 1148.6 1986.7 1145.9C1985.7 1143.2 1984.5 1140.6 1983.2 1137.9C1981.9 1135.2 1980.3 1132.6 1978.8 1129.9C1977.2 1127.2 1975.5 1124.6 1973.8 1121.9C1972.2 1119.2 1970.5 1116.6 1968.9 1113.9C1967.3 1111.2 1965.8 1108.6 1964.5 1105.9C1963.1 1103.2 1961.8 1100.6 1960.7 1097.9C1959.6 1095.2 1958.7 1092.6 1957.8 1089.9C1957 1087.2 1956.3 1084.6 1955.8 1081.9C1955.2 1079.2 1954.8 1076.6 1954.5 1073.9C1954.1 1071.2 1953.9 1068.6 1953.7 1065.9C1953.5 1063.2 1953.4 1060.6 1953.3 1057.9C1953.3 1055.2 1953.3 1052.6 1953.3 1049.9C1953.3 1047.2 1953.3 1044.6 1953.4 1041.9C1953.5 1039.2 1953.6 1036.6 1953.8 1033.9C1953.9 1031.2 1954.1 1028.6 1954.3 1025.9C1954.5 1023.2 1954.7 1020.6 1954.9 1017.9C1955.1 1015.2 1955.3 1012.6 1955.6 1009.9C1955.8 1007.2 1956 1004.6 1956.2 1001.9C1956.4 999.2 1956.7 996.6 1956.9 993.9C1957.1 991.2 1957.3 988.6 1957.5 985.9C1957.8 983.2 1958 980.6 1958.2 977.9C1958.4 975.2 1958.6 972.6 1958.8 969.9C1959 967.2 1959.2 964.6 1959.4 961.9C1959.6 959.2 1959.8 956.6 1959.9 953.9C1960.1 951.2 1960.3 948.6 1960.4 945.9C1960.5 943.2 1960.6 940.6 1960.7 937.9C1960.8 935.2 1960.9 932.6 1960.9 929.9C1961 927.2 1961 924.6 1961.1 921.9C1961.1 919.2 1961.2 916.6 1961.2 913.9C1961.2 911.2 1961.2 908.6 1961.2 905.9C1961.2 903.2 1961.2 900.6 1961.2 897.9C1961.2 895.2 1961.2 892.6 1961.2 889.9C1961.2 887.2 1961.1 884.6 1961.1 881.9C1961 879.2 1961 876.6 1960.9 873.9C1960.8 871.2 1960.7 868.6 1960.7 865.9C1960.6 863.2 1960.5 860.6 1960.4 857.9C1960.3 855.2 1960.2 852.6 1960.2 849.9C1960.1 847.2 1960 844.6 1959.9 841.9C1959.8 839.2 1959.8 836.6 1959.7 833.9C1959.6 831.2 1959.5 828.6 1959.3 825.9C1959.2 823.2 1959.1 820.6 1959 817.9C1958.9 815.2 1958.7 812.6 1958.6 809.9C1958.5 807.2 1958.3 804.6 1958.2 801.9C1958 799.2 1957.9 796.6 1957.7 793.9C1957.6 791.2 1957.4 788.6 1957.2 785.9C1957.1 783.2 1956.9 780.6 1956.8 777.9C1956.6 775.2 1956.5 772.6 1956.4 769.9C1956.2 767.2 1956.1 764.6 1956 761.9C1955.9 759.2 1955.7 756.6 1955.6 753.9C1955.5 751.2 1955.4 748.6 1955.3 745.9C1955.2 743.2 1955.1 740.6 1955 737.9C1954.9 735.2 1954.8 732.6 1954.7 729.9C1954.6 727.2 1954.5 724.6 1954.5 721.9C1954.4 719.2 1954.3 716.6 1954.2 713.9C1954.1 711.2 1954 708.6 1953.9 705.9C1953.8 703.2 1953.7 700.6 1953.6 697.9C1953.5 695.2 1953.4 692.6 1953.3 689.9C1953.2 687.2 1953.1 684.6 1953 681.9C1952.9 679.2 1952.8 676.6 1952.8 673.9C1952.7 671.2 1952.6 668.6 1952.5 665.9C1952.5 663.2 1952.4 660.6 1952.4 657.9C1952.3 655.2 1952.2 652.6 1952.2 649.9C1952.1 647.2 1952 644.6 1952 641.9C1951.9 639.2 1951.9 636.6 1951.8 633.9C1951.7 631.2 1951.6 628.6 1951.6 625.9C1951.5 623.2 1951.4 620.6 1951.3 617.9C1951 609.9 1950.8 601.9 1950.6 593.9C1950.5 589.5 1950.4 585 1950.4 580.6L1950.2 375.5C1950 585 1950 589.5 1949.9 593.9C1949.7 601.9 1949.4 609.9 1949.2 617.9C1949.1 620.6 1949 623.2 1948.9 625.9C1948.8 628.6 1948.8 631.2 1948.7 633.9C1948.6 636.6 1948.6 639.2 1948.5 641.9C1948.4 644.6 1948.4 647.2 1948.3 649.9C1948.3 652.6 1948.2 655.2 1948.1 657.9C1948.1 660.6 1948 663.2 1947.9 665.9C1947.9 668.6 1947.8 671.2 1947.7 673.9C1947.7 676.6 1947.6 679.2 1947.5 681.9C1947.4 684.6 1947.3 687.2 1947.2 689.9C1947.1 692.6 1947 695.2 1946.9 697.9C1946.8 700.6 1946.7 703.2 1946.6 705.9C1946.5 708.6 1946.4 711.2 1946.3 713.9C1946.2 716.6 1946.1 719.2 1946 721.9C1945.9 724.6 1945.8 727.2 1945.7 729.9C1945.7 732.6 1945.6 735.2 1945.5 737.9C1945.4 740.6 1945.3 743.2 1945.2 745.9C1945.1 748.6 1945 751.2 1944.9 753.9C1944.7 756.6 1944.6 759.2 1944.5 761.9C1944.4 764.6 1944.2 767.2 1944.1 769.9C1944 772.6 1943.8 775.2 1943.7 777.9C1943.6 780.6 1943.4 783.2 1943.2 785.9C1943.1 788.6 1942.9 791.2 1942.8 793.9C1942.6 796.6 1942.5 799.2 1942.3 801.9C1942.2 804.6 1942 807.2 1941.9 809.9C1941.7 812.6 1941.6 815.2 1941.5 817.9C1941.4 820.6 1941.2 823.2 1941.1 825.9C1941 828.6 1940.9 831.2 1940.8 833.9C1940.7 836.6 1940.6 839.2 1940.6 841.9C1940.5 844.6 1940.4 847.2 1940.3 849.9C1940.2 852.6 1940.2 855.2 1940.1 857.9C1940 860.6 1939.9 863.2 1939.8 865.9C1939.7 868.6 1939.7 871.2 1939.6 873.9C1939.5 876.6 1939.5 879.2 1939.4 881.9C1939.4 884.6 1939.3 887.2 1939.3 889.9C1939.3 892.6 1939.3 895.2 1939.3 897.9C1939.3 900.6 1939.3 903.2 1939.3 905.9C1939.3 908.6 1939.3 911.2 1939.3 913.9C1939.3 916.6 1939.4 919.2 1939.4 921.9C1939.4 924.6 1939.5 927.2 1939.6 929.9C1939.6 932.6 1939.7 935.2 1939.8 937.9C1939.9 940.6 1940 943.2 1940.1 945.9C1940.2 948.6 1940.4 951.2 1940.5 953.9C1940.7 956.6 1940.9 959.2 1941.1 961.9C1941.3 964.6 1941.5 967.2 1941.7 969.9C1941.9 972.6 1942.1 975.2 1942.3 977.9C1942.5 980.6 1942.7 983.2 1942.9 985.9C1943.1 988.6 1943.4 991.2 1943.6 993.9C1943.8 996.6 1944 999.2 1944.3 1001.9C1944.5 1004.6 1944.7 1007.2 1944.9 1009.9C1945.1 1012.6 1945.4 1015.2 1945.6 1017.9C1945.8 1020.6 1946 1023.2 1946.2 1025.9C1946.4 1028.6 1946.6 1031.2 1946.7 1033.9C1946.9 1036.6 1947 1039.2 1947.1 1041.9C1947.1 1044.6 1947.2 1047.2 1947.2 1049.9C1947.2 1052.6 1947.2 1055.2 1947.1 1057.9C1947.1 1060.6 1947 1063.2 1946.8 1065.9C1946.6 1068.6 1946.4 1071.2 1946 1073.9C1945.7 1076.6 1945.2 1079.2 1944.7 1081.9C1944.1 1084.6 1943.5 1087.2 1942.6 1089.9C1941.8 1092.6 1940.9 1095.2 1939.8 1097.9C1938.7 1100.6 1937.4 1103.2 1936 1105.9C1934.6 1108.6 1933.1 1111.2 1931.5 1113.9C1930 1116.6 1928.3 1119.2 1926.6 1121.9C1925 1124.6 1923.3 1127.2 1921.7 1129.9C1920.1 1132.6 1918.6 1135.2 1917.3 1137.9C1915.9 1140.6 1914.8 1143.2 1913.8 1145.9C1912.8 1148.6 1911.9 1151.2 1911.2 1153.9C1910.6 1156.6 1910.2 1159.2 1910.2 1161.9Z"/>
<path class="v" fill="#FF3030" d="M2070.7 1161.9C2070.7 1159.2 2070.2 1156.6 2069.5 1153.9C2068.7 1151.2 2067.6 1148.6 2066.5 1145.9C2065.4 1143.2 2064.1 1140.6 2062.6 1137.9C2061.1 1135.2 2059.5 1132.6 2057.9 1129.9C2056.2 1127.2 2054.5 1124.6 2052.9 1121.9C2051.3 1119.2 2049.7 1116.6 2048.2 1113.9C2046.7 1111.2 2045.4 1108.6 2044.1 1105.9C2042.9 1103.2 2041.9 1100.6 2041 1097.9C2040.1 1095.2 2039.4 1092.6 2038.8 1089.9C2038.2 1087.2 2037.8 1084.6 2037.5 1081.9C2037.2 1079.2 2037.1 1076.6 2037 1073.9C2036.9 1071.2 2037 1068.6 2037.1 1065.9C2037.2 1063.2 2037.4 1060.6 2037.7 1057.9C2037.9 1055.2 2038.3 1052.6 2038.7 1049.9C2039.2 1047.2 2039.6 1044.6 2040.1 1041.9C2040.7 1039.2 2041.2 1036.6 2041.8 1033.9C2042.3 1031.2 2042.9 1028.6 2043.5 1025.9C2044.1 1023.2 2044.7 1020.6 2045.2 1017.9C2045.8 1015.2 2046.3 1012.6 2046.8 1009.9C2047.2 1007.2 2047.7 1004.6 2048 1001.9C2048.4 999.2 2048.7 996.6 2049 993.9C2049.3 991.2 2049.5 988.6 2049.7 985.9C2049.8 983.2 2050 980.6 2050 977.9C2050.1 975.2 2050.2 972.6 2050.2 969.9C2050.2 967.2 2050.2 964.6 2050.1 961.9C2050.1 959.2 2050 956.6 2049.9 953.9C2049.9 951.2 2049.8 948.6 2049.6 945.9C2049.5 943.2 2049.4 940.6 2049.2 937.9C2049.1 935.2 2048.9 932.6 2048.8 929.9C2048.6 927.2 2048.4 924.6 2048.2 921.9C2048 919.2 2047.8 916.6 2047.6 913.9C2047.4 911.2 2047.2 908.6 2047 905.9C2046.9 903.2 2046.7 900.6 2046.5 897.9C2046.3 895.2 2046.1 892.6 2046 889.9C2045.8 887.2 2045.6 884.6 2045.4 881.9C2045.2 879.2 2045 876.6 2044.8 873.9C2044.6 871.2 2044.4 868.6 2044.2 865.9C2043.9 863.2 2043.7 860.6 2043.5 857.9C2043.3 855.2 2043.1 852.6 2042.9 849.9C2042.7 847.2 2042.5 844.6 2042.3 841.9C2042.1 839.2 2042 836.6 2041.8 833.9C2041.7 831.2 2041.5 828.6 2041.4 825.9C2041.3 823.2 2041.1 820.6 2041 817.9C2040.9 815.2 2040.8 812.6 2040.6 809.9C2040.5 807.2 2040.3 804.6 2040.1 801.9C2040 799.2 2039.8 796.6 2039.6 793.9C2039.4 791.2 2039.2 788.6 2039.1 785.9C2038.9 783.2 2038.7 780.6 2038.5 777.9C2038.3 775.2 2038.1 772.6 2037.9 769.9C2037.7 767.2 2037.5 764.6 2037.3 761.9C2037.1 759.2 2037 756.6 2036.8 753.9C2036.6 751.2 2036.5 748.6 2036.3 745.9C2036.2 743.2 2036.1 740.6 2035.9 737.9C2035.8 735.2 2035.7 732.6 2035.6 729.9C2035.5 727.2 2035.4 724.6 2035.3 721.9C2035.2 719.2 2035.2 716.6 2035.1 713.9C2035 711.2 2034.9 708.6 2034.8 705.9C2034.7 703.2 2034.6 700.6 2034.5 697.9C2034.5 695.2 2034.4 692.6 2034.3 689.9C2034.2 687.2 2034.1 684.6 2034 681.9C2033.9 679.2 2033.8 676.6 2033.8 673.9C2033.7 671.2 2033.6 668.6 2033.5 665.9C2033.5 663.2 2033.4 660.6 2033.3 657.9C2033.2 655.2 2033.1 652.6 2033 649.9C2032.9 647.2 2032.8 644.6 2032.7 641.9C2032.7 639.2 2032.6 636.6 2032.5 633.9C2032.4 631.2 2032.4 628.6 2032.3 625.9C2032.2 623.2 2032.2 620.6 2032.1 617.9C2032 615.2 2031.9 612.6 2031.8 609.9C2031.5 601.9 2031.2 593.9 2031.1 585.9C2031 582.6 2030.9 579.4 2030.9 576.1L2030.7 502C2030.5 579.4 2030.5 582.6 2030.4 585.9C2030.3 593.9 2030 601.9 2029.7 609.9C2029.6 612.6 2029.5 615.2 2029.4 617.9C2029.3 620.6 2029.2 623.2 2029.2 625.9C2029.1 628.6 2029 631.2 2029 633.9C2028.9 636.6 2028.8 639.2 2028.7 641.9C2028.7 644.6 2028.6 647.2 2028.5 649.9C2028.4 652.6 2028.3 655.2 2028.2 657.9C2028.1 660.6 2028 663.2 2027.9 665.9C2027.9 668.6 2027.8 671.2 2027.7 673.9C2027.6 676.6 2027.6 679.2 2027.5 681.9C2027.4 684.6 2027.3 687.2 2027.2 689.9C2027.1 692.6 2027 695.2 2026.9 697.9C2026.8 700.6 2026.7 703.2 2026.7 705.9C2026.6 708.6 2026.5 711.2 2026.4 713.9C2026.3 716.6 2026.2 719.2 2026.1 721.9C2026.1 724.6 2026 727.2 2025.9 729.9C2025.8 732.6 2025.7 735.2 2025.5 737.9C2025.4 740.6 2025.3 743.2 2025.2 745.9C2025 748.6 2024.9 751.2 2024.7 753.9C2024.5 756.6 2024.3 759.2 2024.2 761.9C2024 764.6 2023.8 767.2 2023.6 769.9C2023.4 772.6 2023.2 775.2 2023 777.9C2022.8 780.6 2022.6 783.2 2022.4 785.9C2022.2 788.6 2022.1 791.2 2021.9 793.9C2021.7 796.6 2021.5 799.2 2021.4 801.9C2021.2 804.6 2021 807.2 2020.9 809.9C2020.7 812.6 2020.6 815.2 2020.5 817.9C2020.3 820.6 2020.2 823.2 2020.1 825.9C2020 828.6 2019.8 831.2 2019.7 833.9C2019.5 836.6 2019.3 839.2 2019.2 841.9C2019 844.6 2018.8 847.2 2018.6 849.9C2018.4 852.6 2018.2 855.2 2018 857.9C2017.8 860.6 2017.5 863.2 2017.3 865.9C2017.1 868.6 2016.9 871.2 2016.7 873.9C2016.5 876.6 2016.2 879.2 2016.1 881.9C2015.9 884.6 2015.7 887.2 2015.5 889.9C2015.3 892.6 2015.2 895.2 2015 897.9C2014.8 900.6 2014.6 903.2 2014.4 905.9C2014.2 908.6 2014 911.2 2013.8 913.9C2013.6 916.6 2013.5 919.2 2013.3 921.9C2013.1 924.6 2012.9 927.2 2012.7 929.9C2012.6 932.6 2012.4 935.2 2012.3 937.9C2012.1 940.6 2012 943.2 2011.8 945.9C2011.7 948.6 2011.6 951.2 2011.5 953.9C2011.4 956.6 2011.4 959.2 2011.3 961.9C2011.3 964.6 2011.3 967.2 2011.3 969.9C2011.3 972.6 2011.4 975.2 2011.4 977.9C2011.5 980.6 2011.6 983.2 2011.8 985.9C2012 988.6 2012.2 991.2 2012.5 993.9C2012.8 996.6 2013.1 999.2 2013.5 1001.9C2013.8 1004.6 2014.2 1007.2 2014.7 1009.9C2015.2 1012.6 2015.7 1015.2 2016.3 1017.9C2016.8 1020.6 2017.4 1023.2 2018 1025.9C2018.6 1028.6 2019.2 1031.2 2019.7 1033.9C2020.3 1036.6 2020.8 1039.2 2021.3 1041.9C2021.8 1044.6 2022.3 1047.2 2022.8 1049.9C2023.2 1052.6 2023.5 1055.2 2023.8 1057.9C2024.1 1060.6 2024.3 1063.2 2024.4 1065.9C2024.5 1068.6 2024.5 1071.2 2024.5 1073.9C2024.4 1076.6 2024.2 1079.2 2023.9 1081.9C2023.7 1084.6 2023.2 1087.2 2022.7 1089.9C2022.1 1092.6 2021.4 1095.2 2020.5 1097.9C2019.6 1100.6 2018.5 1103.2 2017.3 1105.9C2016.1 1108.6 2014.8 1111.2 2013.3 1113.9C2011.8 1116.6 2010.2 1119.2 2008.6 1121.9C2006.9 1124.6 2005.3 1127.2 2003.6 1129.9C2002 1132.6 2000.4 1135.2 1998.9 1137.9C1997.4 1140.6 1996.1 1143.2 1995 1145.9C1993.9 1148.6 1992.8 1151.2 1992 1153.9C1991.3 1156.6 1990.7 1159.2 1990.7 1161.9Z"/>
<path class="v" fill="#7EC0EE" d="M2178.1 1161.9C2178.1 1159.2 2178.1 1156.6 2177.7 1153.9C2177.4 1151.2 2176.8 1148.6 2176.2 1145.9C2175.5 1143.2 2174.7 1140.6 2173.8 1137.9C2172.9 1135.2 2171.8 1132.6 2170.7 1129.9C2169.5 1127.2 2168.3 1124.6 2167.1 1121.9C2165.8 1119.2 2164.6 1116.6 2163.4 1113.9C2162.2 1111.2 2161.1 1108.6 2160 1105.9C2158.9 1103.2 2157.9 1100.6 2157.1 1097.9C2156.2 1095.2 2155.4 1092.6 2154.8 1089.9C2154.2 1087.2 2153.7 1084.6 2153.3 1081.9C2152.9 1079.2 2152.7 1076.6 2152.5 1073.9C2152.3 1071.2 2152.3 1068.6 2152.4 1065.9C2152.4 1063.2 2152.6 1060.6 2152.8 1057.9C2153.1 1055.2 2153.4 1052.6 2153.8 1049.9C2154.2 1047.2 2154.7 1044.6 2155.3 1041.9C2155.9 1039.2 2156.5 1036.6 2157.1 1033.9C2157.8 1031.2 2158.4 1028.6 2159.1 1025.9C2159.8 1023.2 2160.4 1020.6 2161 1017.9C2161.6 1015.2 2162.2 1012.6 2162.7 1009.9C2163.2 1007.2 2163.6 1004.6 2163.9 1001.9C2164.3 999.2 2164.6 996.6 2164.8 993.9C2165 991.2 2165.2 988.6 2165.3 985.9C2165.3 983.2 2165.4 980.6 2165.3 977.9C2165.3 975.2 2165.3 972.6 2165.2 969.9C2165.1 967.2 2165 964.6 2164.8 961.9C2164.6 959.2 2164.4 956.6 2164.2 953.9C2164 951.2 2163.8 948.6 2163.6 945.9C2163.3 943.2 2163.1 940.6 2162.8 937.9C2162.6 935.2 2162.3 932.6 2162 929.9C2161.7 927.2 2161.5 924.6 2161.2 921.9C2160.9 919.2 2160.6 916.6 2160.4 913.9C2160.1 911.2 2159.8 908.6 2159.6 905.9C2159.3 903.2 2159 900.6 2158.8 897.9C2158.5 895.2 2158.2 892.6 2157.9 889.9C2157.7 887.2 2157.4 884.6 2157.2 881.9C2156.9 879.2 2156.7 876.6 2156.5 873.9C2156.2 871.2 2156 868.6 2155.8 865.9C2155.6 863.2 2155.4 860.6 2155.2 857.9C2155 855.2 2154.8 852.6 2154.7 849.9C2154.5 847.2 2154.3 844.6 2154.1 841.9C2153.9 839.2 2153.7 836.6 2153.5 833.9C2153.3 831.2 2153.2 828.6 2153 825.9C2152.8 823.2 2152.6 820.6 2152.4 817.9C2152.2 815.2 2152 812.6 2151.8 809.9C2151.5 807.2 2151.3 804.6 2151.1 801.9C2150.9 799.2 2150.6 796.6 2150.4 793.9C2150.2 791.2 2149.9 788.6 2149.7 785.9C2149.4 783.2 2149.2 780.6 2148.9 777.9C2148.7 775.2 2148.4 772.6 2148.2 769.9C2147.9 767.2 2147.6 764.6 2147.3 761.9C2147 759.2 2146.7 756.6 2146.4 753.9C2146.1 751.2 2145.8 748.6 2145.5 745.9C2145.3 743.2 2145 740.6 2144.7 737.9C2144.5 735.2 2144.3 732.6 2144 729.9C2143.8 727.2 2143.6 724.6 2143.3 721.9C2143.1 719.2 2142.9 716.6 2142.7 713.9C2142.5 711.2 2142.3 708.6 2142.2 705.9C2142 703.2 2141.8 700.6 2141.7 697.9C2141.5 695.2 2141.4 692.6 2141.3 689.9C2141.1 687.2 2141 684.6 2140.9 681.9C2140.7 678.7 2140.6 675.6 2140.5 672.4L2135.7 672.4C2135.6 675.6 2135.4 678.7 2135.3 681.9C2135.2 684.6 2135 687.2 2134.9 689.9C2134.8 692.6 2134.6 695.2 2134.5 697.9C2134.3 700.6 2134.2 703.2 2134 705.9C2133.8 708.6 2133.7 711.2 2133.5 713.9C2133.3 716.6 2133 719.2 2132.8 721.9C2132.6 724.6 2132.4 727.2 2132.1 729.9C2131.9 732.6 2131.7 735.2 2131.4 737.9C2131.2 740.6 2130.9 743.2 2130.6 745.9C2130.3 748.6 2130 751.2 2129.7 753.9C2129.4 756.6 2129.1 759.2 2128.8 761.9C2128.6 764.6 2128.3 767.2 2128 769.9C2127.7 772.6 2127.5 775.2 2127.2 777.9C2127 780.6 2126.7 783.2 2126.5 785.9C2126.2 788.6 2126 791.2 2125.8 793.9C2125.5 796.6 2125.3 799.2 2125.1 801.9C2124.8 804.6 2124.6 807.2 2124.4 809.9C2124.2 812.6 2124 815.2 2123.8 817.9C2123.6 820.6 2123.4 823.2 2123.2 825.9C2123 828.6 2122.8 831.2 2122.6 833.9C2122.4 836.6 2122.2 839.2 2122.1 841.9C2121.9 844.6 2121.7 847.2 2121.5 849.9C2121.3 852.6 2121.1 855.2 2120.9 857.9C2120.7 860.6 2120.5 863.2 2120.3 865.9C2120.1 868.6 2119.9 871.2 2119.7 873.9C2119.5 876.6 2119.2 879.2 2119 881.9C2118.7 884.6 2118.5 887.2 2118.2 889.9C2117.9 892.6 2117.7 895.2 2117.4 897.9C2117.1 900.6 2116.9 903.2 2116.6 905.9C2116.3 908.6 2116 911.2 2115.8 913.9C2115.5 916.6 2115.2 919.2 2115 921.9C2114.7 924.6 2114.4 927.2 2114.2 929.9C2113.9 932.6 2113.6 935.2 2113.3 937.9C2113.1 940.6 2112.8 943.2 2112.6 945.9C2112.3 948.6 2112.1 951.2 2111.9 953.9C2111.7 956.6 2111.5 959.2 2111.4 961.9C2111.2 964.6 2111.1 967.2 2111 969.9C2110.9 972.6 2110.8 975.2 2110.8 977.9C2110.8 980.6 2110.8 983.2 2110.9 985.9C2111 988.6 2111.1 991.2 2111.4 993.9C2111.6 996.6 2111.9 999.2 2112.2 1001.9C2112.6 1004.6 2113 1007.2 2113.5 1009.9C2114 1012.6 2114.5 1015.2 2115.1 1017.9C2115.7 1020.6 2116.4 1023.2 2117.1 1025.9C2117.7 1028.6 2118.4 1031.2 2119 1033.9C2119.7 1036.6 2120.3 1039.2 2120.9 1041.9C2121.4 1044.6 2121.9 1047.2 2122.3 1049.9C2122.8 1052.6 2123.1 1055.2 2123.3 1057.9C2123.6 1060.6 2123.7 1063.2 2123.8 1065.9C2123.9 1068.6 2123.8 1071.2 2123.7 1073.9C2123.5 1076.6 2123.2 1079.2 2122.9 1081.9C2122.5 1084.6 2122 1087.2 2121.3 1089.9C2120.7 1092.6 2120 1095.2 2119.1 1097.9C2118.2 1100.6 2117.2 1103.2 2116.2 1105.9C2115.1 1108.6 2114 1111.2 2112.8 1113.9C2111.6 1116.6 2110.3 1119.2 2109.1 1121.9C2107.9 1124.6 2106.6 1127.2 2105.5 1129.9C2104.4 1132.6 2103.3 1135.2 2102.4 1137.9C2101.4 1140.6 2100.6 1143.2 2100 1145.9C2099.4 1148.6 2098.8 1151.2 2098.4 1153.9C2098.1 1156.6 2098.1 1159.2 2098.1 1161.9Z"/>
<path class="v" fill="#436EEE" d="M2258.6 1161.9C2258.6 1159.2 2258.7 1156.6 2258.5 1153.9C2258.3 1151.2 2257.9 1148.6 2257.5 1145.9C2257.1 1143.2 2256.6 1140.6 2256 1137.9C2255.4 1135.2 2254.7 1132.6 2254 1129.9C2253.3 1127.2 2252.5 1124.6 2251.7 1121.9C2250.9 1119.2 2250.1 1116.6 2249.4 1113.9C2248.6 1111.2 2247.8 1108.6 2247.1 1105.9C2246.4 1103.2 2245.7 1100.6 2245.1 1097.9C2244.5 1095.2 2244 1092.6 2243.5 1089.9C2243 1087.2 2242.6 1084.6 2242.3 1081.9C2242 1079.2 2241.7 1076.6 2241.6 1073.9C2241.4 1071.2 2241.4 1068.6 2241.4 1065.9C2241.4 1063.2 2241.5 1060.6 2241.6 1057.9C2241.7 1055.2 2241.9 1052.6 2242.2 1049.9C2242.4 1047.2 2242.6 1044.6 2242.9 1041.9C2243.2 1039.2 2243.4 1036.6 2243.7 1033.9C2243.9 1031.2 2244.1 1028.6 2244.3 1025.9C2244.5 1023.2 2244.7 1020.6 2244.9 1017.9C2245.1 1015.2 2245.2 1012.6 2245.4 1009.9C2245.5 1007.2 2245.7 1004.6 2245.8 1001.9C2245.9 999.2 2246 996.6 2246 993.9C2246 991.2 2246 988.6 2246 985.9C2246 983.2 2245.9 980.6 2245.8 977.9C2245.7 975.2 2245.5 972.6 2245.4 969.9C2245.2 967.2 2245 964.6 2244.7 961.9C2244.5 959.2 2244.2 956.6 2243.9 953.9C2243.6 951.2 2243.2 948.6 2242.9 945.9C2242.5 943.2 2242.1 940.6 2241.7 937.9C2241.3 935.2 2240.9 932.6 2240.5 929.9C2240 927.2 2239.6 924.6 2239.2 921.9C2238.8 919.2 2238.4 916.6 2238 913.9C2237.6 911.2 2237.2 908.6 2236.8 905.9C2236.5 903.2 2236.2 900.6 2235.8 897.9C2235.5 895.2 2235.3 892.6 2235 889.9C2234.7 887.2 2234.5 884.6 2234.3 881.9C2234 879.2 2233.8 876.6 2233.6 873.9C2233.4 871.2 2233.2 868.6 2233 865.9C2232.8 863.2 2232.7 860.6 2232.5 857.9C2232.4 855.2 2232.2 852.6 2232.1 849.9C2232 847.2 2231.9 844.6 2231.8 841.9C2231.8 839.2 2231.7 836.6 2231.6 833.9C2231.6 831.2 2231.5 828.6 2231.5 825.9C2231.4 823.2 2231.4 820.6 2231.4 817.9C2231.3 815.2 2231.3 812.6 2231.3 809.9C2231.2 807.2 2231.2 804.6 2231.2 801.9C2231.1 799.2 2231.1 796.6 2231 793.9C2231 791.2 2230.9 788.6 2230.8 785.9C2230.7 783.2 2230.6 780.6 2230.5 777.9C2230.4 775.2 2230.3 772.6 2230.2 769.9C2230.1 767.2 2229.9 764.6 2229.8 761.9C2229.7 759.2 2229.5 756.6 2229.4 753.9C2229.2 751.2 2229.1 748.6 2228.9 745.9C2228.7 743.2 2228.5 740.6 2228.4 737.9C2228.2 735.2 2228 732.6 2227.8 729.9C2227.6 727.2 2227.4 724.6 2227.2 721.9C2227 719.2 2226.8 716.6 2226.6 713.9C2226.4 711.2 2226.2 708.6 2225.9 705.9C2225.7 703.2 2225.5 700.6 2225.2 697.9C2225 695.2 2224.8 692.6 2224.5 689.9C2224.3 687.2 2224.1 684.6 2223.9 681.9C2223.6 679.2 2223.4 676.6 2223.2 673.9C2223.1 673.1 2223.1 672.4 2223 671.6L2214.1 671.6C2214.1 672.4 2214 673.1 2214 673.9C2213.7 676.6 2213.5 679.2 2213.3 681.9C2213.1 684.6 2212.8 687.2 2212.6 689.9C2212.4 692.6 2212.1 695.2 2211.9 697.9C2211.7 700.6 2211.4 703.2 2211.2 705.9C2211 708.6 2210.8 711.2 2210.6 713.9C2210.4 716.6 2210.2 719.2 2210 721.9C2209.8 724.6 2209.6 727.2 2209.4 729.9C2209.2 732.6 2209 735.2 2208.8 737.9C2208.6 740.6 2208.4 743.2 2208.3 745.9C2208.1 748.6 2207.9 751.2 2207.8 753.9C2207.6 756.6 2207.5 759.2 2207.3 761.9C2207.2 764.6 2207.1 767.2 2207 769.9C2206.8 772.6 2206.7 775.2 2206.6 777.9C2206.5 780.6 2206.4 783.2 2206.3 785.9C2206.3 788.6 2206.2 791.2 2206.1 793.9C2206.1 796.6 2206 799.2 2206 801.9C2205.9 804.6 2205.9 807.2 2205.9 809.9C2205.9 812.6 2205.8 815.2 2205.8 817.9C2205.8 820.6 2205.7 823.2 2205.7 825.9C2205.6 828.6 2205.6 831.2 2205.5 833.9C2205.5 836.6 2205.4 839.2 2205.3 841.9C2205.2 844.6 2205.1 847.2 2205 849.9C2204.9 852.6 2204.8 855.2 2204.6 857.9C2204.5 860.6 2204.3 863.2 2204.2 865.9C2204 868.6 2203.8 871.2 2203.6 873.9C2203.4 876.6 2203.1 879.2 2202.9 881.9C2202.7 884.6 2202.4 887.2 2202.2 889.9C2201.9 892.6 2201.6 895.2 2201.3 897.9C2201 900.6 2200.7 903.2 2200.3 905.9C2200 908.6 2199.6 911.2 2199.2 913.9C2198.8 916.6 2198.4 919.2 2198 921.9C2197.5 924.6 2197.1 927.2 2196.7 929.9C2196.3 932.6 2195.9 935.2 2195.5 937.9C2195.1 940.6 2194.7 943.2 2194.3 945.9C2193.9 948.6 2193.6 951.2 2193.3 953.9C2193 956.6 2192.7 959.2 2192.5 961.9C2192.2 964.6 2192 967.2 2191.8 969.9C2191.6 972.6 2191.5 975.2 2191.4 977.9C2191.3 980.6 2191.2 983.2 2191.2 985.9C2191.1 988.6 2191.1 991.2 2191.2 993.9C2191.2 996.6 2191.3 999.2 2191.4 1001.9C2191.5 1004.6 2191.6 1007.2 2191.8 1009.9C2191.9 1012.6 2192.1 1015.2 2192.3 1017.9C2192.5 1020.6 2192.6 1023.2 2192.8 1025.9C2193.1 1028.6 2193.3 1031.2 2193.5 1033.9C2193.7 1036.6 2194 1039.2 2194.3 1041.9C2194.5 1044.6 2194.8 1047.2 2195 1049.9C2195.2 1052.6 2195.4 1055.2 2195.6 1057.9C2195.7 1060.6 2195.8 1063.2 2195.8 1065.9C2195.8 1068.6 2195.7 1071.2 2195.6 1073.9C2195.4 1076.6 2195.2 1079.2 2194.9 1081.9C2194.6 1084.6 2194.2 1087.2 2193.7 1089.9C2193.2 1092.6 2192.6 1095.2 2192 1097.9C2191.4 1100.6 2190.7 1103.2 2190 1105.9C2189.3 1108.6 2188.6 1111.2 2187.8 1113.9C2187 1116.6 2186.2 1119.2 2185.5 1121.9C2184.7 1124.6 2183.9 1127.2 2183.2 1129.9C2182.5 1132.6 2181.8 1135.2 2181.2 1137.9C2180.6 1140.6 2180.1 1143.2 2179.7 1145.9C2179.3 1148.6 2178.9 1151.2 2178.7 1153.9C2178.5 1156.6 2178.6 1159.2 2178.6 1161.9Z"/>
<path class="v" fill="#FF3030" d="M2339.1 1161.9C2339.1 1159.2 2338.4 1156.6 2337.8 1153.9C2337.3 1151.2 2336.6 1148.6 2335.8 1145.9C2335.1 1143.2 2334.3 1140.6 2333.5 1137.9C2332.6 1135.2 2331.7 1132.6 2330.7 1129.9C2329.7 1127.2 2328.7 1124.6 2327.7 1121.9C2326.7 1119.2 2325.8 1116.6 2324.8 1113.9C2323.9 1111.2 2323 1108.6 2322.2 1105.9C2321.4 1103.2 2320.6 1100.6 2320 1097.9C2319.3 1095.2 2318.8 1092.6 2318.4 1089.9C2317.9 1087.2 2317.6 1084.6 2317.5 1081.9C2317.3 1079.2 2317.2 1076.6 2317.3 1073.9C2317.4 1071.2 2317.6 1068.6 2317.8 1065.9C2318.1 1063.2 2318.4 1060.6 2318.9 1057.9C2319.3 1055.2 2319.8 1052.6 2320.3 1049.9C2320.9 1047.2 2321.5 1044.6 2322.1 1041.9C2322.8 1039.2 2323.4 1036.6 2324.1 1033.9C2324.8 1031.2 2325.4 1028.6 2326.1 1025.9C2326.8 1023.2 2327.4 1020.6 2328 1017.9C2328.6 1015.2 2329.1 1012.6 2329.5 1009.9C2330 1007.2 2330.3 1004.6 2330.6 1001.9C2330.9 999.2 2331.2 996.6 2331.4 993.9C2331.5 991.2 2331.7 988.6 2331.7 985.9C2331.7 983.2 2331.7 980.6 2331.6 977.9C2331.4 975.2 2331.3 972.6 2331 969.9C2330.8 967.2 2330.5 964.6 2330.2 961.9C2329.9 959.2 2329.6 956.6 2329.3 953.9C2328.9 951.2 2328.6 948.6 2328.2 945.9C2327.8 943.2 2327.5 940.6 2327.1 937.9C2326.7 935.2 2326.3 932.6 2325.8 929.9C2325.4 927.2 2325 924.6 2324.5 921.9C2324.1 919.2 2323.6 916.6 2323.1 913.9C2322.7 911.2 2322.2 908.6 2321.8 905.9C2321.3 903.2 2320.9 900.6 2320.5 897.9C2320.1 895.2 2319.8 892.6 2319.4 889.9C2319.1 887.2 2318.8 884.6 2318.4 881.9C2318.1 879.2 2317.8 876.6 2317.6 873.9C2317.3 871.2 2317 868.6 2316.8 865.9C2316.5 863.2 2316.3 860.6 2316.1 857.9C2315.8 855.2 2315.6 852.6 2315.4 849.9C2315.1 847.2 2314.9 844.6 2314.7 841.9C2314.5 839.2 2314.3 836.6 2314.1 833.9C2313.9 831.2 2313.7 828.6 2313.5 825.9C2313.3 823.2 2313.2 820.6 2313 817.9C2312.8 815.2 2312.5 812.6 2312.3 809.9C2312 807.2 2311.8 804.6 2311.5 801.9C2311.2 799.2 2310.9 796.6 2310.7 793.9C2310.4 791.2 2310.2 788.6 2309.9 785.9C2309.7 783.2 2309.4 780.6 2309.2 777.9C2309 775.2 2308.7 772.6 2308.5 769.9C2308.3 767.2 2308 764.6 2307.8 761.9C2307.6 759.2 2307.4 756.6 2307.2 753.9C2307 751.2 2306.8 748.6 2306.6 745.9C2306.4 743.2 2306.2 740.6 2306 737.9C2305.8 735.2 2305.6 732.6 2305.4 729.9C2305.3 727.2 2305.1 724.6 2304.9 721.9C2304.8 719.2 2304.6 716.6 2304.4 713.9C2304.3 711.2 2304.2 708.6 2304 705.9C2303.9 703.2 2303.8 700.6 2303.6 697.9C2303.5 695.2 2303.4 692.6 2303.3 689.9C2303.1 687.2 2303 684.6 2302.9 681.9C2302.8 679.2 2302.7 676.6 2302.6 673.9C2302.5 673.2 2302.5 672.6 2302.5 671.9L2295.7 671.9C2295.7 672.6 2295.6 673.2 2295.6 673.9C2295.5 676.6 2295.4 679.2 2295.3 681.9C2295.1 684.6 2295 687.2 2294.9 689.9C2294.8 692.6 2294.6 695.2 2294.5 697.9C2294.4 700.6 2294.3 703.2 2294.1 705.9C2294 708.6 2293.9 711.2 2293.7 713.9C2293.6 716.6 2293.4 719.2 2293.2 721.9C2293.1 724.6 2292.9 727.2 2292.7 729.9C2292.5 732.6 2292.3 735.2 2292.2 737.9C2292 740.6 2291.8 743.2 2291.6 745.9C2291.4 748.6 2291.2 751.2 2291 753.9C2290.8 756.6 2290.6 759.2 2290.3 761.9C2290.1 764.6 2289.9 767.2 2289.7 769.9C2289.4 772.6 2289.2 775.2 2289 777.9C2288.7 780.6 2288.5 783.2 2288.2 785.9C2288 788.6 2287.7 791.2 2287.5 793.9C2287.2 796.6 2286.9 799.2 2286.7 801.9C2286.4 804.6 2286.1 807.2 2285.9 809.9C2285.6 812.6 2285.4 815.2 2285.2 817.9C2285 820.6 2284.8 823.2 2284.6 825.9C2284.5 828.6 2284.3 831.2 2284.1 833.9C2283.9 836.6 2283.7 839.2 2283.5 841.9C2283.3 844.6 2283 847.2 2282.8 849.9C2282.6 852.6 2282.3 855.2 2282.1 857.9C2281.9 860.6 2281.6 863.2 2281.4 865.9C2281.1 868.6 2280.9 871.2 2280.6 873.9C2280.3 876.6 2280 879.2 2279.7 881.9C2279.4 884.6 2279.1 887.2 2278.7 889.9C2278.4 892.6 2278 895.2 2277.6 897.9C2277.2 900.6 2276.8 903.2 2276.4 905.9C2276 908.6 2275.5 911.2 2275 913.9C2274.6 916.6 2274.1 919.2 2273.6 921.9C2273.2 924.6 2272.7 927.2 2272.3 929.9C2271.9 932.6 2271.5 935.2 2271.1 937.9C2270.7 940.6 2270.3 943.2 2270 945.9C2269.6 948.6 2269.2 951.2 2268.9 953.9C2268.5 956.6 2268.2 959.2 2267.9 961.9C2267.6 964.6 2267.4 967.2 2267.1 969.9C2266.9 972.6 2266.7 975.2 2266.6 977.9C2266.5 980.6 2266.4 983.2 2266.5 985.9C2266.5 988.6 2266.6 991.2 2266.8 993.9C2267 996.6 2267.2 999.2 2267.5 1001.9C2267.8 1004.6 2268.2 1007.2 2268.6 1009.9C2269.1 1012.6 2269.6 1015.2 2270.1 1017.9C2270.7 1020.6 2271.4 1023.2 2272 1025.9C2272.7 1028.6 2273.4 1031.2 2274.1 1033.9C2274.8 1036.6 2275.4 1039.2 2276 1041.9C2276.7 1044.6 2277.3 1047.2 2277.8 1049.9C2278.4 1052.6 2278.9 1055.2 2279.3 1057.9C2279.7 1060.6 2280.1 1063.2 2280.3 1065.9C2280.6 1068.6 2280.8 1071.2 2280.8 1073.9C2280.9 1076.6 2280.9 1079.2 2280.7 1081.9C2280.5 1084.6 2280.2 1087.2 2279.8 1089.9C2279.4 1092.6 2278.8 1095.2 2278.2 1097.9C2277.5 1100.6 2276.8 1103.2 2276 1105.9C2275.2 1108.6 2274.3 1111.2 2273.3 1113.9C2272.4 1116.6 2271.4 1119.2 2270.4 1121.9C2269.4 1124.6 2268.4 1127.2 2267.5 1129.9C2266.5 1132.6 2265.6 1135.2 2264.7 1137.9C2263.8 1140.6 2263 1143.2 2262.3 1145.9C2261.6 1148.6 2260.9 1151.2 2260.3 1153.9C2259.8 1156.6 2259.1 1159.2 2259.1 1161.9Z"/>
<path class="v" fill="#7EC0EE" d="M2446.4 1161.9C2446.4 1159.2 2446.6 1156.6 2446.5 1153.9C2446.5 1151.2 2446.3 1148.6 2446.1 1145.9C2445.9 1143.2 2445.6 1140.6 2445.2 1137.9C2444.9 1135.2 2444.4 1132.6 2443.9 1129.9C2443.4 1127.2 2442.9 1124.6 2442.2 1121.9C2441.6 1119.2 2441 1116.6 2440.3 1113.9C2439.6 1111.2 2438.9 1108.6 2438.2 1105.9C2437.5 1103.2 2436.7 1100.6 2436 1097.9C2435.3 1095.2 2434.6 1092.6 2434 1089.9C2433.3 1087.2 2432.7 1084.6 2432.1 1081.9C2431.5 1079.2 2430.9 1076.6 2430.4 1073.9C2429.9 1071.2 2429.5 1068.6 2429.1 1065.9C2428.7 1063.2 2428.3 1060.6 2428 1057.9C2427.7 1055.2 2427.5 1052.6 2427.3 1049.9C2427.1 1047.2 2427 1044.6 2426.9 1041.9C2426.8 1039.2 2426.8 1036.6 2426.8 1033.9C2426.8 1031.2 2426.9 1028.6 2427 1025.9C2427 1023.2 2427.1 1020.6 2427.3 1017.9C2427.4 1015.2 2427.6 1012.6 2427.7 1009.9C2427.9 1007.2 2428.1 1004.6 2428.3 1001.9C2428.5 999.2 2428.7 996.6 2428.9 993.9C2429.2 991.2 2429.4 988.6 2429.7 985.9C2430 983.2 2430.2 980.6 2430.5 977.9C2430.8 975.2 2431 972.6 2431.2 969.9C2431.5 967.2 2431.7 964.6 2431.8 961.9C2432 959.2 2432.2 956.6 2432.3 953.9C2432.4 951.2 2432.6 948.6 2432.6 945.9C2432.7 943.2 2432.8 940.6 2432.9 937.9C2432.9 935.2 2432.9 932.6 2433 929.9C2433 927.2 2433 924.6 2433 921.9C2433 919.2 2433 916.6 2433 913.9C2432.9 911.2 2432.8 908.6 2432.7 905.9C2432.6 903.2 2432.5 900.6 2432.3 897.9C2432.2 895.2 2432 892.6 2431.7 889.9C2431.5 887.2 2431.3 884.6 2431 881.9C2430.7 879.2 2430.4 876.6 2430.1 873.9C2429.9 871.2 2429.5 868.6 2429.2 865.9C2428.9 863.2 2428.6 860.6 2428.2 857.9C2427.9 855.2 2427.6 852.6 2427.2 849.9C2426.9 847.2 2426.5 844.6 2426.2 841.9C2425.8 839.2 2425.5 836.6 2425.1 833.9C2424.8 831.2 2424.4 828.6 2424.1 825.9C2423.7 823.2 2423.4 820.6 2423.1 817.9C2422.7 815.2 2422.4 812.6 2422.1 809.9C2421.9 807.2 2421.6 804.6 2421.4 801.9C2421.1 799.2 2420.9 796.6 2420.7 793.9C2420.5 791.2 2420.2 788.6 2420 785.9C2419.8 783.2 2419.6 780.6 2419.4 777.9C2419.2 775.2 2419 772.6 2418.7 769.9C2418.5 767.2 2418.3 764.6 2418 761.9C2417.8 759.2 2417.6 756.6 2417.3 753.9C2417 751.2 2416.8 748.6 2416.5 745.9C2416.3 743.2 2416 740.6 2415.8 737.9C2415.5 735.2 2415.3 732.6 2415.1 729.9C2414.9 727.2 2414.6 724.6 2414.4 721.9C2414.2 719.2 2414 716.6 2413.8 713.9C2413.6 711.2 2413.4 708.6 2413.3 705.9C2413.1 703.2 2412.9 700.6 2412.7 697.9C2412.5 695.2 2412.3 692.6 2412.1 689.9C2411.9 687.2 2411.8 684.6 2411.6 681.9C2411.4 679.2 2411.2 676.6 2411.1 673.9C2410.9 671.2 2410.8 668.6 2410.6 665.9C2410.5 663.2 2410.4 660.6 2410.3 657.9C2410.1 655.2 2410 652.6 2409.9 649.9C2409.8 647.2 2409.7 644.6 2409.6 641.9C2409.5 639.2 2409.4 636.6 2409.3 633.9C2409.2 632.3 2409.1 630.8 2409.1 629.2L2403.8 629.2C2403.7 630.8 2403.7 632.3 2403.6 633.9C2403.5 636.6 2403.4 639.2 2403.3 641.9C2403.2 644.6 2403 647.2 2402.9 649.9C2402.8 652.6 2402.7 655.2 2402.6 657.9C2402.5 660.6 2402.3 663.2 2402.2 665.9C2402.1 668.6 2401.9 671.2 2401.8 673.9C2401.6 676.6 2401.4 679.2 2401.3 681.9C2401.1 684.6 2400.9 687.2 2400.7 689.9C2400.5 692.6 2400.3 695.2 2400.1 697.9C2400 700.6 2399.8 703.2 2399.6 705.9C2399.4 708.6 2399.2 711.2 2399 713.9C2398.8 716.6 2398.6 719.2 2398.4 721.9C2398.2 724.6 2398 727.2 2397.8 729.9C2397.5 732.6 2397.3 735.2 2397.1 737.9C2396.8 740.6 2396.6 743.2 2396.3 745.9C2396.1 748.6 2395.8 751.2 2395.5 753.9C2395.3 756.6 2395 759.2 2394.8 761.9C2394.6 764.6 2394.3 767.2 2394.1 769.9C2393.9 772.6 2393.7 775.2 2393.5 777.9C2393.2 780.6 2393 783.2 2392.8 785.9C2392.6 788.6 2392.4 791.2 2392.2 793.9C2391.9 796.6 2391.7 799.2 2391.5 801.9C2391.2 804.6 2391 807.2 2390.7 809.9C2390.4 812.6 2390.1 815.2 2389.8 817.9C2389.5 820.6 2389.1 823.2 2388.8 825.9C2388.4 828.6 2388.1 831.2 2387.7 833.9C2387.4 836.6 2387 839.2 2386.7 841.9C2386.3 844.6 2386 847.2 2385.6 849.9C2385.3 852.6 2384.9 855.2 2384.6 857.9C2384.3 860.6 2383.9 863.2 2383.6 865.9C2383.3 868.6 2383 871.2 2382.7 873.9C2382.4 876.6 2382.1 879.2 2381.9 881.9C2381.6 884.6 2381.3 887.2 2381.1 889.9C2380.9 892.6 2380.7 895.2 2380.5 897.9C2380.3 900.6 2380.2 903.2 2380.1 905.9C2380 908.6 2379.9 911.2 2379.9 913.9C2379.8 916.6 2379.8 919.2 2379.8 921.9C2379.8 924.6 2379.8 927.2 2379.9 929.9C2379.9 932.6 2379.9 935.2 2380 937.9C2380 940.6 2380.1 943.2 2380.2 945.9C2380.3 948.6 2380.4 951.2 2380.5 953.9C2380.7 956.6 2380.8 959.2 2381 961.9C2381.2 964.6 2381.4 967.2 2381.6 969.9C2381.8 972.6 2382.1 975.2 2382.3 977.9C2382.6 980.6 2382.9 983.2 2383.2 985.9C2383.4 988.6 2383.7 991.2 2383.9 993.9C2384.1 996.6 2384.4 999.2 2384.6 1001.9C2384.8 1004.6 2384.9 1007.2 2385.1 1009.9C2385.3 1012.6 2385.4 1015.2 2385.6 1017.9C2385.7 1020.6 2385.8 1023.2 2385.9 1025.9C2386 1028.6 2386 1031.2 2386 1033.9C2386 1036.6 2386 1039.2 2385.9 1041.9C2385.8 1044.6 2385.7 1047.2 2385.5 1049.9C2385.3 1052.6 2385.1 1055.2 2384.8 1057.9C2384.5 1060.6 2384.2 1063.2 2383.8 1065.9C2383.4 1068.6 2382.9 1071.2 2382.4 1073.9C2381.9 1076.6 2381.4 1079.2 2380.8 1081.9C2380.2 1084.6 2379.5 1087.2 2378.9 1089.9C2378.2 1092.6 2377.5 1095.2 2376.8 1097.9C2376.1 1100.6 2375.4 1103.2 2374.7 1105.9C2373.9 1108.6 2373.2 1111.2 2372.5 1113.9C2371.9 1116.6 2371.2 1119.2 2370.6 1121.9C2370 1124.6 2369.4 1127.2 2368.9 1129.9C2368.4 1132.6 2368 1135.2 2367.6 1137.9C2367.2 1140.6 2367 1143.2 2366.8 1145.9C2366.6 1148.6 2366.4 1151.2 2366.3 1153.9C2366.3 1156.6 2366.4 1159.2 2366.4 1161.9Z"/>
<path class="v" fill="#436EEE" d="M2526.9 1161.9C2526.9 1159.2 2526.6 1156.6 2526.3 1153.9C2526 1151.2 2525.5 1148.6 2525 1145.9C2524.6 1143.2 2524 1140.6 2523.4 1137.9C2522.7 1135.2 2522 1132.6 2521.2 1129.9C2520.4 1127.2 2519.6 1124.6 2518.7 1121.9C2517.9 1119.2 2517 1116.6 2516.1 1113.9C2515.1 1111.2 2514.2 1108.6 2513.4 1105.9C2512.5 1103.2 2511.7 1100.6 2510.9 1097.9C2510.1 1095.2 2509.4 1092.6 2508.8 1089.9C2508.1 1087.2 2507.6 1084.6 2507.1 1081.9C2506.6 1079.2 2506.2 1076.6 2505.9 1073.9C2505.5 1071.2 2505.3 1068.6 2505.1 1065.9C2505 1063.2 2504.9 1060.6 2504.9 1057.9C2504.8 1055.2 2504.8 1052.6 2504.9 1049.9C2504.9 1047.2 2504.9 1044.6 2505 1041.9C2505 1039.2 2505.1 1036.6 2505.1 1033.9C2505.2 1031.2 2505.3 1028.6 2505.3 1025.9C2505.4 1023.2 2505.4 1020.6 2505.5 1017.9C2505.6 1015.2 2505.6 1012.6 2505.7 1009.9C2505.7 1007.2 2505.8 1004.6 2505.8 1001.9C2505.9 999.2 2505.9 996.6 2505.9 993.9C2505.8 991.2 2505.8 988.6 2505.7 985.9C2505.6 983.2 2505.5 980.6 2505.4 977.9C2505.2 975.2 2505.1 972.6 2504.9 969.9C2504.8 967.2 2504.6 964.6 2504.4 961.9C2504.2 959.2 2503.9 956.6 2503.7 953.9C2503.5 951.2 2503.3 948.6 2503.1 945.9C2502.9 943.2 2502.7 940.6 2502.5 937.9C2502.2 935.2 2502 932.6 2501.8 929.9C2501.6 927.2 2501.4 924.6 2501.1 921.9C2500.9 919.2 2500.7 916.6 2500.4 913.9C2500.2 911.2 2499.9 908.6 2499.7 905.9C2499.4 903.2 2499.2 900.6 2499 897.9C2498.8 895.2 2498.6 892.6 2498.4 889.9C2498.2 887.2 2498 884.6 2497.7 881.9C2497.5 879.2 2497.3 876.6 2497.1 873.9C2496.9 871.2 2496.6 868.6 2496.4 865.9C2496.2 863.2 2496 860.6 2495.8 857.9C2495.6 855.2 2495.4 852.6 2495.2 849.9C2495 847.2 2494.8 844.6 2494.6 841.9C2494.4 839.2 2494.3 836.6 2494.1 833.9C2493.9 831.2 2493.8 828.6 2493.7 825.9C2493.6 823.2 2493.4 820.6 2493.3 817.9C2493.2 815.2 2493 812.6 2492.9 809.9C2492.7 807.2 2492.5 804.6 2492.4 801.9C2492.2 799.2 2492.1 796.6 2491.9 793.9C2491.8 791.2 2491.7 788.6 2491.5 785.9C2491.4 783.2 2491.3 780.6 2491.2 777.9C2491.1 775.2 2490.9 772.6 2490.8 769.9C2490.7 766.7 2490.5 763.5 2490.3 760.3L2483.5 760.3C2483.4 763.5 2483.2 766.7 2483 769.9C2482.9 772.6 2482.8 775.2 2482.7 777.9C2482.5 780.6 2482.4 783.2 2482.3 785.9C2482.2 788.6 2482.1 791.2 2481.9 793.9C2481.8 796.6 2481.6 799.2 2481.5 801.9C2481.3 804.6 2481.1 807.2 2481 809.9C2480.8 812.6 2480.7 815.2 2480.5 817.9C2480.4 820.6 2480.3 823.2 2480.2 825.9C2480 828.6 2479.9 831.2 2479.7 833.9C2479.6 836.6 2479.4 839.2 2479.2 841.9C2479.1 844.6 2478.9 847.2 2478.7 849.9C2478.5 852.6 2478.3 855.2 2478.1 857.9C2477.9 860.6 2477.6 863.2 2477.4 865.9C2477.2 868.6 2477 871.2 2476.8 873.9C2476.5 876.6 2476.3 879.2 2476.1 881.9C2475.9 884.6 2475.7 887.2 2475.5 889.9C2475.3 892.6 2475.1 895.2 2474.8 897.9C2474.6 900.6 2474.4 903.2 2474.2 905.9C2473.9 908.6 2473.7 911.2 2473.4 913.9C2473.2 916.6 2472.9 919.2 2472.7 921.9C2472.5 924.6 2472.2 927.2 2472 929.9C2471.8 932.6 2471.6 935.2 2471.4 937.9C2471.2 940.6 2471 943.2 2470.8 945.9C2470.6 948.6 2470.3 951.2 2470.1 953.9C2469.9 956.6 2469.7 959.2 2469.5 961.9C2469.3 964.6 2469.1 967.2 2468.9 969.9C2468.7 972.6 2468.6 975.2 2468.5 977.9C2468.3 980.6 2468.2 983.2 2468.1 985.9C2468.1 988.6 2468 991.2 2468 993.9C2468 996.6 2468 999.2 2468 1001.9C2468 1004.6 2468.1 1007.2 2468.2 1009.9C2468.2 1012.6 2468.3 1015.2 2468.3 1017.9C2468.4 1020.6 2468.5 1023.2 2468.5 1025.9C2468.6 1028.6 2468.6 1031.2 2468.7 1033.9C2468.8 1036.6 2468.8 1039.2 2468.9 1041.9C2468.9 1044.6 2469 1047.2 2469 1049.9C2469 1052.6 2469 1055.2 2469 1057.9C2468.9 1060.6 2468.9 1063.2 2468.7 1065.9C2468.5 1068.6 2468.3 1071.2 2468 1073.9C2467.6 1076.6 2467.2 1079.2 2466.8 1081.9C2466.3 1084.6 2465.7 1087.2 2465.1 1089.9C2464.4 1092.6 2463.7 1095.2 2462.9 1097.9C2462.2 1100.6 2461.3 1103.2 2460.5 1105.9C2459.6 1108.6 2458.7 1111.2 2457.8 1113.9C2456.9 1116.6 2456 1119.2 2455.1 1121.9C2454.2 1124.6 2453.4 1127.2 2452.6 1129.9C2451.8 1132.6 2451.1 1135.2 2450.5 1137.9C2449.8 1140.6 2449.3 1143.2 2448.8 1145.9C2448.3 1148.6 2447.9 1151.2 2447.6 1153.9C2447.2 1156.6 2446.9 1159.2 2446.9 1161.9Z"/>
<path class="v" fill="#FF3030" d="M2607.4 1161.9C2607.4 1159.2 2606.8 1156.6 2606.3 1153.9C2605.7 1151.2 2605.1 1148.6 2604.4 1145.9C2603.7 1143.2 2603 1140.6 2602.1 1137.9C2601.3 1135.2 2600.4 1132.6 2599.5 1129.9C2598.6 1127.2 2597.6 1124.6 2596.7 1121.9C2595.8 1119.2 2595 1116.6 2594.1 1113.9C2593.3 1111.2 2592.6 1108.6 2591.9 1105.9C2591.3 1103.2 2590.7 1100.6 2590.3 1097.9C2589.8 1095.2 2589.5 1092.6 2589.2 1089.9C2588.9 1087.2 2588.8 1084.6 2588.7 1081.9C2588.6 1079.2 2588.6 1076.6 2588.7 1073.9C2588.7 1071.2 2588.9 1068.6 2589 1065.9C2589.2 1063.2 2589.4 1060.6 2589.7 1057.9C2590 1055.2 2590.3 1052.6 2590.6 1049.9C2590.9 1047.2 2591.3 1044.6 2591.7 1041.9C2592 1039.2 2592.4 1036.6 2592.7 1033.9C2593.1 1031.2 2593.4 1028.6 2593.7 1025.9C2594 1023.2 2594.3 1020.6 2594.5 1017.9C2594.8 1015.2 2595 1012.6 2595.2 1009.9C2595.3 1007.2 2595.5 1004.6 2595.6 1001.9C2595.7 999.2 2595.8 996.6 2595.9 993.9C2595.9 991.2 2596 988.6 2596 985.9C2596 983.2 2596 980.6 2596 977.9C2596 975.2 2595.9 972.6 2595.9 969.9C2595.8 967.2 2595.7 964.6 2595.6 961.9C2595.4 959.2 2595.3 956.6 2595.1 953.9C2594.9 951.2 2594.7 948.6 2594.5 945.9C2594.3 943.2 2594 940.6 2593.8 937.9C2593.5 935.2 2593.2 932.6 2593 929.9C2592.7 927.2 2592.4 924.6 2592.1 921.9C2591.8 919.2 2591.5 916.6 2591.2 913.9C2590.9 911.2 2590.5 908.6 2590.2 905.9C2589.9 903.2 2589.5 900.6 2589.1 897.9C2588.7 895.2 2588.3 892.6 2587.9 889.9C2587.5 887.2 2587.1 884.6 2586.7 881.9C2586.3 879.2 2585.9 876.6 2585.5 873.9C2585.1 871.2 2584.7 868.6 2584.3 865.9C2583.9 863.2 2583.5 860.6 2583.1 857.9C2582.7 855.2 2582.3 852.6 2581.8 849.9C2581.4 847.2 2581 844.6 2580.6 841.9C2580.2 839.2 2579.8 836.6 2579.5 833.9C2579.1 831.2 2578.7 828.6 2578.4 825.9C2578 823.2 2577.7 820.6 2577.4 817.9C2577.1 815.2 2576.8 812.6 2576.5 809.9C2576.2 807.2 2576 804.6 2575.7 801.9C2575.5 799.2 2575.2 796.6 2574.9 793.9C2574.7 791.2 2574.4 788.6 2574.1 785.9C2573.9 783.2 2573.6 780.6 2573.4 777.9C2573.1 775.2 2572.9 772.6 2572.7 769.9C2572.5 767.2 2572.4 764.6 2572.2 761.9C2572 759.2 2571.9 756.6 2571.7 753.9C2571.5 751.2 2571.4 748.6 2571.2 745.9C2571 743.2 2570.8 740.6 2570.6 737.9C2570.4 735.2 2570.3 732.6 2570.1 729.9C2569.9 727.2 2569.8 724.6 2569.7 721.9C2569.6 719.2 2569.5 716.6 2569.4 713.9C2569.3 711.2 2569.3 708.6 2569.2 705.9C2569.1 703.2 2569.1 700.6 2569 697.9C2569 695.2 2568.9 692.6 2568.8 689.9C2568.7 687.2 2568.6 684.6 2568.5 681.9C2568.2 673.9 2567.9 665.9 2567.8 657.9C2567.7 653.9 2567.6 650 2567.6 646L2567.4 514.2C2567.2 650 2567.2 653.9 2567.1 657.9C2566.9 665.9 2566.6 673.9 2566.3 681.9C2566.2 684.6 2566.1 687.2 2566 689.9C2566 692.6 2565.9 695.2 2565.8 697.9C2565.7 700.6 2565.7 703.2 2565.6 705.9C2565.6 708.6 2565.5 711.2 2565.4 713.9C2565.4 716.6 2565.3 719.2 2565.2 721.9C2565.1 724.6 2564.9 727.2 2564.8 729.9C2564.6 732.6 2564.4 735.2 2564.2 737.9C2564 740.6 2563.8 743.2 2563.7 745.9C2563.5 748.6 2563.3 751.2 2563.1 753.9C2563 756.6 2562.8 759.2 2562.6 761.9C2562.5 764.6 2562.3 767.2 2562.1 769.9C2561.9 772.6 2561.7 775.2 2561.5 777.9C2561.2 780.6 2561 783.2 2560.7 785.9C2560.5 788.6 2560.2 791.2 2559.9 793.9C2559.6 796.6 2559.4 799.2 2559.1 801.9C2558.9 804.6 2558.6 807.2 2558.3 809.9C2558 812.6 2557.7 815.2 2557.4 817.9C2557.1 820.6 2556.8 823.2 2556.5 825.9C2556.1 828.6 2555.8 831.2 2555.4 833.9C2555 836.6 2554.6 839.2 2554.2 841.9C2553.8 844.6 2553.4 847.2 2553 849.9C2552.6 852.6 2552.2 855.2 2551.8 857.9C2551.4 860.6 2551 863.2 2550.6 865.9C2550.2 868.6 2549.8 871.2 2549.4 873.9C2549 876.6 2548.6 879.2 2548.2 881.9C2547.8 884.6 2547.3 887.2 2546.9 889.9C2546.5 892.6 2546.1 895.2 2545.7 897.9C2545.4 900.6 2545 903.2 2544.6 905.9C2544.3 908.6 2544 911.2 2543.7 913.9C2543.3 916.6 2543 919.2 2542.7 921.9C2542.5 924.6 2542.2 927.2 2541.9 929.9C2541.6 932.6 2541.3 935.2 2541.1 937.9C2540.8 940.6 2540.5 943.2 2540.3 945.9C2540.1 948.6 2539.9 951.2 2539.7 953.9C2539.6 956.6 2539.4 959.2 2539.3 961.9C2539.2 964.6 2539.1 967.2 2539 969.9C2538.9 972.6 2538.9 975.2 2538.8 977.9C2538.8 980.6 2538.8 983.2 2538.8 985.9C2538.9 988.6 2538.9 991.2 2539 993.9C2539 996.6 2539.1 999.2 2539.2 1001.9C2539.4 1004.6 2539.5 1007.2 2539.7 1009.9C2539.9 1012.6 2540.1 1015.2 2540.3 1017.9C2540.6 1020.6 2540.8 1023.2 2541.1 1025.9C2541.4 1028.6 2541.8 1031.2 2542.1 1033.9C2542.5 1036.6 2542.8 1039.2 2543.2 1041.9C2543.5 1044.6 2543.9 1047.2 2544.2 1049.9C2544.6 1052.6 2544.9 1055.2 2545.1 1057.9C2545.4 1060.6 2545.6 1063.2 2545.8 1065.9C2546 1068.6 2546.1 1071.2 2546.2 1073.9C2546.2 1076.6 2546.2 1079.2 2546.1 1081.9C2546.1 1084.6 2545.9 1087.2 2545.6 1089.9C2545.4 1092.6 2545 1095.2 2544.6 1097.9C2544.1 1100.6 2543.5 1103.2 2542.9 1105.9C2542.2 1108.6 2541.5 1111.2 2540.7 1113.9C2539.9 1116.6 2539 1119.2 2538.1 1121.9C2537.2 1124.6 2536.3 1127.2 2535.3 1129.9C2534.4 1132.6 2533.5 1135.2 2532.7 1137.9C2531.9 1140.6 2531.1 1143.2 2530.4 1145.9C2529.8 1148.6 2529.1 1151.2 2528.6 1153.9C2528.1 1156.6 2527.4 1159.2 2527.4 1161.9Z"/>
</g>
<path class="ax" d="M179.3 140.6 V1212.8"/>
<path class="ax" d="M177.0 1210.5 H2649"/>
<path class="ax" d="M164.8 1161.9 H179.3"/>
<text x="150.6" y="1180.1000000000001" font-size="53" text-anchor="end">0</text>
<path class="ax" d="M164.8 789.5 H179.3"/>
<text x="150.6" y="807.7" font-size="53" text-anchor="end">1</text>
<path class="ax" d="M164.8 417.1 H179.3"/>
<text x="150.6" y="435.3" font-size="53" text-anchor="end">2</text>
<path class="ax" d="M340.2 1210.5 V1224.9"/>
<path class="ax" d="M608.5 1210.5 V1224.9"/>
<path class="ax" d="M876.9 1210.5 V1224.9"/>
<path class="ax" d="M1145.2 1210.5 V1224.9"/>
<path class="ax" d="M1413.6 1210.5 V1224.9"/>
<path class="ax" d="M1681.9 1210.5 V1224.9"/>
<path class="ax" d="M1950.2 1210.5 V1224.9"/>
<path class="ax" d="M2218.6 1210.5 V1224.9"/>
<path class="ax" d="M2486.9 1210.5 V1224.9"/>
<text transform="translate(364.2 1264.2) rotate(-45)" x="0" y="0" font-size="53" text-anchor="end" textLength="380.8" lengthAdjust="spacingAndGlyphs">Lef1+ Papillary</text>
<text transform="translate(632.5 1264.2) rotate(-45)" x="0" y="0" font-size="53" text-anchor="end" textLength="394.2" lengthAdjust="spacingAndGlyphs">Dlk1+ Reticular</text>
<text transform="translate(900.9 1264.2) rotate(-45)" x="0" y="0" font-size="53" text-anchor="end" textLength="406.6" lengthAdjust="spacingAndGlyphs">Dpp4+ Papillary</text>
<text transform="translate(1169.2 1264.2) rotate(-45)" x="0" y="0" font-size="53" text-anchor="end" textLength="480.9" lengthAdjust="spacingAndGlyphs">Mki67+ Fibroblasts</text>
<text transform="translate(1437.6 1264.2) rotate(-45)" x="0" y="0" font-size="53" text-anchor="end" textLength="587.6" lengthAdjust="spacingAndGlyphs">Fabp4+ Pre-Adipocytes</text>
<text transform="translate(1705.9 1264.2) rotate(-45)" x="0" y="0" font-size="53" text-anchor="end" textLength="562.1" lengthAdjust="spacingAndGlyphs">Inhba+ Dermal Papilla</text>
<text transform="translate(1974.2 1264.2) rotate(-45)" x="0" y="0" font-size="53" text-anchor="end" textLength="411.3" lengthAdjust="spacingAndGlyphs">Tagln+ Papillary</text>
<text transform="translate(2242.6 1264.2) rotate(-45)" x="0" y="0" font-size="53" text-anchor="end" textLength="349.2" lengthAdjust="spacingAndGlyphs">Plac8+ Fascia</text>
<text transform="translate(2510.9 1264.2) rotate(-45)" x="0" y="0" font-size="53" text-anchor="end" textLength="556.9" lengthAdjust="spacingAndGlyphs">Acan+ Dermal Sheath</text>
<text transform="translate(93.7 675.5) rotate(-90)" x="0" y="0" font-size="61.8" text-anchor="middle" textLength="491.5" lengthAdjust="spacingAndGlyphs">Expression Level</text>
<text x="1414.5" y="99.9" font-size="70.6" font-weight="bold" text-anchor="middle" textLength="161.6" lengthAdjust="spacingAndGlyphs">Helz</text>
</svg></body></html>
